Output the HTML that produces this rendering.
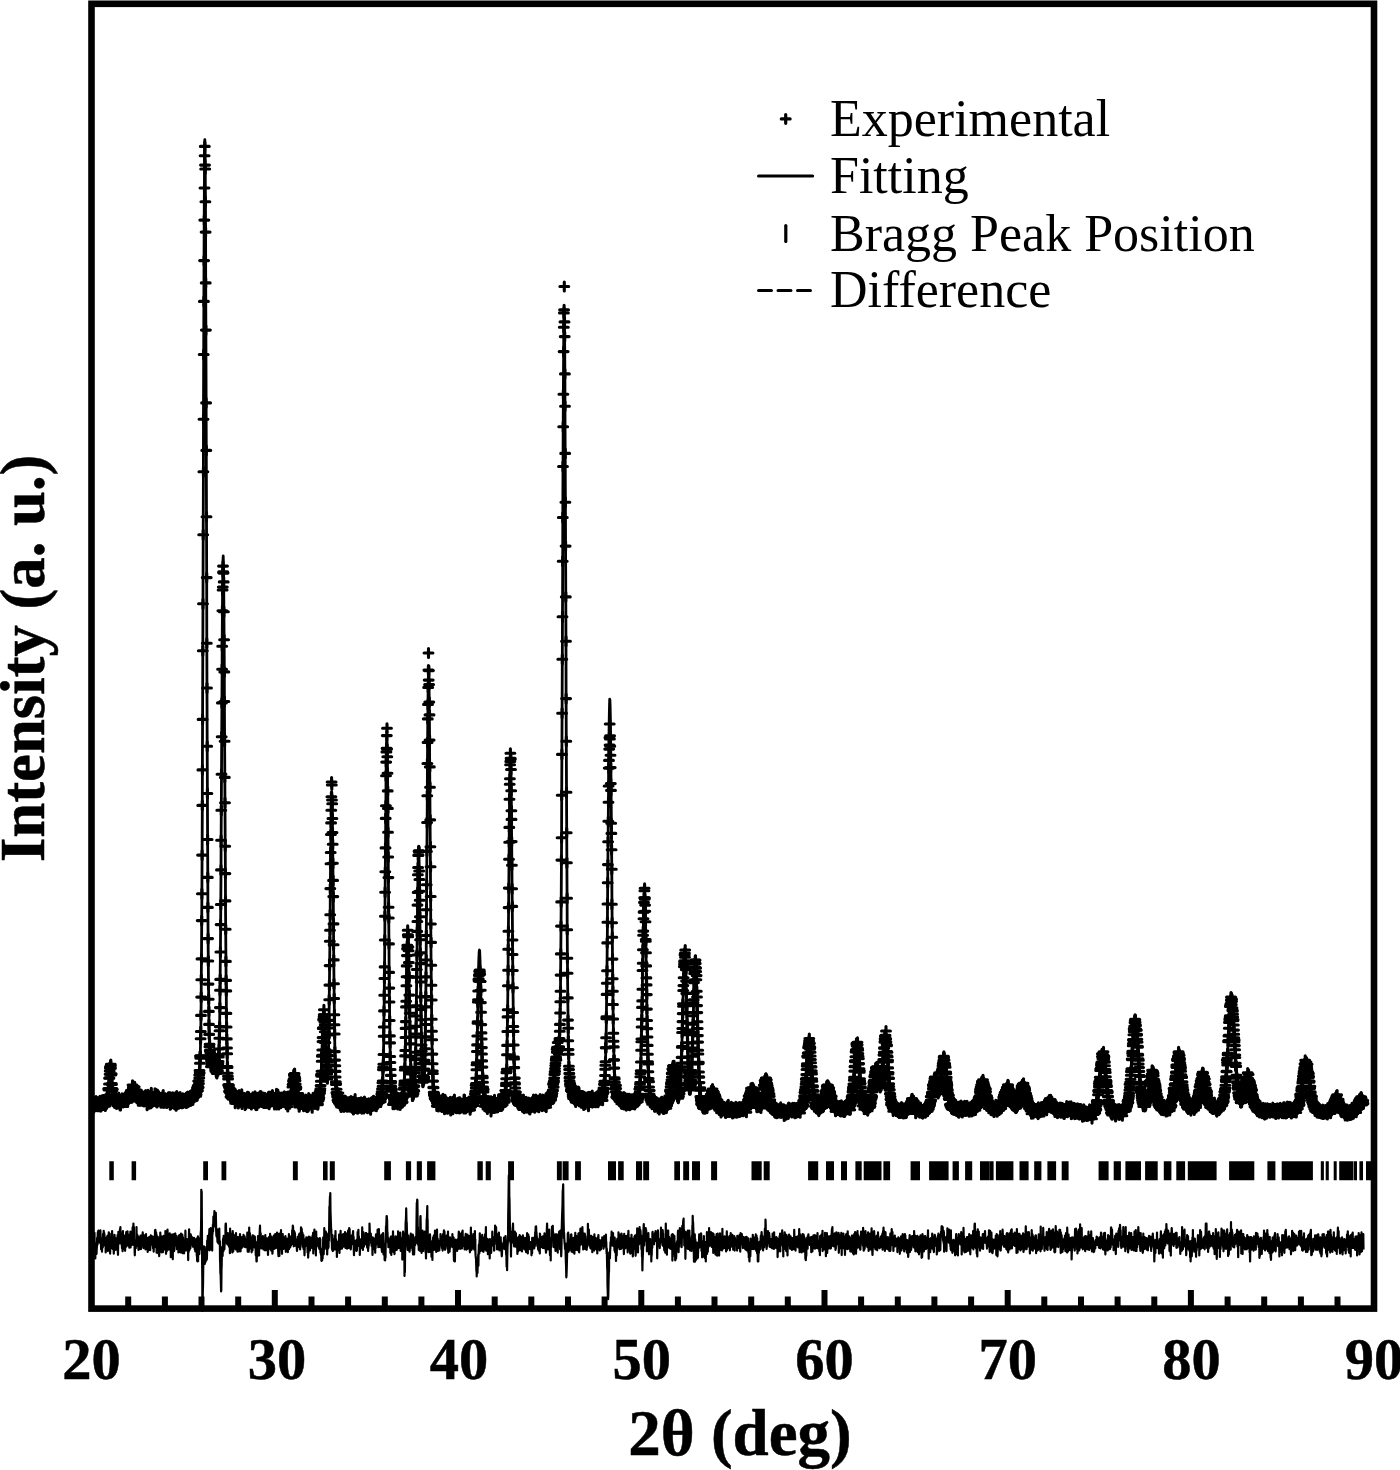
<!DOCTYPE html>
<html><head><meta charset="utf-8"><style>
html,body{margin:0;padding:0;background:#fff;overflow:hidden;}
svg{display:block;}
text{font-family:"Liberation Serif",serif;}
</style></head><body>
<svg width="1400" height="1470" viewBox="0 0 1400 1470">
<defs>
<marker id="p" markerUnits="userSpaceOnUse" markerWidth="16" markerHeight="16" refX="8" refY="8" overflow="visible">
<path d="M3.6 8H12.4M8 3.6V12.4" stroke="#000" stroke-width="3.1" stroke-linecap="round" fill="none"/>
</marker>
<clipPath id="c"><rect x="91.6" y="0" width="1282" height="1310"/></clipPath>
</defs>
<rect width="1400" height="1470" fill="#fff"/>
<polyline clip-path="url(#c)" points="91.6,1105.6 91.8,1108.1 92,1107.8 92.1,1104.4 92.3,1104.8 92.5,1104.3 92.7,1106.4 92.9,1105.2 93.1,1106.7 93.2,1101.6 93.4,1108.3 93.6,1105 93.8,1106.5 94,1104.9 94.2,1104.3 94.3,1106 94.5,1106.6 94.7,1104.6 94.9,1104.7 95.1,1106.3 95.3,1103.2 95.4,1101.9 95.6,1105.6 95.8,1103.5 96,1101 96.2,1103.2 96.4,1103.8 96.5,1102.4 96.7,1101.7 96.9,1104.7 97.1,1106.4 97.3,1104.1 97.5,1103.1 97.6,1105.3 97.8,1105.9 98,1103.9 98.2,1105.5 98.4,1106.4 98.6,1103.9 98.7,1102.7 98.9,1105 99.1,1104.7 99.3,1106.4 99.5,1101.6 99.7,1102.8 99.8,1102.4 100,1100.6 100.2,1104.3 100.4,1105 100.6,1102.5 100.8,1106.7 100.9,1105.5 101.1,1105.1 101.3,1104.6 101.5,1105.7 101.7,1101.1 101.9,1104.9 102,1104.8 102.2,1100.1 102.4,1104.2 102.6,1103 102.8,1105 103,1102.5 103.1,1103.3 103.3,1104 103.5,1101.5 103.7,1104.4 103.9,1102.9 104.1,1104 104.2,1101.9 104.4,1105.1 104.6,1104 104.8,1102.4 105,1103.9 105.2,1105.1 105.3,1106.1 105.5,1099.1 105.7,1104 105.9,1103 106.1,1101.7 106.3,1099.7 106.4,1104.1 106.6,1098.6 106.8,1102 107,1103.2 107.2,1096.5 107.4,1098.5 107.5,1095.5 107.7,1097.8 107.9,1099.3 108.1,1099 108.3,1088.6 108.5,1089.3 108.6,1090 108.8,1089.5 109,1084 109.2,1078.3 109.4,1077.9 109.6,1074.2 109.7,1071.1 109.9,1067.4 110.1,1068.5 110.3,1067.2 110.5,1065.8 110.7,1065.9 110.8,1064.4 111,1068.3 111.2,1075 111.4,1074.1 111.6,1073.9 111.8,1083.6 111.9,1084.5 112.1,1090.9 112.3,1088.5 112.5,1089.5 112.7,1089.2 112.9,1097.1 113,1101.3 113.2,1095 113.4,1096.3 113.6,1099.8 113.8,1097.4 114,1099 114.1,1099.3 114.3,1100.7 114.5,1102.8 114.7,1100.7 114.9,1102.7 115.1,1100.1 115.2,1101.7 115.4,1096.7 115.6,1098.2 115.8,1102.8 116,1100 116.2,1102.5 116.3,1102.4 116.5,1104 116.7,1103 116.9,1103.4 117.1,1101.1 117.3,1100 117.4,1099.9 117.6,1100.4 117.8,1099.1 118,1100.3 118.2,1101.2 118.4,1101.9 118.5,1100.7 118.7,1097.5 118.9,1101.2 119.1,1101.8 119.3,1103.5 119.4,1102.5 119.6,1100 119.8,1099.9 120,1105.3 120.2,1102.8 120.4,1104.9 120.5,1105.5 120.7,1099.6 120.9,1102 121.1,1102.1 121.3,1102.3 121.5,1102.2 121.6,1101.5 121.8,1101.4 122,1098.1 122.2,1100.7 122.4,1099.5 122.6,1101.2 122.7,1100 122.9,1102.1 123.1,1102.5 123.3,1101.5 123.5,1101.4 123.7,1100.9 123.8,1099.8 124,1100.3 124.2,1099.6 124.4,1101.3 124.6,1100.5 124.8,1101.6 124.9,1097.7 125.1,1102.1 125.3,1098.7 125.5,1098.6 125.7,1099.6 125.9,1098.8 126,1100.4 126.2,1098.5 126.4,1097.4 126.6,1097.7 126.8,1102 127,1099.2 127.1,1096.5 127.3,1098.8 127.5,1095.3 127.7,1102.1 127.9,1094.9 128.1,1098.9 128.2,1098.8 128.4,1094.3 128.6,1097.7 128.8,1098.9 129,1097.5 129.2,1096.8 129.3,1097.9 129.5,1095.9 129.7,1095.9 129.9,1094.5 130.1,1095.8 130.3,1092 130.4,1095.5 130.6,1092.2 130.8,1090.6 131,1093.5 131.2,1096.1 131.4,1094.1 131.5,1090.5 131.7,1092.9 131.9,1090 132.1,1090.5 132.3,1090.8 132.5,1085.1 132.6,1090.7 132.8,1087.8 133,1088.5 133.2,1086.6 133.4,1086.5 133.6,1087.9 133.7,1092 133.9,1094 134.1,1090.3 134.3,1093 134.5,1090.1 134.7,1086.7 134.8,1091.6 135,1092.5 135.2,1090.8 135.4,1092.8 135.6,1093.7 135.8,1090.8 135.9,1089.8 136.1,1092.9 136.3,1093.2 136.5,1093.2 136.7,1096.5 136.9,1098.4 137,1094 137.2,1096.7 137.4,1097.5 137.6,1097.3 137.8,1098.2 138,1095.4 138.1,1098 138.3,1100.9 138.5,1098.5 138.7,1095.8 138.9,1098.5 139.1,1100 139.2,1098.3 139.4,1096.5 139.6,1100.9 139.8,1095.3 140,1099 140.2,1098 140.3,1095.7 140.5,1100.7 140.7,1099 140.9,1096 141.1,1099.6 141.3,1097.5 141.4,1094.6 141.6,1097.1 141.8,1099 142,1099.8 142.2,1098.8 142.4,1098.6 142.5,1099.5 142.7,1098.1 142.9,1100.9 143.1,1098.8 143.3,1099.1 143.5,1099.6 143.6,1096.4 143.8,1097.1 144,1101.5 144.2,1099.2 144.4,1097.9 144.6,1099.1 144.7,1097.5 144.9,1099 145.1,1097.1 145.3,1099 145.5,1095.3 145.6,1101 145.8,1097.3 146,1095.2 146.2,1097.9 146.4,1097.6 146.6,1098.6 146.7,1096 146.9,1099 147.1,1105.4 147.3,1095.7 147.5,1098.9 147.7,1097.6 147.8,1098.5 148,1094.6 148.2,1095.9 148.4,1099 148.6,1098 148.8,1101.3 148.9,1096.7 149.1,1098.4 149.3,1103.8 149.5,1096.5 149.7,1096.2 149.9,1097.9 150,1097.8 150.2,1099.6 150.4,1098.2 150.6,1096.5 150.8,1098.5 151,1103.3 151.1,1100.6 151.3,1092.6 151.5,1097.9 151.7,1096.4 151.9,1099.4 152.1,1097.9 152.2,1102.1 152.4,1100.1 152.6,1100.1 152.8,1098.7 153,1098.3 153.2,1099 153.3,1101 153.5,1099.5 153.7,1097.8 153.9,1101 154.1,1098.9 154.3,1098.4 154.4,1097 154.6,1097.5 154.8,1097.3 155,1093.1 155.2,1100.7 155.4,1099.8 155.5,1098.3 155.7,1100.8 155.9,1099.6 156.1,1099.5 156.3,1093.9 156.5,1098.4 156.6,1099.9 156.8,1102 157,1102.5 157.2,1101.7 157.4,1096.6 157.6,1094.6 157.7,1100.1 157.9,1099.1 158.1,1100.9 158.3,1098.8 158.5,1099.5 158.7,1096.1 158.8,1100 159,1098.3 159.2,1099.9 159.4,1100.1 159.6,1099 159.8,1099.9 159.9,1099.2 160.1,1100.8 160.3,1100.3 160.5,1098.3 160.7,1098.2 160.9,1102.8 161,1099.2 161.2,1101.4 161.4,1100.2 161.6,1098.4 161.8,1098 162,1099.8 162.1,1100 162.3,1100.8 162.5,1097.1 162.7,1098.4 162.9,1099.4 163.1,1102.8 163.2,1095 163.4,1100.6 163.6,1098.6 163.8,1100.6 164,1098.8 164.2,1100.5 164.3,1102.9 164.5,1100.5 164.7,1100.7 164.9,1100.6 165.1,1098.4 165.3,1101 165.4,1099.5 165.6,1098.3 165.8,1099.9 166,1099.5 166.2,1101.5 166.4,1099.9 166.5,1099 166.7,1103 166.9,1102.1 167.1,1102.6 167.3,1101.3 167.5,1099.9 167.6,1099.3 167.8,1099.6 168,1102.1 168.2,1100.5 168.4,1097.3 168.6,1100.2 168.7,1097.5 168.9,1100.6 169.1,1097.9 169.3,1097.8 169.5,1100.6 169.7,1100.2 169.8,1097.1 170,1101.9 170.2,1104.8 170.4,1097.5 170.6,1104.1 170.8,1099.1 170.9,1099.5 171.1,1100.2 171.3,1097.7 171.5,1103.2 171.7,1101.6 171.9,1099.1 172,1100.1 172.2,1097.6 172.4,1100 172.6,1102.6 172.8,1097.3 172.9,1099.8 173.1,1101 173.3,1102.8 173.5,1103.5 173.7,1099.9 173.9,1099.3 174,1101.7 174.2,1100.1 174.4,1100.2 174.6,1103 174.8,1104.3 175,1101.4 175.1,1100.5 175.3,1102.1 175.5,1097.1 175.7,1100.9 175.9,1098.8 176.1,1105.8 176.2,1102.4 176.4,1101.3 176.6,1100.6 176.8,1096 177,1102.5 177.2,1104.3 177.3,1099.6 177.5,1102.5 177.7,1102.5 177.9,1098 178.1,1103 178.3,1103.9 178.4,1101.6 178.6,1101 178.8,1102.7 179,1098 179.2,1101.4 179.4,1103.3 179.5,1098.7 179.7,1103.2 179.9,1100.4 180.1,1097 180.3,1101 180.5,1099.2 180.6,1101.8 180.8,1098.7 181,1103.2 181.2,1099.6 181.4,1101.8 181.6,1099.8 181.7,1100.3 181.9,1103.4 182.1,1101.4 182.3,1100.1 182.5,1098.3 182.7,1103.2 182.8,1102.3 183,1100.1 183.2,1101.2 183.4,1098.6 183.6,1098.6 183.8,1099 183.9,1101.3 184.1,1101.2 184.3,1099 184.5,1102 184.7,1102.1 184.9,1100.8 185,1102.5 185.2,1099.8 185.4,1100.1 185.6,1101.3 185.8,1100.2 186,1101.8 186.1,1097.6 186.3,1103.1 186.5,1098.4 186.7,1099.7 186.9,1097.1 187.1,1101.2 187.2,1102.5 187.4,1102 187.6,1101.5 187.8,1096.5 188,1098 188.2,1098.6 188.3,1097.6 188.5,1101.8 188.7,1099.8 188.9,1099.3 189.1,1100.3 189.3,1097.2 189.4,1097.2 189.6,1097.2 189.8,1100 190,1099.6 190.2,1100 190.4,1101 190.5,1095.7 190.7,1097.3 190.9,1098.7 191.1,1095.4 191.3,1097.1 191.5,1100.2 191.6,1100.3 191.8,1100.1 192,1097.8 192.2,1097.1 192.4,1099.8 192.6,1096.5 192.7,1097.9 192.9,1099.9 193.1,1096.1 193.3,1095.4 193.5,1096.5 193.7,1097.6 193.8,1097.2 194,1096.3 194.2,1096.9 194.4,1092 194.6,1093.4 194.8,1095.4 194.9,1092.7 195.1,1091.5 195.3,1091.5 195.5,1091.8 195.7,1093.2 195.9,1090.9 196,1093.4 196.2,1096.3 196.4,1091.7 196.6,1094.5 196.8,1091.8 197,1088.1 197.1,1089.5 197.3,1087.3 197.5,1090.7 197.7,1085.6 197.9,1090.7 198.1,1088.2 198.2,1081.1 198.4,1086.8 198.6,1087.6 198.8,1080.7 199,1083.5 199.2,1075 199.3,1077.9 199.5,1070.6 199.7,1072.9 199.9,1063.2 200.1,1056.1 200.2,1058.1 200.4,1055.9 200.6,1038.8 200.8,1031.5 201,1015.4 201.2,997.1 201.3,979.7 201.5,958.9 201.7,920.6 201.9,893.8 202.1,855.1 202.3,805.4 202.4,769.9 202.6,719.4 202.8,650.8 203,603.8 203.2,534.8 203.4,471.8 203.5,419.2 203.7,354.5 203.9,301.4 204.1,260.6 204.3,220.1 204.5,188 204.6,155.7 204.8,146.4 205,165.1 205.2,169 205.4,201.7 205.6,232.1 205.7,282.9 205.9,330.1 206.1,402.9 206.3,450.4 206.5,516.7 206.7,577.6 206.8,643.2 207,688 207.2,746.3 207.4,793.5 207.6,839.5 207.8,877.4 207.9,907.4 208.1,938.6 208.3,961 208.5,984.1 208.7,999.2 208.9,1011.4 209,1024.4 209.2,1034.4 209.4,1046.7 209.6,1044.4 209.8,1050.8 210,1057.1 210.1,1050.1 210.3,1052.8 210.5,1055.5 210.7,1059.3 210.9,1066.6 211.1,1061.6 211.2,1064 211.4,1060.4 211.6,1054.6 211.8,1055 212,1063.5 212.2,1061.2 212.3,1057.3 212.5,1063.4 212.7,1056.6 212.9,1063.4 213.1,1064.2 213.3,1058.6 213.4,1057.9 213.6,1063.1 213.8,1058.4 214,1063.7 214.2,1058.9 214.4,1064.4 214.5,1063.1 214.7,1062.2 214.9,1061.6 215.1,1065.1 215.3,1060.3 215.5,1065 215.6,1065.3 215.8,1068.6 216,1064.2 216.2,1072.2 216.4,1067.6 216.6,1065.9 216.7,1072.5 216.9,1073.5 217.1,1068.9 217.3,1067 217.5,1069.1 217.7,1066.9 217.8,1067.1 218,1070.9 218.2,1066.4 218.4,1063.7 218.6,1061.5 218.8,1056.9 218.9,1054.7 219.1,1049 219.3,1038.3 219.5,1030.7 219.7,1026.6 219.9,1007.6 220,990.3 220.2,979.4 220.4,952 220.6,924.6 220.8,904.5 221,869.9 221.1,840.2 221.3,810.3 221.5,774.3 221.7,736.7 221.9,702.9 222.1,669.2 222.2,646.2 222.4,610.8 222.6,590 222.8,587.1 223,566.1 223.2,571.9 223.3,572.5 223.5,573.1 223.7,581.9 223.9,611.8 224.1,639.7 224.3,671.9 224.4,701.5 224.6,741.3 224.8,777.4 225,802.7 225.2,846.2 225.4,873.6 225.5,900.9 225.7,929.3 225.9,961.4 226.1,980.4 226.3,990.9 226.4,1013.4 226.6,1027 226.8,1038.9 227,1048 227.2,1053.7 227.4,1066.6 227.5,1067.4 227.7,1073.3 227.9,1076.3 228.1,1078.9 228.3,1084.7 228.5,1085.7 228.6,1084.7 228.8,1085.4 229,1087.5 229.2,1091.7 229.4,1090.5 229.6,1091.4 229.7,1090.7 229.9,1091.4 230.1,1092.9 230.3,1088.7 230.5,1096.8 230.7,1091.9 230.8,1092.7 231,1097.2 231.2,1095 231.4,1094.9 231.6,1093.8 231.8,1091.9 231.9,1095.9 232.1,1098.3 232.3,1094 232.5,1099.1 232.7,1093.9 232.9,1094.9 233,1097.7 233.2,1096.8 233.4,1098.4 233.6,1095.5 233.8,1095 234,1093.4 234.1,1094.9 234.3,1095.3 234.5,1094.7 234.7,1098.4 234.9,1096.5 235.1,1093.8 235.2,1103.3 235.4,1096.4 235.6,1095.6 235.8,1100.9 236,1100.8 236.2,1096.1 236.3,1095.5 236.5,1096.5 236.7,1101 236.9,1098.1 237.1,1097.1 237.3,1098.8 237.4,1101.4 237.6,1096.1 237.8,1098.2 238,1096.2 238.2,1103.5 238.4,1102.9 238.5,1101.1 238.7,1098.9 238.9,1100.6 239.1,1095 239.3,1099.9 239.5,1096.6 239.6,1096.7 239.8,1098 240,1098.7 240.2,1100.7 240.4,1100.9 240.6,1100.1 240.7,1097.6 240.9,1101 241.1,1099.4 241.3,1102 241.5,1097.8 241.7,1094.1 241.8,1098.8 242,1104.1 242.2,1100.7 242.4,1099.4 242.6,1101.6 242.8,1100.8 242.9,1100.8 243.1,1098.8 243.3,1100 243.5,1100.3 243.7,1098.6 243.9,1097.7 244,1100.2 244.2,1101.9 244.4,1101.3 244.6,1101 244.8,1101 245,1105.2 245.1,1100.5 245.3,1102.1 245.5,1104 245.7,1100.2 245.9,1100.6 246.1,1102.2 246.2,1103.5 246.4,1100.7 246.6,1100.8 246.8,1100.3 247,1097.7 247.2,1102.4 247.3,1099.6 247.5,1096.7 247.7,1099.9 247.9,1096.7 248.1,1098.2 248.3,1100.2 248.4,1098.4 248.6,1102.3 248.8,1097.3 249,1100.7 249.2,1101.3 249.4,1103.1 249.5,1102.1 249.7,1100.7 249.9,1100.4 250.1,1100.1 250.3,1102.5 250.5,1099 250.6,1101.3 250.8,1100.1 251,1100.8 251.2,1099.8 251.4,1104.5 251.6,1099 251.7,1100.8 251.9,1100.8 252.1,1101.5 252.3,1101.2 252.5,1101.2 252.7,1102.3 252.8,1097.3 253,1100.3 253.2,1097.9 253.4,1100.8 253.6,1098 253.7,1098.4 253.9,1100.2 254.1,1103.1 254.3,1101.5 254.5,1100.9 254.7,1103.1 254.8,1098.5 255,1096.2 255.2,1099.5 255.4,1099.8 255.6,1102.8 255.8,1104.6 255.9,1097.7 256.1,1105.2 256.3,1103.4 256.5,1102 256.7,1101.1 256.9,1105.1 257,1100.5 257.2,1099.4 257.4,1100.6 257.6,1097.6 257.8,1101.3 258,1100.1 258.1,1101 258.3,1101.1 258.5,1098.3 258.7,1102.9 258.9,1098.3 259.1,1102.1 259.2,1097.2 259.4,1101.1 259.6,1098.7 259.8,1100.4 260,1099.1 260.2,1096 260.3,1098.1 260.5,1100.5 260.7,1101.6 260.9,1097.4 261.1,1096.2 261.3,1098.6 261.4,1099.9 261.6,1099.1 261.8,1098.7 262,1102 262.2,1102.2 262.4,1101.8 262.5,1098.5 262.7,1100.5 262.9,1099.9 263.1,1097.5 263.3,1102 263.5,1100.5 263.6,1099.4 263.8,1103.1 264,1101.8 264.2,1102 264.4,1102.7 264.6,1101.7 264.7,1097.8 264.9,1099.5 265.1,1102.3 265.3,1098.8 265.5,1100.4 265.7,1101.1 265.8,1103.1 266,1102.8 266.2,1102 266.4,1099.9 266.6,1102.1 266.8,1101.3 266.9,1099.9 267.1,1102.9 267.3,1101.2 267.5,1098.8 267.7,1102.7 267.9,1099.7 268,1101.4 268.2,1097.2 268.4,1100.2 268.6,1098.4 268.8,1098.3 269,1096.5 269.1,1104.4 269.3,1099.9 269.5,1100.7 269.7,1102.4 269.9,1099.9 270.1,1101.2 270.2,1097.5 270.4,1100.6 270.6,1099.4 270.8,1101.1 271,1100.5 271.2,1097.4 271.3,1096.5 271.5,1098.2 271.7,1101.6 271.9,1101 272.1,1100.9 272.3,1096.2 272.4,1094.9 272.6,1098.9 272.8,1099.5 273,1098.9 273.2,1100.8 273.4,1099.8 273.5,1097.8 273.7,1098.4 273.9,1100.4 274.1,1100.2 274.3,1099.9 274.5,1104.5 274.6,1099.5 274.8,1100.3 275,1098.1 275.2,1099.3 275.4,1101 275.6,1101.1 275.7,1099.7 275.9,1100.8 276.1,1100.1 276.3,1096.3 276.5,1093.6 276.7,1104.5 276.8,1101.6 277,1099.8 277.2,1096.5 277.4,1097.4 277.6,1102.6 277.8,1094.5 277.9,1099.3 278.1,1101.6 278.3,1100.2 278.5,1101.4 278.7,1099.6 278.9,1104.6 279,1097.9 279.2,1097.2 279.4,1100.4 279.6,1102.7 279.8,1099.7 280,1101.9 280.1,1098.8 280.3,1097.6 280.5,1102.7 280.7,1103 280.9,1103 281,1099.1 281.2,1097.8 281.4,1097.8 281.6,1099.6 281.8,1101.3 282,1101.1 282.1,1097.4 282.3,1100.6 282.5,1100.3 282.7,1100.4 282.9,1100.2 283.1,1099.9 283.2,1101.5 283.4,1100.6 283.6,1100.8 283.8,1099.1 284,1101.2 284.2,1100.2 284.3,1096.3 284.5,1101.5 284.7,1100 284.9,1102.4 285.1,1100.2 285.3,1100.4 285.4,1101 285.6,1100.6 285.8,1099.7 286,1097.1 286.2,1104.3 286.4,1097.5 286.5,1100 286.7,1102 286.9,1101.4 287.1,1101.8 287.3,1102.2 287.5,1103.2 287.6,1101.3 287.8,1106.5 288,1098.6 288.2,1101.1 288.4,1099.9 288.6,1099.5 288.7,1101.1 288.9,1103.4 289.1,1098.9 289.3,1098.8 289.5,1101.6 289.7,1101.1 289.8,1103.8 290,1101.7 290.2,1099.7 290.4,1098.2 290.6,1098.9 290.8,1097.5 290.9,1094.4 291.1,1096.6 291.3,1095.3 291.5,1094.3 291.7,1092.8 291.9,1096.3 292,1092.8 292.2,1092 292.4,1087 292.6,1084.5 292.8,1084.6 293,1084.2 293.1,1081.3 293.3,1080.1 293.5,1081.6 293.7,1078.8 293.9,1074.6 294.1,1075.3 294.2,1074.4 294.4,1076.5 294.6,1073.5 294.8,1076.6 295,1079.7 295.2,1079.3 295.3,1078.4 295.5,1080.7 295.7,1084.1 295.9,1086.6 296.1,1089.1 296.3,1088.4 296.4,1087.3 296.6,1095 296.8,1093.8 297,1095.3 297.2,1096.2 297.4,1094.3 297.5,1096.8 297.7,1098.9 297.9,1101.2 298.1,1099.8 298.3,1093.6 298.5,1100.1 298.6,1101.7 298.8,1104 299,1103.1 299.2,1106.9 299.4,1104.9 299.6,1104.9 299.7,1104.3 299.9,1099.7 300.1,1104.3 300.3,1103.9 300.5,1101.7 300.7,1104 300.8,1103.7 301,1101.9 301.2,1102.7 301.4,1102.4 301.6,1103.5 301.8,1102.2 301.9,1104.1 302.1,1099.2 302.3,1102.5 302.5,1099.8 302.7,1102.2 302.9,1104.2 303,1103.2 303.2,1103 303.4,1103.3 303.6,1106.3 303.8,1101 304,1105 304.1,1100.2 304.3,1102.3 304.5,1103.6 304.7,1101.6 304.9,1103.7 305.1,1104.7 305.2,1100.9 305.4,1103.1 305.6,1102.6 305.8,1099.4 306,1102.9 306.2,1101.7 306.3,1106 306.5,1101.6 306.7,1106.7 306.9,1102.2 307.1,1107.2 307.2,1104.4 307.4,1104.2 307.6,1104.9 307.8,1105.1 308,1106.1 308.2,1106.7 308.3,1102.6 308.5,1100.8 308.7,1097.9 308.9,1102.5 309.1,1104.8 309.3,1104 309.4,1103.4 309.6,1102.5 309.8,1101.9 310,1102.6 310.2,1103.9 310.4,1099.6 310.5,1104.6 310.7,1100.2 310.9,1102.8 311.1,1101.8 311.3,1102.3 311.5,1100.9 311.6,1100.7 311.8,1102.5 312,1100.7 312.2,1107.9 312.4,1102 312.6,1101.5 312.7,1101.7 312.9,1100.6 313.1,1097.7 313.3,1102.2 313.5,1103.3 313.7,1099.5 313.8,1102.6 314,1100 314.2,1102.4 314.4,1103.1 314.6,1103.3 314.8,1103.2 314.9,1100.8 315.1,1103.9 315.3,1101.1 315.5,1102.7 315.7,1103.3 315.9,1101.2 316,1099 316.2,1102.9 316.4,1099.2 316.6,1099.5 316.8,1098.9 317,1102.9 317.1,1100.6 317.3,1096.1 317.5,1102.2 317.7,1104.8 317.9,1104 318.1,1098.7 318.2,1099.8 318.4,1100.3 318.6,1100.7 318.8,1098.4 319,1095.4 319.2,1098.7 319.3,1097.6 319.5,1092.3 319.7,1093.2 319.9,1093.3 320.1,1091 320.3,1090.4 320.4,1088.8 320.6,1085.6 320.8,1081.2 321,1074.8 321.2,1076.1 321.4,1074.1 321.5,1071.2 321.7,1061.3 321.9,1056.3 322.1,1055.2 322.3,1050 322.5,1041.6 322.6,1037.6 322.8,1028.4 323,1027.9 323.2,1019.9 323.4,1018.8 323.6,1016.8 323.7,1014.7 323.9,1009.8 324.1,1014.8 324.3,1020.4 324.5,1022.3 324.7,1025.1 324.8,1031.8 325,1037.2 325.2,1042.5 325.4,1042.7 325.6,1049.9 325.8,1053.5 325.9,1056.4 326.1,1058.7 326.3,1065.9 326.5,1066.9 326.7,1077.1 326.9,1073.1 327,1073.9 327.2,1073.7 327.4,1078.9 327.6,1070.4 327.8,1069.9 328,1064.7 328.1,1061.5 328.3,1055.6 328.5,1051.1 328.7,1034.9 328.9,1028 329.1,1020.4 329.2,999.8 329.4,985.1 329.6,965.6 329.8,941.3 330,930.2 330.2,914.7 330.3,888.6 330.5,863.7 330.7,852.5 330.9,834.5 331.1,822.9 331.3,810.3 331.4,796.8 331.6,782 331.8,785 332,800 332.2,803.8 332.4,818.5 332.5,832.6 332.7,844.2 332.9,863.3 333.1,880.4 333.3,896.6 333.5,923.9 333.6,944.8 333.8,959.9 334,983.8 334.2,998.5 334.4,1014.7 334.5,1024.7 334.7,1034 334.9,1051.6 335.1,1060.1 335.3,1065.8 335.5,1071.4 335.6,1077 335.8,1081.7 336,1084.4 336.2,1083.8 336.4,1092.6 336.6,1089.2 336.7,1093.4 336.9,1094.6 337.1,1096.8 337.3,1093.5 337.5,1100.3 337.7,1099.7 337.8,1100.4 338,1101.8 338.2,1097.7 338.4,1093.1 338.6,1100.7 338.8,1103.1 338.9,1103 339.1,1099.6 339.3,1100.7 339.5,1101.7 339.7,1097.5 339.9,1100.1 340,1100.3 340.2,1105.1 340.4,1100.5 340.6,1105.3 340.8,1102.2 341,1098.8 341.1,1107 341.3,1100.5 341.5,1103.9 341.7,1106.2 341.9,1101.7 342.1,1100.3 342.2,1105.1 342.4,1103.1 342.6,1100.6 342.8,1101 343,1102.4 343.2,1105.3 343.3,1102.8 343.5,1104.7 343.7,1106.8 343.9,1106.1 344.1,1106.5 344.3,1106.1 344.4,1100.4 344.6,1106.2 344.8,1104.4 345,1103.6 345.2,1101.7 345.4,1100.7 345.5,1101.7 345.7,1103.9 345.9,1101.7 346.1,1102.4 346.3,1102.9 346.5,1105.5 346.6,1103.6 346.8,1103.9 347,1106.9 347.2,1103.6 347.4,1105.5 347.6,1102.2 347.7,1105 347.9,1104.6 348.1,1104.7 348.3,1103.5 348.5,1102.4 348.7,1103.9 348.8,1103.5 349,1106.6 349.2,1106.3 349.4,1102.2 349.6,1105.8 349.8,1103.6 349.9,1105.5 350.1,1103.7 350.3,1101.7 350.5,1106.7 350.7,1105.6 350.9,1102.3 351,1101 351.2,1103.7 351.4,1102.4 351.6,1104 351.8,1106 352,1107.7 352.1,1104.1 352.3,1107.5 352.5,1107.1 352.7,1104 352.9,1101.6 353.1,1106.6 353.2,1106.1 353.4,1109.6 353.6,1107.7 353.8,1106.5 354,1108.3 354.2,1102.9 354.3,1105.3 354.5,1104.4 354.7,1108.4 354.9,1106.1 355.1,1099 355.3,1107.7 355.4,1103.2 355.6,1106.6 355.8,1104.1 356,1105.5 356.2,1106.3 356.4,1105.5 356.5,1103.2 356.7,1107.9 356.9,1105.9 357.1,1105.1 357.3,1106.5 357.5,1104.1 357.6,1108.9 357.8,1105.6 358,1105.9 358.2,1105.8 358.4,1103.4 358.6,1102.9 358.7,1105.6 358.9,1105.9 359.1,1107.8 359.3,1106.1 359.5,1103.1 359.7,1106.2 359.8,1106.8 360,1107.2 360.2,1105.9 360.4,1102.8 360.6,1107.5 360.8,1103.8 360.9,1106.3 361.1,1102.1 361.3,1106.7 361.5,1103.7 361.7,1107.3 361.8,1108.7 362,1107.5 362.2,1102.9 362.4,1103.3 362.6,1103.5 362.8,1106.5 362.9,1105.8 363.1,1105.5 363.3,1105.8 363.5,1106.3 363.7,1106.4 363.9,1108.5 364,1105 364.2,1105.5 364.4,1101.4 364.6,1102.5 364.8,1103.7 365,1102.7 365.1,1105.5 365.3,1107.1 365.5,1104.2 365.7,1104.1 365.9,1104 366.1,1105.3 366.2,1103.9 366.4,1105.8 366.6,1105.6 366.8,1105.7 367,1106.5 367.2,1105 367.3,1105.2 367.5,1108.4 367.7,1104.8 367.9,1106.5 368.1,1105 368.3,1104 368.4,1103.9 368.6,1103.2 368.8,1104.8 369,1103.6 369.2,1103.9 369.4,1107.2 369.5,1104.5 369.7,1107 369.9,1105.2 370.1,1106.4 370.3,1103.4 370.5,1104.9 370.6,1109.9 370.8,1106.2 371,1106.6 371.2,1105 371.4,1106.2 371.6,1102.2 371.7,1102.7 371.9,1105.3 372.1,1106 372.3,1103.5 372.5,1103.9 372.7,1103.6 372.8,1103.9 373,1101.8 373.2,1101.3 373.4,1104 373.6,1100.6 373.8,1102.1 373.9,1102.7 374.1,1101.8 374.3,1104.4 374.5,1102.9 374.7,1103.6 374.9,1101.7 375,1102.2 375.2,1104.7 375.4,1104.3 375.6,1102.5 375.8,1104.1 376,1103.7 376.1,1103.6 376.3,1106.4 376.5,1102.3 376.7,1103.9 376.9,1103.8 377.1,1102.3 377.2,1100.3 377.4,1104 377.6,1103 377.8,1102.4 378,1102.2 378.2,1102.1 378.3,1100 378.5,1102.4 378.7,1097.8 378.9,1101.3 379.1,1098.1 379.3,1100.3 379.4,1102.3 379.6,1100 379.8,1099.3 380,1101.1 380.2,1099.1 380.4,1098.5 380.5,1098.1 380.7,1101.8 380.9,1099.4 381.1,1098.4 381.3,1094 381.5,1097.1 381.6,1091.7 381.8,1094.3 382,1088.9 382.2,1093.9 382.4,1082.7 382.6,1086.3 382.7,1081.1 382.9,1069.6 383.1,1067.2 383.3,1064.2 383.5,1054.5 383.7,1036.2 383.8,1027 384,1010.9 384.2,995.2 384.4,978.5 384.6,966.9 384.8,940 384.9,916.2 385.1,892.2 385.3,871.8 385.5,847.9 385.7,818.4 385.9,805.7 386,775.8 386.2,762.1 386.4,751.9 386.6,748.2 386.8,735.6 387,728.2 387.1,749.1 387.3,756.7 387.5,773.3 387.7,790.9 387.9,808.4 388,832.3 388.2,857 388.4,877.6 388.6,907.3 388.8,918 389,943.9 389.1,972.4 389.3,988.1 389.5,1002 389.7,1020.5 389.9,1035.9 390.1,1042.9 390.2,1056.5 390.4,1062.5 390.6,1069.5 390.8,1075.4 391,1083 391.2,1081.5 391.3,1086.4 391.5,1091.2 391.7,1088.9 391.9,1089.6 392.1,1095.8 392.3,1095.5 392.4,1096 392.6,1097.3 392.8,1095.4 393,1104.4 393.2,1096.3 393.4,1097.8 393.5,1096 393.7,1098.5 393.9,1102.9 394.1,1099.9 394.3,1101.3 394.5,1099.2 394.6,1104.2 394.8,1100.9 395,1098 395.2,1102.4 395.4,1100.1 395.6,1102.3 395.7,1101.4 395.9,1101.8 396.1,1101.6 396.3,1099.5 396.5,1098.3 396.7,1103.5 396.8,1101.3 397,1102.2 397.2,1100.7 397.4,1097.4 397.6,1099 397.8,1104.6 397.9,1100.1 398.1,1100.9 398.3,1098.7 398.5,1100.6 398.7,1101 398.9,1101.3 399,1101.5 399.2,1100.4 399.4,1100.4 399.6,1101.6 399.8,1102.2 400,1101.2 400.1,1105.1 400.3,1101.8 400.5,1101.6 400.7,1099.8 400.9,1103.2 401.1,1098.8 401.2,1097.4 401.4,1098.6 401.6,1101.8 401.8,1097.8 402,1102.8 402.2,1099.6 402.3,1096 402.5,1098.3 402.7,1102.1 402.9,1095.6 403.1,1093.7 403.3,1096.6 403.4,1097 403.6,1094.6 403.8,1089.3 404,1087.8 404.2,1084.9 404.4,1083.1 404.5,1081 404.7,1069.9 404.9,1067.4 405.1,1055.9 405.3,1050.5 405.5,1037.5 405.6,1028.4 405.8,1021.6 406,1006.9 406.2,1001.3 406.4,985.7 406.6,976.8 406.7,965.9 406.9,955.6 407.1,948.9 407.3,945.4 407.5,947.5 407.7,930.2 407.8,934.9 408,935.2 408.2,936.8 408.4,946.9 408.6,950.7 408.8,962.5 408.9,976.7 409.1,977 409.3,995.1 409.5,1006.7 409.7,1013.2 409.9,1027.9 410,1037 410.2,1043.9 410.4,1056.2 410.6,1056.7 410.8,1068.1 411,1071.4 411.1,1074 411.3,1080.1 411.5,1083 411.7,1088.4 411.9,1085.1 412.1,1089.8 412.2,1090.4 412.4,1096 412.6,1090.5 412.8,1095.8 413,1089.6 413.2,1094.3 413.3,1093 413.5,1093.7 413.7,1090.4 413.9,1086.5 414.1,1086 414.3,1090.9 414.4,1086 414.6,1080.5 414.8,1081.2 415,1072.8 415.2,1067.4 415.3,1059.8 415.5,1058.7 415.7,1052.2 415.9,1034.1 416.1,1026.4 416.3,1016 416.4,1005.9 416.6,977.1 416.8,969.5 417,955 417.2,931.4 417.4,921.5 417.5,905.1 417.7,892.4 417.9,874.7 418.1,867.5 418.3,855.5 418.5,854.8 418.6,851.2 418.8,850.8 419,851.7 419.2,871 419.4,879.5 419.6,891.3 419.7,900.2 419.9,916.8 420.1,939.8 420.3,952.9 420.5,963.6 420.7,982 420.8,996.9 421,1009.4 421.2,1019.7 421.4,1037.1 421.6,1045 421.8,1051.3 421.9,1054.9 422.1,1063.6 422.3,1070.1 422.5,1076.3 422.7,1076.4 422.9,1082.3 423,1081.5 423.2,1080.3 423.4,1075.7 423.6,1079.2 423.8,1077.4 424,1079 424.1,1077.7 424.3,1077 424.5,1069 424.7,1060.4 424.9,1062.7 425.1,1048.7 425.2,1036.8 425.4,1024.5 425.6,1006.9 425.8,996.5 426,976.9 426.2,960 426.3,935.5 426.5,909.8 426.7,884.8 426.9,851.4 427.1,822.5 427.3,795.7 427.4,763.5 427.6,742.4 427.8,718.9 428,704.4 428.2,687.4 428.4,670 428.5,653 428.7,680.1 428.9,670.6 429.1,684.6 429.3,702.1 429.5,714.9 429.6,740.1 429.8,766.9 430,787.2 430.2,819.9 430.4,846.8 430.6,866.7 430.7,896.5 430.9,924 431.1,942.4 431.3,965.3 431.5,985.2 431.7,1000 431.8,1019.2 432,1031.3 432.2,1039.7 432.4,1054.1 432.6,1063.8 432.8,1071 432.9,1073.5 433.1,1081.1 433.3,1087.3 433.5,1087.7 433.7,1092.4 433.9,1094.6 434,1093.1 434.2,1095.9 434.4,1094.8 434.6,1098.6 434.8,1096.7 435,1096.2 435.1,1097.8 435.3,1098.2 435.5,1099.5 435.7,1100 435.9,1096.8 436.1,1098.2 436.2,1100.6 436.4,1101.1 436.6,1100.5 436.8,1106.1 437,1103.1 437.2,1100.8 437.3,1102.7 437.5,1104.1 437.7,1102.2 437.9,1098 438.1,1102 438.3,1102 438.4,1106.5 438.6,1098.4 438.8,1105.5 439,1102.1 439.2,1104.4 439.4,1102 439.5,1103.1 439.7,1105.1 439.9,1103.1 440.1,1105.1 440.3,1102.9 440.5,1102.3 440.6,1102.8 440.8,1102.3 441,1103.1 441.2,1106.2 441.4,1101.1 441.6,1100.2 441.7,1103.6 441.9,1107.1 442.1,1105.8 442.3,1106.4 442.5,1106.3 442.6,1102.4 442.8,1104.1 443,1098.6 443.2,1102.8 443.4,1105.3 443.6,1101 443.7,1100 443.9,1101.6 444.1,1104.6 444.3,1106.6 444.5,1109.4 444.7,1107.2 444.8,1101.3 445,1099.7 445.2,1104.7 445.4,1106.5 445.6,1101.2 445.8,1103.5 445.9,1103.6 446.1,1104.6 446.3,1104.2 446.5,1105.6 446.7,1106.7 446.9,1104.8 447,1106.2 447.2,1108.7 447.4,1102.7 447.6,1102.7 447.8,1105.8 448,1108.5 448.1,1105.1 448.3,1107 448.5,1104.2 448.7,1106.7 448.9,1103.7 449.1,1106.2 449.2,1105.7 449.4,1105.7 449.6,1107.7 449.8,1107.1 450,1103.8 450.2,1106.8 450.3,1101.7 450.5,1107 450.7,1110.5 450.9,1106.1 451.1,1106.1 451.3,1105.2 451.4,1106.8 451.6,1104.3 451.8,1106.5 452,1104.6 452.2,1104.4 452.4,1105.4 452.5,1105.1 452.7,1101.8 452.9,1109.3 453.1,1105.5 453.3,1101.9 453.5,1107.4 453.6,1105.2 453.8,1105.7 454,1106.7 454.2,1103.5 454.4,1099.5 454.6,1105.1 454.7,1105.8 454.9,1107.3 455.1,1103.8 455.3,1104.8 455.5,1106.1 455.7,1104.7 455.8,1104.8 456,1105.8 456.2,1103.4 456.4,1108.4 456.6,1103.5 456.8,1105.4 456.9,1104.7 457.1,1104 457.3,1106.4 457.5,1107.3 457.7,1108.2 457.9,1106.5 458,1104.5 458.2,1107 458.4,1102.5 458.6,1105.4 458.8,1106.4 459,1106.4 459.1,1103.1 459.3,1102.4 459.5,1108.6 459.7,1104.3 459.9,1102.1 460.1,1102.9 460.2,1105.3 460.4,1107.6 460.6,1105.3 460.8,1107.7 461,1105.8 461.2,1106.2 461.3,1107.2 461.5,1104.6 461.7,1105.9 461.9,1104.5 462.1,1104.1 462.3,1106.6 462.4,1103.7 462.6,1105.4 462.8,1103.7 463,1105.1 463.2,1104.2 463.4,1107.4 463.5,1105.4 463.7,1105.4 463.9,1108.5 464.1,1099.5 464.3,1103 464.5,1099.8 464.6,1105.2 464.8,1106 465,1106.4 465.2,1105.7 465.4,1103.4 465.6,1108.6 465.7,1105.7 465.9,1104.6 466.1,1102.9 466.3,1105.9 466.5,1104.1 466.7,1104.1 466.8,1105.4 467,1105.4 467.2,1103.3 467.4,1107.4 467.6,1102.9 467.8,1102.7 467.9,1105.5 468.1,1105.1 468.3,1105 468.5,1104 468.7,1104.8 468.8,1103.6 469,1101.4 469.2,1106.1 469.4,1102.6 469.6,1104.1 469.8,1106 469.9,1104.5 470.1,1109.9 470.3,1101.6 470.5,1102.9 470.7,1104.5 470.9,1107 471,1103.7 471.2,1101.2 471.4,1106.3 471.6,1102.1 471.8,1103.5 472,1105.6 472.1,1102.3 472.3,1102.6 472.5,1104.4 472.7,1102.9 472.9,1103.7 473.1,1101 473.2,1102.5 473.4,1100.2 473.6,1099 473.8,1105.5 474,1102.4 474.2,1102.8 474.3,1098.2 474.5,1099.4 474.7,1098 474.9,1094.1 475.1,1096.9 475.3,1092.1 475.4,1091 475.6,1085.2 475.8,1087.9 476,1083.5 476.2,1078.2 476.4,1069.7 476.5,1064.7 476.7,1062.8 476.9,1051.5 477.1,1044.9 477.3,1036 477.5,1023.3 477.6,1021.8 477.8,1002 478,999.8 478.2,991 478.4,979.6 478.6,981.1 478.7,978.7 478.9,975.4 479.1,971.3 479.3,974.2 479.5,974.7 479.7,970 479.8,974.1 480,971.8 480.2,974.3 480.4,981.2 480.6,981.5 480.8,990.3 480.9,1002.6 481.1,1012.2 481.3,1024.6 481.5,1032.9 481.7,1039 481.9,1047.6 482,1054 482.2,1060.9 482.4,1067.1 482.6,1076.2 482.8,1077.7 483,1082.2 483.1,1087.1 483.3,1088.6 483.5,1091.9 483.7,1089.6 483.9,1097.1 484.1,1097.1 484.2,1099.3 484.4,1100.6 484.6,1096.7 484.8,1106.3 485,1102.1 485.2,1102.6 485.3,1098.8 485.5,1104.1 485.7,1103.9 485.9,1102.6 486.1,1104 486.3,1106.3 486.4,1103.1 486.6,1102.1 486.8,1106.8 487,1104.7 487.2,1103.9 487.4,1109 487.5,1104.8 487.7,1104.2 487.9,1105.1 488.1,1103.8 488.3,1105.1 488.5,1105.1 488.6,1103.5 488.8,1104.3 489,1105.5 489.2,1105.7 489.4,1106.1 489.6,1106.6 489.7,1105.5 489.9,1106.1 490.1,1104.3 490.3,1104.6 490.5,1107.2 490.7,1101.2 490.8,1105.9 491,1111.5 491.2,1101.5 491.4,1108.2 491.6,1101.7 491.8,1105.9 491.9,1108.4 492.1,1108.2 492.3,1103.4 492.5,1102.6 492.7,1102.3 492.9,1106.6 493,1104.4 493.2,1105.2 493.4,1105.7 493.6,1106 493.8,1106.2 494,1105.4 494.1,1101.9 494.3,1108 494.5,1099.6 494.7,1107.6 494.9,1103.9 495.1,1104.7 495.2,1104 495.4,1104.3 495.6,1104.9 495.8,1104.4 496,1102.7 496.1,1106.6 496.3,1103.7 496.5,1107.5 496.7,1104.5 496.9,1103.3 497.1,1105.6 497.2,1106.5 497.4,1102.8 497.6,1104 497.8,1107.4 498,1102.5 498.2,1102.7 498.3,1104.7 498.5,1101.9 498.7,1099.3 498.9,1100.9 499.1,1104.9 499.3,1105.4 499.4,1105.2 499.6,1104.8 499.8,1101.4 500,1105.2 500.2,1106.1 500.4,1102.2 500.5,1105.5 500.7,1102.7 500.9,1103.7 501.1,1104 501.3,1100 501.5,1106 501.6,1101.1 501.8,1102.5 502,1101.5 502.2,1103.3 502.4,1103.1 502.6,1102 502.7,1104.8 502.9,1102.2 503.1,1100.5 503.3,1095 503.5,1100.2 503.7,1099.9 503.8,1098.3 504,1097.9 504.2,1100.5 504.4,1101 504.6,1102.2 504.8,1099.8 504.9,1094.7 505.1,1095.7 505.3,1090.6 505.5,1093.5 505.7,1090.5 505.9,1085.4 506,1083.2 506.2,1078.7 506.4,1072.7 506.6,1071.6 506.8,1069.2 507,1054.7 507.1,1045.4 507.3,1031.5 507.5,1016.9 507.7,1009.8 507.9,985.7 508.1,970.2 508.2,949.2 508.4,931.2 508.6,907.6 508.8,888.1 509,859.3 509.2,842.2 509.3,827.4 509.5,799.3 509.7,784.2 509.9,778.7 510.1,764.8 510.3,761.4 510.4,753.3 510.6,758.3 510.8,759.3 511,769.5 511.2,790.8 511.4,810.7 511.5,819.4 511.7,841.6 511.9,865.2 512.1,888.8 512.3,906.4 512.5,940 512.6,954.5 512.8,970.5 513,987.7 513.2,1012.5 513.4,1026.5 513.6,1031.4 513.7,1045 513.9,1057.1 514.1,1058.9 514.3,1067.6 514.5,1078.3 514.7,1078.1 514.8,1082.8 515,1084 515.2,1088 515.4,1093.5 515.6,1091.8 515.8,1092.2 515.9,1094.8 516.1,1101 516.3,1098.3 516.5,1097.3 516.7,1099.4 516.9,1100.5 517,1100.2 517.2,1096.4 517.4,1101.2 517.6,1100.4 517.8,1102.8 518,1098.4 518.1,1103.7 518.3,1100.6 518.5,1098.3 518.7,1104.8 518.9,1101.1 519.1,1103.1 519.2,1102.1 519.4,1104.8 519.6,1105 519.8,1105.1 520,1104.4 520.2,1099.7 520.3,1099.7 520.5,1103.6 520.7,1101.3 520.9,1104.3 521.1,1103.8 521.3,1100.6 521.4,1101.5 521.6,1101.3 521.8,1101.9 522,1103.3 522.2,1105.2 522.4,1106.6 522.5,1102 522.7,1102.8 522.9,1107.2 523.1,1105.9 523.3,1104.6 523.4,1099.4 523.6,1102.1 523.8,1104.5 524,1103 524.2,1108.3 524.4,1104.5 524.5,1104.9 524.7,1102.1 524.9,1102.3 525.1,1103.1 525.3,1103.2 525.5,1104 525.6,1105.2 525.8,1105 526,1106.5 526.2,1101.8 526.4,1105 526.6,1105 526.7,1107.7 526.9,1104.2 527.1,1105.3 527.3,1103 527.5,1105.5 527.7,1105.4 527.8,1103.4 528,1103.8 528.2,1104.6 528.4,1105.8 528.6,1102.4 528.8,1106.4 528.9,1104 529.1,1108.5 529.3,1107.6 529.5,1103.9 529.7,1103.5 529.9,1109.6 530,1106 530.2,1105.8 530.4,1103.9 530.6,1104.5 530.8,1106.3 531,1105.9 531.1,1103.1 531.3,1107.2 531.5,1105.3 531.7,1102.8 531.9,1106.7 532.1,1104.4 532.2,1106.3 532.4,1103.6 532.6,1105.4 532.8,1101.4 533,1105.4 533.2,1101.6 533.3,1104.9 533.5,1099.5 533.7,1104.4 533.9,1106 534.1,1105.5 534.3,1106.9 534.4,1102.3 534.6,1107.6 534.8,1107.6 535,1102 535.2,1102.8 535.4,1103.2 535.5,1104.3 535.7,1104.7 535.9,1099.4 536.1,1105.4 536.3,1103.7 536.5,1102.2 536.6,1106.1 536.8,1103.5 537,1106.4 537.2,1105.2 537.4,1103.4 537.6,1106.4 537.7,1105.6 537.9,1103 538.1,1100.7 538.3,1102.8 538.5,1105.1 538.7,1103.4 538.8,1107.3 539,1104.3 539.2,1104.1 539.4,1104.5 539.6,1101.9 539.8,1103.4 539.9,1102.3 540.1,1098.9 540.3,1100 540.5,1105 540.7,1102.6 540.9,1103.2 541,1100.4 541.2,1102.2 541.4,1104.9 541.6,1103.4 541.8,1102.2 542,1106.2 542.1,1103 542.3,1102.4 542.5,1105.3 542.7,1099.5 542.9,1104 543.1,1100.6 543.2,1101.2 543.4,1101.4 543.6,1103 543.8,1102.9 544,1103.2 544.2,1102.9 544.3,1105.3 544.5,1105.8 544.7,1103.8 544.9,1103.8 545.1,1101.4 545.3,1099.9 545.4,1103.3 545.6,1102.1 545.8,1103.7 546,1098.1 546.2,1107.2 546.4,1099.1 546.5,1101.7 546.7,1103.5 546.9,1098.6 547.1,1100.2 547.3,1097.1 547.5,1098.2 547.6,1097 547.8,1101.1 548,1101.4 548.2,1100 548.4,1103.2 548.6,1103.3 548.7,1100.2 548.9,1099.6 549.1,1099.4 549.3,1098.8 549.5,1102.3 549.7,1099.9 549.8,1098.5 550,1098.4 550.2,1099.8 550.4,1097.5 550.6,1098.7 550.7,1097.6 550.9,1100.2 551.1,1099.4 551.3,1093.3 551.5,1095.5 551.7,1096.8 551.8,1093.6 552,1095.7 552.2,1093.8 552.4,1093.5 552.6,1091 552.8,1090.8 552.9,1090.1 553.1,1084.2 553.3,1084.1 553.5,1082.3 553.7,1087.1 553.9,1082.1 554,1080.5 554.2,1078.1 554.4,1074.4 554.6,1071.8 554.8,1073.7 555,1068.5 555.1,1071.3 555.3,1065.6 555.5,1063.2 555.7,1060.3 555.9,1058.7 556.1,1057.1 556.2,1059.3 556.4,1060 556.6,1049.3 556.8,1051.9 557,1052.3 557.2,1047.3 557.3,1047.6 557.5,1047.8 557.7,1042.5 557.9,1050.8 558.1,1049 558.3,1048.9 558.4,1049.3 558.6,1049.4 558.8,1054.3 559,1047.2 559.2,1046.9 559.4,1040.3 559.5,1038.6 559.7,1031.2 559.9,1024.4 560.1,1013 560.3,1001.7 560.5,991.3 560.6,975.1 560.8,953.9 561,926.1 561.2,901.9 561.4,860.1 561.6,837.8 561.7,795.3 561.9,754.4 562.1,713.2 562.3,659.3 562.5,616.8 562.7,561.3 562.8,517.5 563,466.5 563.2,426.8 563.4,394.3 563.6,351.6 563.8,327.2 563.9,312.9 564.1,309.8 564.3,286.5 564.5,321.9 564.7,336.6 564.9,373.9 565,406.2 565.2,453.4 565.4,502.2 565.6,546.1 565.8,596.9 566,641.3 566.1,698.6 566.3,741.2 566.5,792.3 566.7,832.7 566.9,862.8 567.1,898.3 567.2,929.7 567.4,958.2 567.6,973.3 567.8,997.9 568,1020.1 568.2,1028.3 568.3,1040.7 568.5,1049.6 568.7,1054.3 568.9,1066.2 569.1,1069.5 569.3,1073.4 569.4,1078.1 569.6,1081 569.8,1076.8 570,1084.2 570.2,1083.2 570.4,1086.2 570.5,1085.3 570.7,1085.9 570.9,1090.8 571.1,1089.3 571.3,1089.4 571.5,1089.9 571.6,1091.3 571.8,1091.6 572,1086.8 572.2,1090.5 572.4,1092.3 572.6,1094.8 572.7,1096.5 572.9,1091.8 573.1,1098.4 573.3,1094.7 573.5,1095.8 573.7,1093.8 573.8,1093.9 574,1098.5 574.2,1095.2 574.4,1095.6 574.6,1098.5 574.8,1099.9 574.9,1093.2 575.1,1096.1 575.3,1096.7 575.5,1100.6 575.7,1102.1 575.9,1097 576,1098 576.2,1099.2 576.4,1099.9 576.6,1096.9 576.8,1099.5 576.9,1096.3 577.1,1092.3 577.3,1095.1 577.5,1098.5 577.7,1099.7 577.9,1093.5 578,1094.6 578.2,1098.3 578.4,1091.5 578.6,1099.6 578.8,1100.6 579,1092.5 579.1,1100.2 579.3,1098.3 579.5,1101.6 579.7,1099.4 579.9,1098.3 580.1,1099.1 580.2,1100.8 580.4,1099.3 580.6,1099.1 580.8,1096.1 581,1100 581.2,1099.1 581.3,1102.8 581.5,1099.1 581.7,1099 581.9,1097.9 582.1,1100.7 582.3,1098.8 582.4,1097.8 582.6,1102.5 582.8,1102.9 583,1098.4 583.2,1097.3 583.4,1101.6 583.5,1097.7 583.7,1105 583.9,1099.1 584.1,1101.3 584.3,1096.8 584.5,1099.3 584.6,1101.6 584.8,1100.3 585,1098.3 585.2,1104.3 585.4,1100.9 585.6,1098.9 585.7,1098.2 585.9,1098.8 586.1,1102.1 586.3,1097.8 586.5,1099.4 586.7,1097.7 586.8,1101.9 587,1099 587.2,1101.1 587.4,1100.5 587.6,1098.2 587.8,1100.7 587.9,1101.2 588.1,1097 588.3,1100.7 588.5,1106.4 588.7,1098.8 588.9,1100.6 589,1096.7 589.2,1100.3 589.4,1098.2 589.6,1101 589.8,1099.3 590,1097.1 590.1,1101.6 590.3,1099 590.5,1097.4 590.7,1099.6 590.9,1097.5 591.1,1100.3 591.2,1099.4 591.4,1098.7 591.6,1100.8 591.8,1096.9 592,1101.4 592.2,1095.5 592.3,1102.7 592.5,1099.8 592.7,1098.9 592.9,1098 593.1,1100.6 593.3,1099.1 593.4,1099.1 593.6,1101.5 593.8,1098.5 594,1098.9 594.2,1100.3 594.4,1101.5 594.5,1099.1 594.7,1099.7 594.9,1099.4 595.1,1100.8 595.3,1102.3 595.5,1097.4 595.6,1099 595.8,1099.1 596,1100.4 596.2,1102.2 596.4,1099.1 596.6,1099.5 596.7,1101.3 596.9,1096.4 597.1,1097.4 597.3,1098 597.5,1098.8 597.7,1099.2 597.8,1097.7 598,1102.3 598.2,1097.1 598.4,1098.1 598.6,1100.7 598.8,1100 598.9,1098.3 599.1,1099 599.3,1099.8 599.5,1098 599.7,1099.2 599.9,1095.9 600,1097.8 600.2,1094.1 600.4,1095.5 600.6,1094.9 600.8,1099.7 601,1096 601.1,1097.4 601.3,1094.6 601.5,1095.9 601.7,1095.5 601.9,1094.1 602.1,1097.5 602.2,1091.8 602.4,1096.4 602.6,1100.4 602.8,1092.5 603,1093.9 603.2,1089.9 603.3,1092.6 603.5,1088 603.7,1092.4 603.9,1088.8 604.1,1084.4 604.2,1084 604.4,1081.4 604.6,1082.1 604.8,1081.9 605,1075.5 605.2,1069.3 605.3,1065.2 605.5,1061.7 605.7,1047.8 605.9,1047.8 606.1,1037.8 606.3,1018.6 606.4,1016.9 606.6,994.4 606.8,983.2 607,970.7 607.2,942.9 607.4,922.3 607.5,904 607.7,882.7 607.9,864.6 608.1,841.7 608.3,821.3 608.5,802.2 608.6,786 608.8,768.1 609,760.4 609.2,749.1 609.4,737.6 609.6,745.1 609.7,724 609.9,739 610.1,735.7 610.3,746.2 610.5,755.2 610.7,767.6 610.8,783.6 611,790.4 611.2,823.3 611.4,833.4 611.6,849.7 611.8,869.3 611.9,904.3 612.1,922.8 612.3,937.3 612.5,959.1 612.7,978.7 612.9,991.2 613,1004.5 613.2,1019 613.4,1033.3 613.6,1041.3 613.8,1046.9 614,1059.9 614.1,1060 614.3,1068.1 614.5,1077.8 614.7,1079.1 614.9,1082.3 615.1,1084.7 615.2,1089 615.4,1088.3 615.6,1085.5 615.8,1091.7 616,1085.3 616.2,1088.5 616.3,1097.2 616.5,1096.6 616.7,1093.8 616.9,1095.1 617.1,1095.9 617.3,1098.2 617.4,1094.7 617.6,1094.8 617.8,1095.6 618,1097.5 618.2,1098 618.4,1096.8 618.5,1099.5 618.7,1095.9 618.9,1098.1 619.1,1097 619.3,1096.5 619.5,1101.3 619.6,1098.2 619.8,1096.9 620,1099.3 620.2,1097.2 620.4,1100.7 620.6,1101.3 620.7,1101.8 620.9,1097.6 621.1,1099.6 621.3,1103.7 621.5,1099.6 621.7,1102.7 621.8,1103.3 622,1097.5 622.2,1102.8 622.4,1102 622.6,1102.3 622.8,1104 622.9,1101.6 623.1,1100.9 623.3,1102 623.5,1100.1 623.7,1101.9 623.9,1096.9 624,1104.5 624.2,1100 624.4,1102.2 624.6,1101.8 624.8,1101.4 625,1101.4 625.1,1101.4 625.3,1098 625.5,1100.2 625.7,1103.8 625.9,1099.4 626.1,1099.3 626.2,1105.7 626.4,1103.9 626.6,1104.7 626.8,1101.5 627,1102.1 627.2,1103.1 627.3,1102.7 627.5,1101.5 627.7,1098.7 627.9,1100.2 628.1,1098.7 628.3,1104.9 628.4,1100.9 628.6,1101.4 628.8,1102.3 629,1101.8 629.2,1102.9 629.4,1100.6 629.5,1098.8 629.7,1105.3 629.9,1100.4 630.1,1100.9 630.3,1100.3 630.5,1100.8 630.6,1101.9 630.8,1103.4 631,1099.8 631.2,1102.5 631.4,1100.5 631.5,1104.3 631.7,1099.4 631.9,1102.1 632.1,1103.3 632.3,1099.1 632.5,1102 632.6,1102.1 632.8,1100.2 633,1101.3 633.2,1103.7 633.4,1102.2 633.6,1100.9 633.7,1101.2 633.9,1102.5 634.1,1104.1 634.3,1103.1 634.5,1103 634.7,1104.6 634.8,1098.3 635,1098.4 635.2,1096.7 635.4,1102.9 635.6,1096.5 635.8,1100.9 635.9,1102.5 636.1,1098 636.3,1099.4 636.5,1100.1 636.7,1101.9 636.9,1097.2 637,1100.8 637.2,1101.4 637.4,1100 637.6,1099.8 637.8,1101.7 638,1099.2 638.1,1098.2 638.3,1097 638.5,1098.4 638.7,1095.6 638.9,1096.6 639.1,1094.2 639.2,1095.1 639.4,1089.1 639.6,1088.9 639.8,1087.1 640,1084.3 640.2,1082.6 640.3,1076.8 640.5,1073.5 640.7,1070.8 640.9,1062 641.1,1050.3 641.3,1041.7 641.4,1039 641.6,1027 641.8,1019.2 642,1007.4 642.2,1000.9 642.4,989.3 642.5,970.5 642.7,963.2 642.9,949.8 643.1,935.2 643.3,931.1 643.5,918.7 643.6,912.1 643.8,911.9 644,902.4 644.2,897.8 644.4,890.7 644.6,888.3 644.7,899.1 644.9,897.9 645.1,905.1 645.3,911.2 645.5,921.8 645.7,939.5 645.8,941.2 646,952.7 646.2,965.9 646.4,977.9 646.6,984.9 646.8,994.6 646.9,1009.1 647.1,1020.5 647.3,1028.6 647.5,1037 647.7,1045.4 647.9,1054.3 648,1061.7 648.2,1063.9 648.4,1071.8 648.6,1078.5 648.8,1081.3 649,1081.8 649.1,1087 649.3,1090.2 649.5,1094 649.7,1090.5 649.9,1096.9 650.1,1095.7 650.2,1098.1 650.4,1099.9 650.6,1097.3 650.8,1098.1 651,1100 651.2,1102.1 651.3,1099.9 651.5,1098.4 651.7,1100.1 651.9,1102.5 652.1,1104.3 652.3,1101.1 652.4,1101.7 652.6,1102.1 652.8,1102.4 653,1100.9 653.2,1102 653.4,1103.4 653.5,1103.3 653.7,1103.3 653.9,1101.4 654.1,1102.4 654.3,1102.1 654.5,1105.7 654.6,1106.5 654.8,1104.4 655,1106.9 655.2,1103.4 655.4,1103.5 655.6,1101.6 655.7,1104.6 655.9,1103.3 656.1,1104.4 656.3,1105.3 656.5,1103.9 656.7,1102.3 656.8,1104.4 657,1104.4 657.2,1104.6 657.4,1105.9 657.6,1104.3 657.7,1104.2 657.9,1108.1 658.1,1106.8 658.3,1104.7 658.5,1103.1 658.7,1104.1 658.8,1105.7 659,1106.6 659.2,1109.6 659.4,1104.6 659.6,1105.4 659.8,1104.4 659.9,1105.3 660.1,1104.4 660.3,1103.1 660.5,1107.1 660.7,1105.4 660.9,1107.6 661,1104.2 661.2,1105.7 661.4,1106.4 661.6,1101.7 661.8,1102.7 662,1106.6 662.1,1105.4 662.3,1101.7 662.5,1103.8 662.7,1103.2 662.9,1104.3 663.1,1108.1 663.2,1104.1 663.4,1109 663.6,1104.6 663.8,1103.7 664,1108 664.2,1106.9 664.3,1107.6 664.5,1108.7 664.7,1107 664.9,1107.2 665.1,1101.6 665.3,1103.3 665.4,1105.6 665.6,1105.1 665.8,1106 666,1103.6 666.2,1106.6 666.4,1108.2 666.5,1105.3 666.7,1105.7 666.9,1104.9 667.1,1105.5 667.3,1103.9 667.5,1102.2 667.6,1103.3 667.8,1102.8 668,1099.1 668.2,1102.2 668.4,1101.3 668.6,1101.1 668.7,1098.9 668.9,1100.3 669.1,1099.8 669.3,1096.1 669.5,1097.3 669.7,1097.3 669.8,1096.1 670,1091.3 670.2,1089.7 670.4,1090.6 670.6,1086.7 670.8,1093.1 670.9,1084 671.1,1082.4 671.3,1084 671.5,1079.7 671.7,1073.6 671.9,1077 672,1073.4 672.2,1072.9 672.4,1068.8 672.6,1069.2 672.8,1069.9 673,1069.1 673.1,1065.9 673.3,1066.4 673.5,1065.8 673.7,1068.3 673.9,1067.9 674.1,1065.8 674.2,1071.2 674.4,1069 674.6,1072.8 674.8,1071 675,1075.3 675.2,1075.9 675.3,1077.9 675.5,1080.5 675.7,1082 675.9,1082.9 676.1,1084.5 676.3,1082.8 676.4,1086.9 676.6,1083.6 676.8,1084.8 677,1090.2 677.2,1091.5 677.4,1096.1 677.5,1095.2 677.7,1096.8 677.9,1094.4 678.1,1096.4 678.3,1098.3 678.5,1097.1 678.6,1096.7 678.8,1096 679,1093.4 679.2,1092.9 679.4,1090.9 679.6,1093.7 679.7,1090.9 679.9,1088.3 680.1,1088.5 680.3,1084.1 680.5,1084.9 680.7,1083.8 680.8,1076.7 681,1069.9 681.2,1063.3 681.4,1066.9 681.6,1057.4 681.8,1047.2 681.9,1046.6 682.1,1032.5 682.3,1028.5 682.5,1021.6 682.7,1013.6 682.9,1003.7 683,1006.3 683.2,990.5 683.4,985.6 683.6,977.8 683.8,966.6 684,964.3 684.1,962 684.3,960.7 684.5,954.3 684.7,955.3 684.9,953 685,957.2 685.2,950 685.4,963.2 685.6,964 685.8,969.6 686,968.9 686.1,981.1 686.3,993.4 686.5,1005.8 686.7,1004.6 686.9,1012.5 687.1,1023.3 687.2,1030.1 687.4,1034.8 687.6,1042.7 687.8,1048.5 688,1057 688.2,1062.8 688.3,1070.1 688.5,1072.4 688.7,1075.6 688.9,1077.8 689.1,1082.4 689.3,1080.3 689.4,1089.4 689.6,1086.5 689.8,1089.9 690,1085.4 690.2,1089.5 690.4,1087.6 690.5,1085.4 690.7,1082.9 690.9,1080.5 691.1,1084.4 691.3,1080.2 691.5,1074.3 691.6,1070.6 691.8,1064 692,1056.3 692.2,1050.9 692.4,1048.1 692.6,1043 692.7,1033.6 692.9,1032 693.1,1024.1 693.3,1015.7 693.5,1002.8 693.7,999.9 693.8,993.2 694,982.6 694.2,973.4 694.4,980.1 694.6,971.1 694.8,963.8 694.9,966.9 695.1,963.3 695.3,960.4 695.5,960.1 695.7,963.4 695.9,968.3 696,967.8 696.2,971.6 696.4,979.7 696.6,975.6 696.8,991.2 697,997 697.1,1005.6 697.3,1012.6 697.5,1021.7 697.7,1028.5 697.9,1035.6 698.1,1042.1 698.2,1050.3 698.4,1054 698.6,1063.6 698.8,1062.4 699,1072 699.2,1077 699.3,1077 699.5,1082.6 699.7,1089.7 699.9,1089.3 700.1,1090.1 700.3,1087.7 700.4,1096.6 700.6,1097.7 700.8,1100 701,1104.1 701.2,1100.8 701.4,1101.9 701.5,1101 701.7,1102.8 701.9,1103.3 702.1,1105.3 702.3,1105.2 702.5,1102.9 702.6,1103.7 702.8,1107.5 703,1103.2 703.2,1106.7 703.4,1108.5 703.6,1106.7 703.7,1106.1 703.9,1108.3 704.1,1106.4 704.3,1105.8 704.5,1105.5 704.7,1108.1 704.8,1107.3 705,1108.9 705.2,1105.4 705.4,1105.4 705.6,1105.2 705.8,1106.5 705.9,1104.6 706.1,1107.7 706.3,1106.5 706.5,1103.9 706.7,1100 706.9,1102 707,1108.2 707.2,1105.1 707.4,1105.3 707.6,1104 707.8,1105.3 708,1100.5 708.1,1100.1 708.3,1100.4 708.5,1103.4 708.7,1104.3 708.9,1103.4 709.1,1101.8 709.2,1099 709.4,1102.7 709.6,1099.9 709.8,1099.9 710,1099.2 710.2,1097.8 710.3,1096.7 710.5,1096.3 710.7,1094.2 710.9,1096.9 711.1,1095.4 711.3,1097.3 711.4,1090.7 711.6,1096.6 711.8,1093.4 712,1092.8 712.2,1091 712.3,1090.7 712.5,1089 712.7,1094 712.9,1091.5 713.1,1093.6 713.3,1093.9 713.4,1091.2 713.6,1092.1 713.8,1092.2 714,1095.6 714.2,1094.1 714.4,1094.7 714.5,1096.5 714.7,1095.4 714.9,1100.5 715.1,1094.9 715.3,1100.1 715.5,1101.1 715.6,1096.4 715.8,1101.2 716,1100.7 716.2,1102.5 716.4,1098.9 716.6,1102.4 716.7,1100.5 716.9,1102.4 717.1,1106.4 717.3,1103.8 717.5,1100.1 717.7,1102.2 717.8,1103.1 718,1107.6 718.2,1104.7 718.4,1103.4 718.6,1108.7 718.8,1107.3 718.9,1107.7 719.1,1105.8 719.3,1110.2 719.5,1107.5 719.7,1104.2 719.9,1105.9 720,1106.6 720.2,1107.9 720.4,1109.7 720.6,1107.1 720.8,1107.4 721,1112.6 721.1,1108.8 721.3,1107.8 721.5,1108.9 721.7,1106.6 721.9,1109.9 722.1,1110.7 722.2,1108 722.4,1110.9 722.6,1108.6 722.8,1109.6 723,1107.8 723.2,1107.8 723.3,1106.5 723.5,1109.6 723.7,1108.8 723.9,1108.9 724.1,1107.3 724.3,1107.3 724.4,1108.3 724.6,1110.2 724.8,1110 725,1108.2 725.2,1110 725.4,1112.6 725.5,1109.7 725.7,1113.1 725.9,1110.3 726.1,1111.9 726.3,1108.7 726.5,1111.7 726.6,1107.5 726.8,1110.1 727,1109.1 727.2,1106.1 727.4,1107.3 727.6,1111.7 727.7,1110.6 727.9,1112 728.1,1110.1 728.3,1104.6 728.5,1110.2 728.7,1108.8 728.8,1108.9 729,1109 729.2,1108.5 729.4,1108.2 729.6,1112.1 729.8,1110.7 729.9,1108.7 730.1,1109.1 730.3,1111.6 730.5,1110.6 730.7,1110.3 730.9,1107.8 731,1109.2 731.2,1107.9 731.4,1106.6 731.6,1111.5 731.8,1109.4 732,1109.2 732.1,1108.3 732.3,1111.3 732.5,1113.6 732.7,1111 732.9,1111.6 733.1,1107.8 733.2,1110.3 733.4,1110.4 733.6,1112.6 733.8,1110 734,1108.3 734.2,1109.9 734.3,1109.2 734.5,1112.5 734.7,1111.2 734.9,1110.6 735.1,1110.3 735.3,1111.5 735.4,1109.1 735.6,1108.4 735.8,1106.7 736,1112.1 736.2,1110.9 736.4,1111.1 736.5,1110.1 736.7,1112.9 736.9,1108.3 737.1,1112.1 737.3,1108.5 737.5,1109.2 737.6,1107.8 737.8,1110.1 738,1109.5 738.2,1110.7 738.4,1108.9 738.5,1107.5 738.7,1111 738.9,1112.2 739.1,1111.2 739.3,1109.8 739.5,1110.6 739.6,1106.9 739.8,1109.3 740,1111.9 740.2,1110.7 740.4,1108.4 740.6,1111.4 740.7,1109.6 740.9,1111.1 741.1,1107.3 741.3,1108.9 741.5,1110.4 741.7,1110.3 741.8,1110.7 742,1109.7 742.2,1109.3 742.4,1110.5 742.6,1111.2 742.8,1106.9 742.9,1109 743.1,1109.2 743.3,1109.8 743.5,1111.2 743.7,1107 743.9,1110.3 744,1106.1 744.2,1107.8 744.4,1108.1 744.6,1108.5 744.8,1107.8 745,1107.8 745.1,1108 745.3,1107.9 745.5,1104.9 745.7,1105.5 745.9,1107 746.1,1108.6 746.2,1109.2 746.4,1112.3 746.6,1106.9 746.8,1104.8 747,1106.2 747.2,1106.8 747.3,1105.3 747.5,1102.4 747.7,1103.7 747.9,1103.3 748.1,1099.9 748.3,1099.7 748.4,1103.7 748.6,1096.1 748.8,1100.2 749,1098.5 749.2,1101.1 749.4,1098.6 749.5,1094.7 749.7,1098.3 749.9,1093.6 750.1,1098.1 750.3,1096.6 750.5,1092.1 750.6,1093.2 750.8,1091.2 751,1088.2 751.2,1091.8 751.4,1089.9 751.6,1090.4 751.7,1090.6 751.9,1091.2 752.1,1090.2 752.3,1087.8 752.5,1088.3 752.7,1089.3 752.8,1088.5 753,1088.7 753.2,1093.8 753.4,1091.4 753.6,1095.1 753.8,1090.2 753.9,1092.5 754.1,1092.5 754.3,1093.4 754.5,1094.5 754.7,1095.7 754.9,1095.8 755,1101.3 755.2,1099.8 755.4,1097.7 755.6,1098.8 755.8,1102.1 756,1102.4 756.1,1100.8 756.3,1104.4 756.5,1100.3 756.7,1102.7 756.9,1107.4 757.1,1099.6 757.2,1104.5 757.4,1107.2 757.6,1105.3 757.8,1104.4 758,1104.4 758.2,1102.3 758.3,1103.9 758.5,1106.5 758.7,1105.4 758.9,1106.4 759.1,1106.1 759.3,1106.9 759.4,1103.1 759.6,1105.4 759.8,1105.2 760,1104.9 760.2,1103.5 760.4,1100.7 760.5,1105.6 760.7,1105.5 760.9,1108 761.1,1104.2 761.3,1105.4 761.5,1102.6 761.6,1100 761.8,1100.9 762,1096.7 762.2,1098.6 762.4,1096.9 762.6,1093.9 762.7,1097.6 762.9,1096.3 763.1,1093.8 763.3,1093.4 763.5,1094 763.7,1089.1 763.8,1085.2 764,1085 764.2,1087.5 764.4,1085.4 764.6,1080.6 764.8,1085.9 764.9,1082.6 765.1,1085.1 765.3,1083.4 765.5,1079.5 765.7,1080.4 765.8,1078.4 766,1078.1 766.2,1079.6 766.4,1081.7 766.6,1084.2 766.8,1079.7 766.9,1084 767.1,1083.4 767.3,1083.8 767.5,1087.8 767.7,1085.6 767.9,1090.6 768,1088 768.2,1088 768.4,1092.8 768.6,1089.2 768.8,1091 769,1094.3 769.1,1095.8 769.3,1096.3 769.5,1093.9 769.7,1096.3 769.9,1100.9 770.1,1101.9 770.2,1099.7 770.4,1103 770.6,1103.6 770.8,1105.9 771,1103.2 771.2,1107.9 771.3,1105.1 771.5,1108.9 771.7,1108.4 771.9,1105.2 772.1,1106.9 772.3,1108.3 772.4,1109.9 772.6,1105.8 772.8,1107.7 773,1109.9 773.2,1109.9 773.4,1107.3 773.5,1107.7 773.7,1110.2 773.9,1107.8 774.1,1110.1 774.3,1111.4 774.5,1109.9 774.6,1105.3 774.8,1112.1 775,1112.1 775.2,1112.7 775.4,1111.7 775.6,1107.4 775.7,1112.8 775.9,1111 776.1,1112.1 776.3,1110.2 776.5,1110.1 776.7,1110.1 776.8,1113.3 777,1111.1 777.2,1110.3 777.4,1108.5 777.6,1111.5 777.8,1110.7 777.9,1111 778.1,1112.5 778.3,1112 778.5,1110.8 778.7,1111.2 778.9,1111 779,1112.1 779.2,1112.1 779.4,1111.2 779.6,1109.5 779.8,1112.4 780,1112.5 780.1,1109.1 780.3,1111.7 780.5,1110.3 780.7,1107.3 780.9,1110.9 781.1,1112.7 781.2,1109.8 781.4,1109.8 781.6,1112.8 781.8,1109.2 782,1109.5 782.2,1110.5 782.3,1112.1 782.5,1112.1 782.7,1110.2 782.9,1110.6 783.1,1111.2 783.3,1110.4 783.4,1109.6 783.6,1109.2 783.8,1112.3 784,1110.7 784.2,1116 784.4,1112.2 784.5,1109.8 784.7,1111.1 784.9,1111.7 785.1,1111.8 785.3,1111.9 785.5,1111.9 785.6,1110.9 785.8,1112.2 786,1114.8 786.2,1110.4 786.4,1110.5 786.6,1112.3 786.7,1113.2 786.9,1112.5 787.1,1113.2 787.3,1111 787.5,1110.7 787.7,1112.2 787.8,1112.3 788,1113.9 788.2,1113.8 788.4,1108 788.6,1112.4 788.8,1110 788.9,1107.5 789.1,1111.7 789.3,1110.8 789.5,1110.5 789.7,1108.9 789.9,1109.3 790,1110.7 790.2,1108.5 790.4,1110.8 790.6,1111.2 790.8,1110.7 791,1111.5 791.1,1110.9 791.3,1109 791.5,1109.2 791.7,1111.2 791.9,1112.6 792.1,1111.2 792.2,1110 792.4,1111.2 792.6,1107.8 792.8,1109.2 793,1110.2 793.1,1110.7 793.3,1110.3 793.5,1110.3 793.7,1108.7 793.9,1109.8 794.1,1111.2 794.2,1107.6 794.4,1108.6 794.6,1110.1 794.8,1113.2 795,1111.8 795.2,1113.3 795.3,1112.9 795.5,1109.8 795.7,1110.4 795.9,1108.5 796.1,1112.5 796.3,1111.7 796.4,1111.4 796.6,1111.5 796.8,1111.1 797,1110.6 797.2,1110.7 797.4,1112.3 797.5,1108.8 797.7,1108.3 797.9,1110.1 798.1,1112 798.3,1110.4 798.5,1109.5 798.6,1111.3 798.8,1110 799,1106.4 799.2,1107.9 799.4,1105.9 799.6,1109.1 799.7,1108.6 799.9,1110 800.1,1112.9 800.3,1108 800.5,1108.9 800.7,1108 800.8,1103.5 801,1107 801.2,1106.8 801.4,1108.4 801.6,1106.1 801.8,1105 801.9,1108.1 802.1,1106.5 802.3,1104.5 802.5,1104.3 802.7,1104.6 802.9,1106.1 803,1106.6 803.2,1100.6 803.4,1104.5 803.6,1101.4 803.8,1101 804,1101 804.1,1095.9 804.3,1098.1 804.5,1092.2 804.7,1092.2 804.9,1089.6 805.1,1093 805.2,1090.9 805.4,1086.9 805.6,1084 805.8,1079.3 806,1081.8 806.2,1078.4 806.3,1074.6 806.5,1069.5 806.7,1066.1 806.9,1063.9 807.1,1064.5 807.3,1056.2 807.4,1056.1 807.6,1057.3 807.8,1053.1 808,1053.1 808.2,1047.8 808.4,1046.2 808.5,1047.3 808.7,1044.5 808.9,1043.1 809.1,1040.8 809.3,1038.5 809.5,1046.7 809.6,1042.9 809.8,1043.4 810,1049.2 810.2,1046.8 810.4,1047.8 810.6,1052.2 810.7,1056 810.9,1059.5 811.1,1062.8 811.3,1066.7 811.5,1066.9 811.7,1070.8 811.8,1072.5 812,1074 812.2,1078.9 812.4,1081.3 812.6,1087 812.8,1086.5 812.9,1085.9 813.1,1090.6 813.3,1090.7 813.5,1096.2 813.7,1091.1 813.9,1094.8 814,1096.1 814.2,1098.9 814.4,1099.5 814.6,1097.7 814.8,1098.1 815,1102.8 815.1,1106 815.3,1106.6 815.5,1103.7 815.7,1105.8 815.9,1103.8 816.1,1103.1 816.2,1108.3 816.4,1107.6 816.6,1106 816.8,1106.2 817,1108.7 817.2,1107.8 817.3,1106.8 817.5,1108 817.7,1107.6 817.9,1107 818.1,1106.5 818.3,1109.5 818.4,1107.1 818.6,1105.9 818.8,1111.2 819,1110.2 819.2,1109 819.3,1107.9 819.5,1108.4 819.7,1105.5 819.9,1107.9 820.1,1108.4 820.3,1107.5 820.4,1108.6 820.6,1106.4 820.8,1107.9 821,1104.7 821.2,1107.3 821.4,1106.1 821.5,1104.6 821.7,1106 821.9,1106.5 822.1,1105.1 822.3,1107.6 822.5,1104.3 822.6,1106.9 822.8,1106.1 823,1103.2 823.2,1106.4 823.4,1100.7 823.6,1103.7 823.7,1102.2 823.9,1102.8 824.1,1097.7 824.3,1097.7 824.5,1097.6 824.7,1098.4 824.8,1097.7 825,1096.7 825.2,1095.3 825.4,1093.6 825.6,1091.3 825.8,1092.3 825.9,1093.4 826.1,1093.6 826.3,1089.7 826.5,1092.2 826.7,1086.5 826.9,1090.3 827,1085.9 827.2,1088.2 827.4,1085.4 827.6,1085.1 827.8,1085.9 828,1090 828.1,1085.8 828.3,1088.7 828.5,1088.1 828.7,1088.9 828.9,1089.4 829.1,1090.7 829.2,1087.7 829.4,1091 829.6,1092.4 829.8,1091.3 830,1094.1 830.2,1092.2 830.3,1096.5 830.5,1094.6 830.7,1096.3 830.9,1099.2 831.1,1100.6 831.3,1098.2 831.4,1098.9 831.6,1102.7 831.8,1096.2 832,1104.6 832.2,1105.2 832.4,1101.4 832.5,1106.1 832.7,1105.1 832.9,1105.7 833.1,1101.2 833.3,1104.8 833.5,1105.7 833.6,1105.6 833.8,1106 834,1106.4 834.2,1102.2 834.4,1107 834.6,1106.3 834.7,1107.5 834.9,1107 835.1,1108 835.3,1108.6 835.5,1111.2 835.7,1106.9 835.8,1111.2 836,1108 836.2,1107 836.4,1106.1 836.6,1110 836.8,1106.1 836.9,1110.1 837.1,1109.2 837.3,1107.7 837.5,1107.6 837.7,1109.5 837.9,1109 838,1110 838.2,1108.7 838.4,1107.9 838.6,1109.6 838.8,1106.8 839,1110.2 839.1,1108.8 839.3,1106.9 839.5,1107.1 839.7,1108.2 839.9,1105.7 840.1,1111 840.2,1110.3 840.4,1107 840.6,1108.6 840.8,1111.6 841,1109.4 841.2,1107.1 841.3,1105.2 841.5,1106.1 841.7,1110.7 841.9,1109.3 842.1,1106.6 842.3,1109.9 842.4,1108.2 842.6,1107.6 842.8,1107.9 843,1108 843.2,1111.5 843.4,1107.1 843.5,1108 843.7,1110.9 843.9,1111.2 844.1,1107 844.3,1112.1 844.5,1110.4 844.6,1106.1 844.8,1111.6 845,1106.1 845.2,1109.6 845.4,1106.5 845.6,1105.4 845.7,1109.8 845.9,1109.1 846.1,1108.2 846.3,1108.6 846.5,1108.1 846.6,1107.7 846.8,1106.3 847,1109.1 847.2,1108 847.4,1107.5 847.6,1106.9 847.7,1107.3 847.9,1105.1 848.1,1107 848.3,1105.8 848.5,1109.5 848.7,1105.5 848.8,1106.2 849,1106.9 849.2,1108 849.4,1107.2 849.6,1106.2 849.8,1109.7 849.9,1105.5 850.1,1105.7 850.3,1109.7 850.5,1102.7 850.7,1105.5 850.9,1103.9 851,1100 851.2,1100.5 851.4,1102.4 851.6,1097.1 851.8,1098.5 852,1099.4 852.1,1095.9 852.3,1095.5 852.5,1092.1 852.7,1090.5 852.9,1088.7 853.1,1087.3 853.2,1087.3 853.4,1084 853.6,1085.8 853.8,1080.3 854,1077.2 854.2,1079 854.3,1071.1 854.5,1066.8 854.7,1066.3 854.9,1060.7 855.1,1061.7 855.3,1061.1 855.4,1056.8 855.6,1051.9 855.8,1050.3 856,1049.8 856.2,1049.7 856.4,1044.4 856.5,1043.2 856.7,1046.1 856.9,1043.6 857.1,1043.9 857.3,1044.6 857.5,1042.3 857.6,1045 857.8,1049.4 858,1048.2 858.2,1050.2 858.4,1053.6 858.6,1056.2 858.7,1063.9 858.9,1058.6 859.1,1063.6 859.3,1070.6 859.5,1068.8 859.7,1072.3 859.8,1070.8 860,1078.8 860.2,1081 860.4,1083.3 860.6,1083.5 860.8,1086.8 860.9,1087.9 861.1,1091.7 861.3,1091.7 861.5,1095 861.7,1092.3 861.9,1095.7 862,1092.1 862.2,1098.5 862.4,1101.2 862.6,1100.2 862.8,1105.9 863,1100.5 863.1,1102.4 863.3,1101.9 863.5,1103.2 863.7,1103.7 863.9,1102.3 864.1,1103.6 864.2,1109.2 864.4,1105.4 864.6,1107.7 864.8,1104.1 865,1106.3 865.2,1107.6 865.3,1106.5 865.5,1106 865.7,1106.7 865.9,1107.1 866.1,1108.6 866.3,1109.3 866.4,1104.9 866.6,1103.7 866.8,1106.9 867,1107.2 867.2,1108.5 867.4,1109.1 867.5,1106 867.7,1110.7 867.9,1107.5 868.1,1103.9 868.3,1108.5 868.5,1107.2 868.6,1107 868.8,1103.6 869,1105.6 869.2,1106.2 869.4,1105.4 869.6,1106.5 869.7,1107.2 869.9,1107.3 870.1,1106.4 870.3,1103.4 870.5,1106.2 870.7,1103 870.8,1103.4 871,1100.6 871.2,1097.6 871.4,1095.1 871.6,1098.8 871.8,1096.1 871.9,1096.3 872.1,1096.9 872.3,1090.9 872.5,1089.1 872.7,1091.8 872.9,1090.6 873,1087.8 873.2,1085.8 873.4,1082 873.6,1083.6 873.8,1080.6 873.9,1081.5 874.1,1081 874.3,1076.2 874.5,1076.9 874.7,1074.9 874.9,1074.7 875,1075.4 875.2,1072.4 875.4,1071.5 875.6,1071 875.8,1067.6 876,1068.2 876.1,1068.8 876.3,1070.8 876.5,1071.2 876.7,1073.8 876.9,1066.8 877.1,1069.9 877.2,1067 877.4,1070.7 877.6,1069.3 877.8,1076.7 878,1077 878.2,1074.2 878.3,1078.5 878.5,1080.5 878.7,1083.8 878.9,1082.9 879.1,1082.4 879.3,1082.8 879.4,1085.1 879.6,1085.1 879.8,1083.9 880,1082.7 880.2,1087.6 880.4,1083.9 880.5,1084.6 880.7,1086.4 880.9,1084 881.1,1085.6 881.3,1079.8 881.5,1082.6 881.6,1076.6 881.8,1074.6 882,1073.7 882.2,1074.2 882.4,1070.2 882.6,1066.3 882.7,1069.6 882.9,1062.1 883.1,1061.4 883.3,1059.5 883.5,1055.1 883.7,1054.3 883.8,1052.2 884,1047.9 884.2,1048.3 884.4,1042.1 884.6,1038.9 884.8,1040.3 884.9,1036 885.1,1038.3 885.3,1036.5 885.5,1035.3 885.7,1038.2 885.9,1038.7 886,1031 886.2,1039 886.4,1041.9 886.6,1044.8 886.8,1044.7 887,1045.8 887.1,1051.6 887.3,1055.8 887.5,1052.3 887.7,1056.7 887.9,1061.8 888.1,1060.3 888.2,1067.9 888.4,1073.9 888.6,1072.6 888.8,1078 889,1078.4 889.2,1083.7 889.3,1086.5 889.5,1090.1 889.7,1089.6 889.9,1093.5 890.1,1094 890.3,1093.9 890.4,1099.2 890.6,1096.6 890.8,1099.4 891,1104.8 891.2,1102.8 891.4,1100.6 891.5,1103.5 891.7,1102.7 891.9,1104.1 892.1,1102.3 892.3,1105.9 892.5,1103.2 892.6,1107 892.8,1107.4 893,1108.5 893.2,1111.2 893.4,1104.8 893.6,1105.8 893.7,1106.4 893.9,1107.3 894.1,1109.9 894.3,1108 894.5,1107.7 894.7,1107 894.8,1107.9 895,1108.3 895.2,1109 895.4,1106.9 895.6,1109.2 895.8,1110.4 895.9,1110.1 896.1,1107.5 896.3,1111 896.5,1111.1 896.7,1110.3 896.9,1107.8 897,1107.5 897.2,1110 897.4,1108.3 897.6,1107.9 897.8,1111.6 898,1111.7 898.1,1111.3 898.3,1112.4 898.5,1111.8 898.7,1108.5 898.9,1112.2 899.1,1110.6 899.2,1111.2 899.4,1113 899.6,1111.2 899.8,1113.1 900,1110.7 900.1,1110 900.3,1109.5 900.5,1110.4 900.7,1107.9 900.9,1110.6 901.1,1110.5 901.2,1109.8 901.4,1107.1 901.6,1107.3 901.8,1111.9 902,1109.2 902.2,1113 902.3,1109.6 902.5,1111.3 902.7,1108.4 902.9,1109.7 903.1,1110.4 903.3,1111.7 903.4,1113.5 903.6,1112.3 903.8,1108.4 904,1110.7 904.2,1110.4 904.4,1109.6 904.5,1111.6 904.7,1113.2 904.9,1109.8 905.1,1112.3 905.3,1112.7 905.5,1108.7 905.6,1113.2 905.8,1113 906,1110.6 906.2,1112.8 906.4,1110.3 906.6,1111.7 906.7,1110.7 906.9,1108 907.1,1109.7 907.3,1108.8 907.5,1108 907.7,1106.7 907.8,1107.1 908,1106 908.2,1109.8 908.4,1104.2 908.6,1107.4 908.8,1105.8 908.9,1104.4 909.1,1107.5 909.3,1104.5 909.5,1107.7 909.7,1104.8 909.9,1105.4 910,1104.2 910.2,1105.3 910.4,1105.4 910.6,1102.6 910.8,1103.1 911,1106.1 911.1,1101.6 911.3,1105.7 911.5,1101.5 911.7,1101.1 911.9,1098.9 912.1,1100.4 912.2,1098.8 912.4,1101 912.6,1103.5 912.8,1102.3 913,1101.5 913.2,1100.9 913.3,1101.8 913.5,1100.7 913.7,1101.4 913.9,1107.6 914.1,1104.8 914.3,1103.1 914.4,1106.3 914.6,1108.1 914.8,1104.7 915,1106 915.2,1104.4 915.4,1104.1 915.5,1109.6 915.7,1113.4 915.9,1106.6 916.1,1105.3 916.3,1110.8 916.5,1110.4 916.6,1109.7 916.8,1111.5 917,1108.7 917.2,1109.9 917.4,1110.9 917.6,1109.3 917.7,1110.7 917.9,1109.7 918.1,1110.9 918.3,1110.5 918.5,1107.1 918.7,1110.6 918.8,1108.2 919,1109.2 919.2,1107.9 919.4,1112 919.6,1110.2 919.8,1110.1 919.9,1112.8 920.1,1111.9 920.3,1110.4 920.5,1107.4 920.7,1111.8 920.9,1110.3 921,1110.2 921.2,1111.9 921.4,1109.7 921.6,1110.6 921.8,1112.1 922,1111.6 922.1,1109.7 922.3,1113 922.5,1112.5 922.7,1113.7 922.9,1110.5 923.1,1110.9 923.2,1112.2 923.4,1111.2 923.6,1110.7 923.8,1110.3 924,1109.9 924.2,1109.3 924.3,1109.3 924.5,1110.9 924.7,1109.7 924.9,1107.9 925.1,1110.2 925.3,1112.8 925.4,1112.2 925.6,1106.7 925.8,1108.5 926,1111.1 926.2,1109.9 926.4,1109.8 926.5,1109.3 926.7,1109.5 926.9,1107.6 927.1,1111.1 927.3,1107.3 927.4,1108.6 927.6,1111.2 927.8,1110.3 928,1108.2 928.2,1108 928.4,1106.7 928.5,1106.6 928.7,1106.7 928.9,1109 929.1,1105.5 929.3,1106.8 929.5,1106.1 929.6,1105.5 929.8,1103.7 930,1104.9 930.2,1103.2 930.4,1102.3 930.6,1100.5 930.7,1096.6 930.9,1101 931.1,1100.1 931.3,1096.8 931.5,1096.4 931.7,1096.2 931.8,1092.6 932,1094.8 932.2,1093.7 932.4,1092.8 932.6,1091.8 932.8,1084.9 932.9,1088.7 933.1,1085.6 933.3,1087.7 933.5,1086.6 933.7,1085.2 933.9,1082.5 934,1087.7 934.2,1081.1 934.4,1078.5 934.6,1082.4 934.8,1077.1 935,1084.1 935.1,1082.2 935.3,1083.1 935.5,1082.8 935.7,1081.9 935.9,1078.8 936.1,1080.9 936.2,1084 936.4,1083.2 936.6,1085.1 936.8,1083.7 937,1084.3 937.2,1087.2 937.3,1088.8 937.5,1088 937.7,1086.6 937.9,1085.8 938.1,1093.6 938.3,1087.6 938.4,1088.4 938.6,1088.8 938.8,1092 939,1088.6 939.2,1090.9 939.4,1090 939.5,1086.6 939.7,1088.5 939.9,1084.9 940.1,1086.1 940.3,1086.8 940.5,1083.6 940.6,1080.9 940.8,1080.5 941,1079.5 941.2,1079 941.4,1071.7 941.6,1070.9 941.7,1074.2 941.9,1071.2 942.1,1069.7 942.3,1068.5 942.5,1066.1 942.7,1063.9 942.8,1063.7 943,1063.7 943.2,1061.9 943.4,1060.3 943.6,1057.2 943.8,1059.7 943.9,1056.3 944.1,1057.5 944.3,1059.8 944.5,1060.3 944.7,1063.3 944.9,1063.9 945,1064.3 945.2,1063.9 945.4,1066.1 945.6,1067.3 945.8,1073.5 946,1072.5 946.1,1072 946.3,1073.6 946.5,1080 946.7,1077.4 946.9,1082 947.1,1083.4 947.2,1087.1 947.4,1084.9 947.6,1089.3 947.8,1090.4 948,1093.1 948.2,1095.7 948.3,1094.6 948.5,1095.3 948.7,1098.5 948.9,1095.4 949.1,1099.4 949.3,1098.2 949.4,1098.7 949.6,1098.8 949.8,1099.4 950,1104.5 950.2,1105.1 950.4,1104.3 950.5,1106.4 950.7,1105.1 950.9,1104.6 951.1,1103.9 951.3,1107.4 951.5,1107.7 951.6,1108.7 951.8,1105.5 952,1106.5 952.2,1104.9 952.4,1109.2 952.6,1108.6 952.7,1108.4 952.9,1107.6 953.1,1107.5 953.3,1107.3 953.5,1109.7 953.7,1107 953.8,1109.5 954,1108.6 954.2,1106.6 954.4,1105.9 954.6,1107 954.7,1108.3 954.9,1106.3 955.1,1109.4 955.3,1110.2 955.5,1109.3 955.7,1105.8 955.8,1104.8 956,1109.9 956.2,1110.9 956.4,1107.9 956.6,1109.4 956.8,1108.2 956.9,1107.6 957.1,1110.2 957.3,1107.8 957.5,1110 957.7,1111.4 957.9,1108.5 958,1111.7 958.2,1106.7 958.4,1110.2 958.6,1108.8 958.8,1112.8 959,1108.8 959.1,1107.5 959.3,1111.3 959.5,1106.4 959.7,1109.5 959.9,1107.6 960.1,1111 960.2,1108.6 960.4,1110.2 960.6,1108.8 960.8,1107.1 961,1105.5 961.2,1111.7 961.3,1109.3 961.5,1107.1 961.7,1108.4 961.9,1110.5 962.1,1106.6 962.3,1112.5 962.4,1108.6 962.6,1108.4 962.8,1111 963,1109.3 963.2,1107.4 963.4,1110.4 963.5,1109.7 963.7,1110.8 963.9,1107.6 964.1,1107.3 964.3,1110 964.5,1108.4 964.6,1105.6 964.8,1108.1 965,1110 965.2,1107.9 965.4,1111.1 965.6,1108.3 965.7,1108.9 965.9,1106.5 966.1,1107.8 966.3,1108.8 966.5,1110 966.7,1109.3 966.8,1110.7 967,1105.6 967.2,1109.1 967.4,1108.8 967.6,1107.4 967.8,1109 967.9,1107.9 968.1,1109.7 968.3,1108.5 968.5,1109.8 968.7,1107.6 968.9,1111 969,1109.6 969.2,1111.8 969.4,1108.8 969.6,1108.2 969.8,1109.2 970,1108.2 970.1,1107.3 970.3,1109 970.5,1108.8 970.7,1107.9 970.9,1108.3 971.1,1107.3 971.2,1109.1 971.4,1106.7 971.6,1111.5 971.8,1108.8 972,1110.3 972.2,1106.8 972.3,1109.2 972.5,1108.4 972.7,1110.2 972.9,1110 973.1,1105.9 973.3,1110.3 973.4,1106 973.6,1110.5 973.8,1108.2 974,1106.2 974.2,1109.2 974.4,1108 974.5,1106.2 974.7,1106.5 974.9,1108.4 975.1,1105.1 975.3,1105.8 975.5,1110.1 975.6,1105.5 975.8,1107.2 976,1107.1 976.2,1107.7 976.4,1107.2 976.6,1101 976.7,1104.2 976.9,1106.7 977.1,1102.8 977.3,1107 977.5,1103.7 977.7,1100.5 977.8,1103.2 978,1105.1 978.2,1099.7 978.4,1101.2 978.6,1097.9 978.8,1097.7 978.9,1098.2 979.1,1098.2 979.3,1097 979.5,1095.9 979.7,1099.3 979.9,1091.6 980,1089.2 980.2,1093 980.4,1091.4 980.6,1087.3 980.8,1092.7 980.9,1087 981.1,1084.7 981.3,1087.7 981.5,1087.4 981.7,1090.3 981.9,1081.6 982,1081.6 982.2,1083.2 982.4,1082.5 982.6,1083 982.8,1081.6 983,1079.7 983.1,1082.1 983.3,1084.7 983.5,1085.2 983.7,1082.5 983.9,1085.5 984.1,1085.8 984.2,1084.5 984.4,1085.5 984.6,1087.1 984.8,1093.5 985,1089 985.2,1087.7 985.3,1090.1 985.5,1090.2 985.7,1094.4 985.9,1088.8 986.1,1091.8 986.3,1096.5 986.4,1096.6 986.6,1096.7 986.8,1098.8 987,1095.7 987.2,1099.7 987.4,1097.6 987.5,1098.1 987.7,1102 987.9,1100.3 988.1,1101.7 988.3,1104 988.5,1101.6 988.6,1105 988.8,1108.4 989,1104.5 989.2,1106.9 989.4,1106.9 989.6,1103.7 989.7,1103.9 989.9,1106.5 990.1,1103.1 990.3,1107.1 990.5,1107.7 990.7,1108.2 990.8,1108.3 991,1110 991.2,1107.3 991.4,1110.3 991.6,1109 991.8,1109.1 991.9,1108.1 992.1,1110 992.3,1107.2 992.5,1109.7 992.7,1110.4 992.9,1107.5 993,1107.1 993.2,1107.5 993.4,1108.7 993.6,1109.4 993.8,1110.3 994,1112 994.1,1111.5 994.3,1109.3 994.5,1108.3 994.7,1107 994.9,1110.3 995.1,1109.8 995.2,1108.5 995.4,1108.7 995.6,1108.8 995.8,1104.7 996,1108.9 996.2,1109.5 996.3,1108.7 996.5,1107.2 996.7,1109 996.9,1109.7 997.1,1111.8 997.3,1110.6 997.4,1109.8 997.6,1108.7 997.8,1106.6 998,1107.9 998.2,1106.4 998.4,1108.4 998.5,1110.3 998.7,1110.2 998.9,1109.9 999.1,1108.3 999.3,1109.9 999.5,1107.6 999.6,1104.7 999.8,1108 1000,1107.7 1000.2,1104.5 1000.4,1106.4 1000.6,1102.9 1000.7,1106 1000.9,1108.7 1001.1,1105.2 1001.3,1108.3 1001.5,1106.1 1001.7,1104 1001.8,1101.8 1002,1105.8 1002.2,1105.2 1002.4,1100.9 1002.6,1102.3 1002.8,1104.5 1002.9,1100.5 1003.1,1102 1003.3,1097.1 1003.5,1098.3 1003.7,1100.7 1003.9,1096.4 1004,1095.2 1004.2,1094.5 1004.4,1095.7 1004.6,1092.6 1004.8,1094.6 1005,1095.2 1005.1,1096.3 1005.3,1091.8 1005.5,1095 1005.7,1092.2 1005.9,1090 1006.1,1090.8 1006.2,1092.3 1006.4,1091.7 1006.6,1089.7 1006.8,1087.6 1007,1089.2 1007.2,1087.7 1007.3,1087.4 1007.5,1087.6 1007.7,1090.8 1007.9,1084.7 1008.1,1087.3 1008.2,1085.5 1008.4,1089.9 1008.6,1090.8 1008.8,1091.8 1009,1088.9 1009.2,1090.4 1009.3,1092.5 1009.5,1092 1009.7,1093 1009.9,1093.5 1010.1,1094.4 1010.3,1094.4 1010.4,1096.3 1010.6,1093.3 1010.8,1096.1 1011,1095.1 1011.2,1098.2 1011.4,1097.7 1011.5,1100.7 1011.7,1102.7 1011.9,1098.7 1012.1,1100.1 1012.3,1102.7 1012.5,1105.3 1012.6,1104.5 1012.8,1104.4 1013,1103.9 1013.2,1103.6 1013.4,1105.4 1013.6,1105.9 1013.7,1105.6 1013.9,1104.5 1014.1,1102.9 1014.3,1104.4 1014.5,1105.4 1014.7,1104.2 1014.8,1106.8 1015,1103.9 1015.2,1105.8 1015.4,1106.9 1015.6,1107.7 1015.8,1106.6 1015.9,1108.2 1016.1,1104.9 1016.3,1104.4 1016.5,1107.5 1016.7,1103.8 1016.9,1104.8 1017,1101.7 1017.2,1106.4 1017.4,1105.3 1017.6,1102.2 1017.8,1100 1018,1103.1 1018.1,1102.6 1018.3,1103.7 1018.5,1104.3 1018.7,1100.7 1018.9,1099.2 1019.1,1098.4 1019.2,1097.6 1019.4,1094.8 1019.6,1094.9 1019.8,1095.6 1020,1091.8 1020.2,1091.6 1020.3,1095.7 1020.5,1091.1 1020.7,1093.2 1020.9,1093 1021.1,1090 1021.3,1090.9 1021.4,1088.2 1021.6,1086.1 1021.8,1087 1022,1086.8 1022.2,1086.4 1022.4,1085.9 1022.5,1084.6 1022.7,1087.4 1022.9,1084.7 1023.1,1084.2 1023.3,1087.1 1023.5,1083.2 1023.6,1085.6 1023.8,1089 1024,1086.5 1024.2,1089.9 1024.4,1087 1024.6,1087.2 1024.7,1088.6 1024.9,1088.6 1025.1,1089.8 1025.3,1090.4 1025.5,1093.8 1025.7,1093.8 1025.8,1093.5 1026,1093.3 1026.2,1101.8 1026.4,1096.1 1026.6,1100 1026.8,1095.9 1026.9,1097.5 1027.1,1102 1027.3,1098.4 1027.5,1099.1 1027.7,1101.7 1027.9,1101.1 1028,1102.5 1028.2,1103.9 1028.4,1105.7 1028.6,1105 1028.8,1105.7 1029,1107.9 1029.1,1108.5 1029.3,1105.8 1029.5,1103.6 1029.7,1105.3 1029.9,1109.2 1030.1,1106.8 1030.2,1106.7 1030.4,1107.4 1030.6,1111 1030.8,1108.6 1031,1108.1 1031.2,1107.7 1031.3,1107.2 1031.5,1113.8 1031.7,1109.2 1031.9,1109.6 1032.1,1108.9 1032.3,1111.3 1032.4,1108 1032.6,1106.6 1032.8,1108.8 1033,1110.3 1033.2,1113.5 1033.4,1109.8 1033.5,1108.6 1033.7,1109.6 1033.9,1108.8 1034.1,1108.8 1034.3,1110.3 1034.5,1110.6 1034.6,1109.1 1034.8,1112 1035,1110.1 1035.2,1110.4 1035.4,1109.4 1035.5,1110.9 1035.7,1110.9 1035.9,1111.3 1036.1,1109 1036.3,1111.3 1036.5,1109.4 1036.6,1110.5 1036.8,1111.5 1037,1112.7 1037.2,1109.6 1037.4,1108.6 1037.6,1110.5 1037.7,1112.3 1037.9,1109.8 1038.1,1114.2 1038.3,1107.3 1038.5,1112.7 1038.7,1112.2 1038.8,1112.1 1039,1109 1039.2,1112.4 1039.4,1112.1 1039.6,1112.3 1039.8,1109.9 1039.9,1109.9 1040.1,1112.3 1040.3,1110.8 1040.5,1109.6 1040.7,1108.8 1040.9,1110.6 1041,1107.9 1041.2,1111 1041.4,1110.3 1041.6,1107.5 1041.8,1110.7 1042,1111.8 1042.1,1110.2 1042.3,1107.6 1042.5,1108.7 1042.7,1111 1042.9,1107.4 1043.1,1108.8 1043.2,1111.2 1043.4,1108.8 1043.6,1108.2 1043.8,1110.3 1044,1111.5 1044.2,1109.4 1044.3,1106.4 1044.5,1105.7 1044.7,1107.8 1044.9,1105 1045.1,1107.7 1045.3,1109.1 1045.4,1102.9 1045.6,1106.9 1045.8,1107.5 1046,1105.7 1046.2,1107.1 1046.4,1107 1046.5,1107.7 1046.7,1110.3 1046.9,1105.9 1047.1,1103.4 1047.3,1102.9 1047.5,1102.2 1047.6,1105.4 1047.8,1104.5 1048,1104.5 1048.2,1103.7 1048.4,1106 1048.6,1104.9 1048.7,1104.5 1048.9,1101.3 1049.1,1101.8 1049.3,1099.9 1049.5,1101 1049.7,1102.3 1049.8,1099.9 1050,1100.9 1050.2,1105.8 1050.4,1101.9 1050.6,1099.6 1050.8,1100.2 1050.9,1102.5 1051.1,1104.3 1051.3,1102.8 1051.5,1104.8 1051.7,1104 1051.9,1101.7 1052,1105.8 1052.2,1103.4 1052.4,1107.9 1052.6,1103.8 1052.8,1104.8 1053,1104.4 1053.1,1105.2 1053.3,1106.7 1053.5,1105.8 1053.7,1108.4 1053.9,1107.4 1054.1,1109.6 1054.2,1107.2 1054.4,1109.5 1054.6,1109.5 1054.8,1107.5 1055,1112.1 1055.2,1110.6 1055.3,1109.1 1055.5,1108.1 1055.7,1108.4 1055.9,1108.4 1056.1,1109.2 1056.3,1107 1056.4,1109.1 1056.6,1108.1 1056.8,1111.8 1057,1110.5 1057.2,1112 1057.4,1113.2 1057.5,1110.2 1057.7,1112.7 1057.9,1110.1 1058.1,1110.6 1058.3,1108.1 1058.5,1109.8 1058.6,1111.9 1058.8,1110.5 1059,1109.1 1059.2,1109.7 1059.4,1108.6 1059.6,1108.7 1059.7,1107.5 1059.9,1111.5 1060.1,1111.5 1060.3,1109.6 1060.5,1107.7 1060.7,1109.4 1060.8,1112.9 1061,1107.7 1061.2,1109 1061.4,1109.1 1061.6,1111 1061.7,1107.8 1061.9,1110.2 1062.1,1108.5 1062.3,1109.2 1062.5,1107.9 1062.7,1110.6 1062.8,1109 1063,1108.9 1063.2,1111.5 1063.4,1110.3 1063.6,1113.5 1063.8,1110.4 1063.9,1109.9 1064.1,1110 1064.3,1114.1 1064.5,1111.7 1064.7,1109.3 1064.9,1110.3 1065,1108.9 1065.2,1110.8 1065.4,1109 1065.6,1108.9 1065.8,1110.4 1066,1111.8 1066.1,1111 1066.3,1110.9 1066.5,1109.8 1066.7,1105.9 1066.9,1109.4 1067.1,1109.3 1067.2,1110.5 1067.4,1112.4 1067.6,1110.8 1067.8,1106.9 1068,1109.7 1068.2,1109.3 1068.3,1110.7 1068.5,1109.5 1068.7,1106.6 1068.9,1108.2 1069.1,1109.1 1069.3,1106.4 1069.4,1109.4 1069.6,1109.1 1069.8,1111.2 1070,1109.3 1070.2,1108.6 1070.4,1109.4 1070.5,1109.7 1070.7,1111.2 1070.9,1108.3 1071.1,1106.3 1071.3,1114.2 1071.5,1111.1 1071.6,1110 1071.8,1113.8 1072,1108.2 1072.2,1108.8 1072.4,1109.4 1072.6,1110.9 1072.7,1109.5 1072.9,1111.5 1073.1,1109.8 1073.3,1112.4 1073.5,1111.1 1073.7,1107.8 1073.8,1110.4 1074,1108.7 1074.2,1110.4 1074.4,1110.6 1074.6,1114.2 1074.8,1110.3 1074.9,1108.2 1075.1,1111 1075.3,1109 1075.5,1113.8 1075.7,1112.1 1075.9,1113.5 1076,1110.4 1076.2,1109.4 1076.4,1111.6 1076.6,1109 1076.8,1109.7 1077,1110 1077.1,1111.1 1077.3,1108.9 1077.5,1108.1 1077.7,1113.7 1077.9,1110.6 1078.1,1111.2 1078.2,1112.5 1078.4,1112.3 1078.6,1110.6 1078.8,1111 1079,1114.3 1079.2,1113.8 1079.3,1113 1079.5,1114.5 1079.7,1108.9 1079.9,1112.2 1080.1,1111.5 1080.3,1109 1080.4,1112.6 1080.6,1113.1 1080.8,1112.6 1081,1109.3 1081.2,1111.9 1081.4,1112.6 1081.5,1111.9 1081.7,1112.8 1081.9,1113.2 1082.1,1114.7 1082.3,1112.9 1082.5,1116.8 1082.6,1112.9 1082.8,1113.1 1083,1113.9 1083.2,1112.6 1083.4,1112.2 1083.6,1114.7 1083.7,1109.3 1083.9,1110 1084.1,1116.2 1084.3,1114.1 1084.5,1113.8 1084.7,1113.5 1084.8,1113.5 1085,1111.5 1085.2,1112.6 1085.4,1111.4 1085.6,1115 1085.8,1114.2 1085.9,1113.6 1086.1,1113.8 1086.3,1113 1086.5,1111.4 1086.7,1116.1 1086.9,1114.4 1087,1113.1 1087.2,1114.3 1087.4,1115.5 1087.6,1115.4 1087.8,1114.5 1088,1114.8 1088.1,1113.1 1088.3,1115.7 1088.5,1115.1 1088.7,1115.1 1088.9,1111.4 1089,1114.6 1089.2,1114.7 1089.4,1114.9 1089.6,1109.3 1089.8,1110.5 1090,1114.1 1090.1,1112 1090.3,1114.2 1090.5,1113.4 1090.7,1115 1090.9,1112.6 1091.1,1111.8 1091.2,1114.4 1091.4,1113 1091.6,1111.5 1091.8,1110.1 1092,1118.7 1092.2,1112.8 1092.3,1112.9 1092.5,1109.9 1092.7,1111.4 1092.9,1112.8 1093.1,1113.6 1093.3,1114.3 1093.4,1111.5 1093.6,1113.5 1093.8,1114.5 1094,1111.5 1094.2,1112 1094.4,1108.8 1094.5,1110.2 1094.7,1108.9 1094.9,1112.3 1095.1,1110.4 1095.3,1113.1 1095.5,1110.1 1095.6,1110.7 1095.8,1109.6 1096,1108.3 1096.2,1105.2 1096.4,1109.6 1096.6,1105.4 1096.7,1101.1 1096.9,1102.6 1097.1,1100.5 1097.3,1103.8 1097.5,1102.3 1097.7,1102 1097.8,1102 1098,1094.7 1098.2,1090.6 1098.4,1090.9 1098.6,1092 1098.8,1083.5 1098.9,1086.1 1099.1,1087.3 1099.3,1081.6 1099.5,1081.2 1099.7,1077.3 1099.9,1081.2 1100,1079.5 1100.2,1070.5 1100.4,1068.8 1100.6,1068.9 1100.8,1068.2 1101,1065.6 1101.1,1064.2 1101.3,1063.2 1101.5,1062.1 1101.7,1062.2 1101.9,1056.6 1102.1,1053.8 1102.2,1053.8 1102.4,1058.8 1102.6,1054.8 1102.8,1054.2 1103,1055.8 1103.2,1055.7 1103.3,1059 1103.5,1051.8 1103.7,1055.2 1103.9,1057.7 1104.1,1059.2 1104.3,1057.7 1104.4,1056.4 1104.6,1061.5 1104.8,1062.3 1105,1065.7 1105.2,1070.6 1105.4,1071.7 1105.5,1069.5 1105.7,1072.5 1105.9,1076.8 1106.1,1081.1 1106.3,1080.4 1106.5,1083 1106.6,1081.2 1106.8,1085.4 1107,1086.5 1107.2,1090.5 1107.4,1091.1 1107.6,1091.5 1107.7,1092.6 1107.9,1096.7 1108.1,1096.3 1108.3,1101.2 1108.5,1100.4 1108.7,1100.7 1108.8,1104.1 1109,1100.9 1109.2,1105.9 1109.4,1103.6 1109.6,1107.1 1109.8,1105.1 1109.9,1105.2 1110.1,1104.1 1110.3,1108.2 1110.5,1109.4 1110.7,1106.4 1110.9,1112.6 1111,1109.6 1111.2,1107.9 1111.4,1113.8 1111.6,1109.8 1111.8,1113.3 1112,1105.9 1112.1,1114.9 1112.3,1111.6 1112.5,1111.4 1112.7,1112.1 1112.9,1109.6 1113.1,1113.3 1113.2,1112.5 1113.4,1112.4 1113.6,1110.9 1113.8,1109.9 1114,1112.6 1114.2,1113.5 1114.3,1112.3 1114.5,1111.8 1114.7,1111.3 1114.9,1113.4 1115.1,1114.7 1115.3,1112 1115.4,1110.8 1115.6,1116.5 1115.8,1109.6 1116,1112.7 1116.2,1112.1 1116.3,1114.5 1116.5,1112 1116.7,1109.4 1116.9,1110.3 1117.1,1112.5 1117.3,1112.2 1117.4,1111.1 1117.6,1111.3 1117.8,1109.5 1118,1109.7 1118.2,1111.1 1118.4,1111 1118.5,1111.9 1118.7,1110.1 1118.9,1114.8 1119.1,1109 1119.3,1113.5 1119.5,1113 1119.6,1114.7 1119.8,1114.3 1120,1109.6 1120.2,1112.5 1120.4,1113.1 1120.6,1113.4 1120.7,1112.6 1120.9,1110.7 1121.1,1113.9 1121.3,1111.4 1121.5,1110.7 1121.7,1111.8 1121.8,1110.6 1122,1110.2 1122.2,1111.5 1122.4,1115.8 1122.6,1111.7 1122.8,1111.2 1122.9,1110.2 1123.1,1111.5 1123.3,1108.7 1123.5,1111.5 1123.7,1111 1123.9,1110.6 1124,1111.1 1124.2,1109.8 1124.4,1111.1 1124.6,1110.7 1124.8,1110.6 1125,1109.4 1125.1,1110.7 1125.3,1108.6 1125.5,1111 1125.7,1108.2 1125.9,1110.4 1126.1,1108.2 1126.2,1107.3 1126.4,1105.1 1126.6,1107.6 1126.8,1106.6 1127,1105.5 1127.2,1105.5 1127.3,1104.3 1127.5,1101.6 1127.7,1100.3 1127.9,1102.9 1128.1,1101.1 1128.3,1102.7 1128.4,1102.6 1128.6,1099 1128.8,1097.4 1129,1095.8 1129.2,1093.4 1129.4,1090.2 1129.5,1084.3 1129.7,1089.6 1129.9,1087.3 1130.1,1084.1 1130.3,1082.2 1130.5,1081.8 1130.6,1079.3 1130.8,1075.2 1131,1071.7 1131.2,1071 1131.4,1068.8 1131.6,1069.3 1131.7,1059.1 1131.9,1059.6 1132.1,1053.3 1132.3,1051.4 1132.5,1055.5 1132.7,1045.7 1132.8,1043.6 1133,1039.6 1133.2,1040.6 1133.4,1034.8 1133.6,1029.1 1133.8,1031.5 1133.9,1031.3 1134.1,1027.2 1134.3,1026.1 1134.5,1022.5 1134.7,1020.8 1134.9,1022.6 1135,1019.2 1135.2,1021 1135.4,1019.8 1135.6,1022.4 1135.8,1026.1 1136,1025.1 1136.1,1029.6 1136.3,1029.3 1136.5,1030 1136.7,1030.2 1136.9,1035.1 1137.1,1034.4 1137.2,1041.9 1137.4,1039.3 1137.6,1042 1137.8,1046.2 1138,1047.1 1138.2,1054.4 1138.3,1055.1 1138.5,1058.7 1138.7,1064.1 1138.9,1060.2 1139.1,1067.5 1139.3,1071.4 1139.4,1075.5 1139.6,1075.9 1139.8,1076.4 1140,1082.2 1140.2,1084.2 1140.4,1089 1140.5,1090.7 1140.7,1087.5 1140.9,1092.5 1141.1,1091.6 1141.3,1090.5 1141.5,1095.4 1141.6,1097.8 1141.8,1091.7 1142,1100.1 1142.2,1096.7 1142.4,1102.4 1142.5,1100.5 1142.7,1101.1 1142.9,1104.1 1143.1,1101.3 1143.3,1106.4 1143.5,1101.1 1143.6,1102.1 1143.8,1101.5 1144,1104.9 1144.2,1103.9 1144.4,1105.7 1144.6,1106.3 1144.7,1105.8 1144.9,1106.4 1145.1,1106.3 1145.3,1104.1 1145.5,1102.7 1145.7,1102 1145.8,1105 1146,1102.4 1146.2,1101.2 1146.4,1101 1146.6,1101.8 1146.8,1102.1 1146.9,1100.7 1147.1,1098.6 1147.3,1101 1147.5,1094.9 1147.7,1097.8 1147.9,1099.7 1148,1097.3 1148.2,1098.2 1148.4,1095.1 1148.6,1095.1 1148.8,1092.9 1149,1090.9 1149.1,1091.4 1149.3,1091.5 1149.5,1084.2 1149.7,1085.4 1149.9,1081.4 1150.1,1082.7 1150.2,1080.7 1150.4,1081.3 1150.6,1080.5 1150.8,1082.2 1151,1081.7 1151.2,1076.2 1151.3,1076 1151.5,1077.7 1151.7,1074.1 1151.9,1074 1152.1,1070.3 1152.3,1075.8 1152.4,1074.5 1152.6,1071.7 1152.8,1071 1153,1071.8 1153.2,1075.5 1153.4,1073.9 1153.5,1072.9 1153.7,1075.7 1153.9,1079.1 1154.1,1080.9 1154.3,1082.1 1154.5,1080.6 1154.6,1082 1154.8,1083.2 1155,1085.2 1155.2,1086.3 1155.4,1084.2 1155.6,1085.9 1155.7,1087.9 1155.9,1091.4 1156.1,1090 1156.3,1090.7 1156.5,1095.4 1156.7,1097.4 1156.8,1093.7 1157,1096.2 1157.2,1099.7 1157.4,1097.6 1157.6,1101 1157.8,1097.3 1157.9,1100.4 1158.1,1102.7 1158.3,1105 1158.5,1104.6 1158.7,1100.4 1158.9,1101.1 1159,1102.8 1159.2,1106.3 1159.4,1106.5 1159.6,1107.5 1159.8,1107.2 1160,1105.2 1160.1,1105.9 1160.3,1105.2 1160.5,1108.5 1160.7,1105 1160.9,1107.5 1161.1,1108 1161.2,1109.8 1161.4,1106.5 1161.6,1108.6 1161.8,1106.3 1162,1109.9 1162.2,1107.5 1162.3,1107.7 1162.5,1106.7 1162.7,1107.3 1162.9,1107.3 1163.1,1107.4 1163.3,1110.4 1163.4,1106.8 1163.6,1108.9 1163.8,1109.9 1164,1106.6 1164.2,1104.8 1164.4,1109.3 1164.5,1105.7 1164.7,1107.2 1164.9,1108.3 1165.1,1108.9 1165.3,1108 1165.5,1107.2 1165.6,1110.1 1165.8,1108.8 1166,1111.6 1166.2,1106.8 1166.4,1108.2 1166.6,1108.2 1166.7,1109.1 1166.9,1108.6 1167.1,1108.2 1167.3,1111.4 1167.5,1107.8 1167.7,1108.7 1167.8,1108.2 1168,1106.8 1168.2,1109 1168.4,1104.4 1168.6,1109.5 1168.8,1104.7 1168.9,1106.7 1169.1,1107.3 1169.3,1106.1 1169.5,1105.9 1169.7,1108.7 1169.8,1110.6 1170,1108 1170.2,1106.2 1170.4,1104.6 1170.6,1104 1170.8,1107.2 1170.9,1106.2 1171.1,1106.6 1171.3,1105.6 1171.5,1105.7 1171.7,1101.6 1171.9,1100.6 1172,1099.6 1172.2,1100.7 1172.4,1099.6 1172.6,1099.3 1172.8,1095.9 1173,1097.5 1173.1,1097.7 1173.3,1095.2 1173.5,1088.5 1173.7,1092.5 1173.9,1090.5 1174.1,1091.7 1174.2,1088 1174.4,1088.1 1174.6,1084.4 1174.8,1084.2 1175,1083.9 1175.2,1079.5 1175.3,1078.9 1175.5,1076.8 1175.7,1075.9 1175.9,1072.5 1176.1,1072 1176.3,1065 1176.4,1066.8 1176.6,1067.4 1176.8,1065.4 1177,1060.1 1177.2,1059 1177.4,1060.4 1177.5,1059.1 1177.7,1058.3 1177.9,1056.5 1178.1,1055.9 1178.3,1057.7 1178.5,1052.8 1178.6,1051.7 1178.8,1057.5 1179,1053.7 1179.2,1057.7 1179.4,1055.3 1179.6,1055.3 1179.7,1062.6 1179.9,1060.1 1180.1,1058.5 1180.3,1062.8 1180.5,1064.5 1180.7,1066.1 1180.8,1068.7 1181,1067.5 1181.2,1071.3 1181.4,1074.7 1181.6,1076.9 1181.8,1077.5 1181.9,1077.4 1182.1,1076.7 1182.3,1085.6 1182.5,1081.9 1182.7,1084.9 1182.9,1087.4 1183,1089.7 1183.2,1090.2 1183.4,1089.9 1183.6,1092.7 1183.8,1098 1184,1099.9 1184.1,1095.7 1184.3,1098.3 1184.5,1094.7 1184.7,1099.2 1184.9,1100.9 1185.1,1099.7 1185.2,1104.3 1185.4,1103.1 1185.6,1103.2 1185.8,1097.9 1186,1101.9 1186.2,1104.7 1186.3,1102.9 1186.5,1101 1186.7,1103.4 1186.9,1107.3 1187.1,1106.1 1187.3,1106.6 1187.4,1105.6 1187.6,1108.2 1187.8,1100.8 1188,1103.7 1188.2,1109.1 1188.4,1107.7 1188.5,1106.4 1188.7,1105.5 1188.9,1103.1 1189.1,1105.5 1189.3,1106 1189.5,1104.8 1189.6,1108.7 1189.8,1108.1 1190,1105.9 1190.2,1108 1190.4,1106.4 1190.6,1107 1190.7,1105.8 1190.9,1110.7 1191.1,1104.1 1191.3,1106.4 1191.5,1108.4 1191.7,1108.4 1191.8,1103.9 1192,1105.1 1192.2,1106.5 1192.4,1105.3 1192.6,1105.5 1192.8,1106.2 1192.9,1106.3 1193.1,1108.4 1193.3,1103.6 1193.5,1108.2 1193.7,1106 1193.9,1107.2 1194,1105.6 1194.2,1110.1 1194.4,1102.9 1194.6,1107.8 1194.8,1104.9 1195,1105.1 1195.1,1107.7 1195.3,1104.7 1195.5,1106.4 1195.7,1107.1 1195.9,1103.2 1196.1,1107.5 1196.2,1105.8 1196.4,1102.7 1196.6,1103.1 1196.8,1100.9 1197,1102.2 1197.1,1102.7 1197.3,1102.4 1197.5,1100.3 1197.7,1098.2 1197.9,1097.2 1198.1,1095.8 1198.2,1096.3 1198.4,1097.1 1198.6,1093.9 1198.8,1092.7 1199,1091 1199.2,1093.1 1199.3,1090.4 1199.5,1086.6 1199.7,1091 1199.9,1089.7 1200.1,1086.5 1200.3,1084.6 1200.4,1084.1 1200.6,1081.1 1200.8,1084.1 1201,1083.9 1201.2,1082.1 1201.4,1079.5 1201.5,1078.6 1201.7,1078.5 1201.9,1080.3 1202.1,1074.4 1202.3,1075.6 1202.5,1073.8 1202.6,1072.4 1202.8,1075.7 1203,1077.5 1203.2,1072.9 1203.4,1077.7 1203.6,1077.5 1203.7,1077.6 1203.9,1080.2 1204.1,1076.6 1204.3,1082.3 1204.5,1079.1 1204.7,1082 1204.8,1078.7 1205,1085 1205.2,1084.2 1205.4,1084.1 1205.6,1084.3 1205.8,1088 1205.9,1091.4 1206.1,1090.9 1206.3,1090.3 1206.5,1090.5 1206.7,1091.1 1206.9,1093.5 1207,1092 1207.2,1095.4 1207.4,1099.1 1207.6,1097.7 1207.8,1098.4 1208,1098.3 1208.1,1101.5 1208.3,1102 1208.5,1104.1 1208.7,1100.8 1208.9,1100.6 1209.1,1102.1 1209.2,1101.4 1209.4,1104 1209.6,1103.7 1209.8,1103.3 1210,1105 1210.2,1107.2 1210.3,1106.9 1210.5,1104.9 1210.7,1106.2 1210.9,1106.9 1211.1,1107.7 1211.3,1106.1 1211.4,1104.6 1211.6,1107.5 1211.8,1105.4 1212,1106.5 1212.2,1106.8 1212.4,1108.9 1212.5,1106.6 1212.7,1107.7 1212.9,1107.2 1213.1,1106.6 1213.3,1109.1 1213.5,1106.9 1213.6,1108.5 1213.8,1108.2 1214,1104.6 1214.2,1105 1214.4,1102.5 1214.6,1108.2 1214.7,1108.2 1214.9,1106.9 1215.1,1106.9 1215.3,1107.2 1215.5,1106.7 1215.7,1107.7 1215.8,1107.7 1216,1106.2 1216.2,1110.1 1216.4,1109.3 1216.6,1106.9 1216.8,1111.2 1216.9,1111.7 1217.1,1109.6 1217.3,1109.5 1217.5,1106.4 1217.7,1106.8 1217.9,1104.6 1218,1106.5 1218.2,1108.8 1218.4,1106.4 1218.6,1104.2 1218.8,1109.7 1219,1110.2 1219.1,1109.4 1219.3,1104.1 1219.5,1108 1219.7,1105 1219.9,1106.1 1220.1,1107.4 1220.2,1108.7 1220.4,1104.8 1220.6,1105.1 1220.8,1103.3 1221,1105.3 1221.2,1103.4 1221.3,1104 1221.5,1105.9 1221.7,1104.3 1221.9,1104.2 1222.1,1104.1 1222.3,1104.6 1222.4,1105.3 1222.6,1100.2 1222.8,1098.8 1223,1102.1 1223.2,1101.8 1223.3,1102.4 1223.5,1100.5 1223.7,1101.4 1223.9,1098.2 1224.1,1095 1224.3,1097 1224.4,1092.1 1224.6,1091.2 1224.8,1091.9 1225,1089.1 1225.2,1089.8 1225.4,1085.3 1225.5,1088 1225.7,1080 1225.9,1081.5 1226.1,1076.7 1226.3,1078.3 1226.5,1071.4 1226.6,1071.7 1226.8,1060 1227,1062.5 1227.2,1064.9 1227.4,1058.3 1227.6,1054.8 1227.7,1053.4 1227.9,1053.6 1228.1,1041.6 1228.3,1040.6 1228.5,1036 1228.7,1035.4 1228.8,1028.3 1229,1022.5 1229.2,1019.2 1229.4,1021.5 1229.6,1017.2 1229.8,1015.9 1229.9,1006.5 1230.1,1005.7 1230.3,1004.4 1230.5,1006.1 1230.7,1003.3 1230.9,1000.3 1231,997 1231.2,999.7 1231.4,997.7 1231.6,1001.6 1231.8,1004.6 1232,1001.2 1232.1,999.2 1232.3,1010.4 1232.5,1007.7 1232.7,1009.8 1232.9,1011.3 1233.1,1014.3 1233.2,1017.1 1233.4,1020.7 1233.6,1019.5 1233.8,1025 1234,1030.1 1234.2,1034.2 1234.3,1037.9 1234.5,1042 1234.7,1040 1234.9,1045.6 1235.1,1049.8 1235.3,1055 1235.4,1057.5 1235.6,1065.7 1235.8,1063.2 1236,1066.5 1236.2,1066.3 1236.4,1076.5 1236.5,1075.2 1236.7,1077.1 1236.9,1078.2 1237.1,1081.9 1237.3,1082.9 1237.5,1088 1237.6,1085.6 1237.8,1087.9 1238,1089.2 1238.2,1092.7 1238.4,1093.4 1238.6,1095.8 1238.7,1095.9 1238.9,1096.8 1239.1,1096.6 1239.3,1098.9 1239.5,1098.7 1239.7,1099 1239.8,1095.7 1240,1098.2 1240.2,1098.1 1240.4,1096.2 1240.6,1102.2 1240.8,1102.6 1240.9,1101.9 1241.1,1100.9 1241.3,1102.5 1241.5,1096.4 1241.7,1101.8 1241.9,1095.3 1242,1099.1 1242.2,1098.7 1242.4,1099.1 1242.6,1098.9 1242.8,1098.5 1243,1095.3 1243.1,1094.7 1243.3,1093.8 1243.5,1095.1 1243.7,1093.4 1243.9,1090.3 1244.1,1094.6 1244.2,1089.6 1244.4,1090.1 1244.6,1088.8 1244.8,1088 1245,1089.8 1245.2,1086.4 1245.3,1084 1245.5,1084.8 1245.7,1083.2 1245.9,1081.3 1246.1,1085.7 1246.3,1085.4 1246.4,1079.3 1246.6,1085 1246.8,1085 1247,1077.6 1247.2,1081 1247.4,1079.1 1247.5,1081.1 1247.7,1072.9 1247.9,1080.4 1248.1,1078.2 1248.3,1080.1 1248.5,1081.1 1248.6,1074.4 1248.8,1079.7 1249,1080.2 1249.2,1082 1249.4,1083.7 1249.6,1083.5 1249.7,1081 1249.9,1084.9 1250.1,1082.6 1250.3,1086.6 1250.5,1085.6 1250.6,1086.5 1250.8,1088 1251,1085.4 1251.2,1089 1251.4,1088.1 1251.6,1093.3 1251.7,1094.9 1251.9,1090.5 1252.1,1089.8 1252.3,1095.6 1252.5,1094.8 1252.7,1095 1252.8,1101.9 1253,1097.6 1253.2,1097.2 1253.4,1099.3 1253.6,1101 1253.8,1104.1 1253.9,1102.4 1254.1,1100.1 1254.3,1102 1254.5,1106.8 1254.7,1100.8 1254.9,1104.3 1255,1106.9 1255.2,1105.7 1255.4,1105.3 1255.6,1104.5 1255.8,1106.6 1256,1107.5 1256.1,1107.3 1256.3,1108.9 1256.5,1107.8 1256.7,1109.8 1256.9,1108.1 1257.1,1109.6 1257.2,1107.7 1257.4,1111.3 1257.6,1110.6 1257.8,1109.8 1258,1107.1 1258.2,1109.2 1258.3,1104.1 1258.5,1108.5 1258.7,1109.5 1258.9,1107.8 1259.1,1109.6 1259.3,1110.5 1259.4,1112.5 1259.6,1109.6 1259.8,1107 1260,1105.8 1260.2,1109.4 1260.4,1111.2 1260.5,1111.6 1260.7,1110 1260.9,1108.8 1261.1,1108.8 1261.3,1109.7 1261.5,1110.1 1261.6,1111 1261.8,1110.2 1262,1113.3 1262.2,1110.3 1262.4,1110.9 1262.6,1111.8 1262.7,1111.7 1262.9,1109.1 1263.1,1107.6 1263.3,1108.1 1263.5,1110.8 1263.7,1111.2 1263.8,1110.8 1264,1111.6 1264.2,1112.4 1264.4,1109.1 1264.6,1114.4 1264.8,1114.6 1264.9,1111.6 1265.1,1110.1 1265.3,1110.8 1265.5,1108.2 1265.7,1110.5 1265.9,1109.1 1266,1110.3 1266.2,1110 1266.4,1113.8 1266.6,1109.1 1266.8,1111 1267,1109.9 1267.1,1113 1267.3,1112.2 1267.5,1108.1 1267.7,1109 1267.9,1111 1268.1,1109.6 1268.2,1111.3 1268.4,1110.7 1268.6,1108.9 1268.8,1110.1 1269,1111.4 1269.2,1110.5 1269.3,1110.8 1269.5,1111.2 1269.7,1110.4 1269.9,1112.8 1270.1,1108.6 1270.3,1111.4 1270.4,1109.8 1270.6,1111.3 1270.8,1112 1271,1111.7 1271.2,1111.7 1271.4,1111.9 1271.5,1111.5 1271.7,1110.3 1271.9,1111.8 1272.1,1112.2 1272.3,1112 1272.5,1111.1 1272.6,1111.1 1272.8,1107.5 1273,1109.4 1273.2,1110.4 1273.4,1112.3 1273.6,1112.6 1273.7,1110.9 1273.9,1108.9 1274.1,1111.4 1274.3,1112.2 1274.5,1111.9 1274.7,1109.6 1274.8,1109 1275,1109.3 1275.2,1109 1275.4,1112.2 1275.6,1111.2 1275.8,1114.1 1275.9,1113.3 1276.1,1112.3 1276.3,1109.6 1276.5,1111.7 1276.7,1111.4 1276.9,1108.4 1277,1108.6 1277.2,1109.5 1277.4,1112.6 1277.6,1110 1277.8,1108.5 1277.9,1110.8 1278.1,1111.6 1278.3,1108.7 1278.5,1113.6 1278.7,1109.4 1278.9,1112.3 1279,1111.7 1279.2,1109.4 1279.4,1110.4 1279.6,1110.6 1279.8,1110 1280,1111.8 1280.1,1110.7 1280.3,1107.8 1280.5,1110.7 1280.7,1108.8 1280.9,1110.2 1281.1,1111 1281.2,1110.4 1281.4,1112.2 1281.6,1110.5 1281.8,1109.8 1282,1113.2 1282.2,1111.8 1282.3,1110.4 1282.5,1110.6 1282.7,1110 1282.9,1110.8 1283.1,1109.1 1283.3,1113.4 1283.4,1112.6 1283.6,1107.1 1283.8,1109.1 1284,1110.6 1284.2,1109.6 1284.4,1107.3 1284.5,1111.7 1284.7,1108.7 1284.9,1111.7 1285.1,1111.4 1285.3,1113 1285.5,1109.2 1285.6,1113.5 1285.8,1108.7 1286,1113 1286.2,1112.3 1286.4,1111.3 1286.6,1108.9 1286.7,1113.2 1286.9,1111.9 1287.1,1107.9 1287.3,1106.4 1287.5,1109.5 1287.7,1109.2 1287.8,1111.7 1288,1110.8 1288.2,1111.1 1288.4,1109.7 1288.6,1112.1 1288.8,1109.6 1288.9,1108.1 1289.1,1106.7 1289.3,1111.3 1289.5,1109.5 1289.7,1107.7 1289.9,1109 1290,1109.8 1290.2,1111.5 1290.4,1107 1290.6,1109.7 1290.8,1111.6 1291,1111.1 1291.1,1111.7 1291.3,1113.5 1291.5,1108.9 1291.7,1109.3 1291.9,1112 1292.1,1112.9 1292.2,1110.8 1292.4,1109.7 1292.6,1108.3 1292.8,1111.2 1293,1110.7 1293.2,1108.3 1293.3,1109.2 1293.5,1108.4 1293.7,1110.9 1293.9,1109.7 1294.1,1111.9 1294.3,1112 1294.4,1110.3 1294.6,1111.6 1294.8,1111.3 1295,1112 1295.2,1108.6 1295.4,1110.3 1295.5,1112.3 1295.7,1110.2 1295.9,1108.2 1296.1,1109.2 1296.3,1112.5 1296.5,1107.7 1296.6,1107.1 1296.8,1109.5 1297,1107.1 1297.2,1104.7 1297.4,1104.4 1297.6,1106.9 1297.7,1105.4 1297.9,1108.7 1298.1,1104.6 1298.3,1102.7 1298.5,1103.3 1298.7,1102 1298.8,1105.8 1299,1101.6 1299.2,1105.1 1299.4,1102.7 1299.6,1104.7 1299.8,1099.9 1299.9,1100.8 1300.1,1094.3 1300.3,1096.4 1300.5,1094.9 1300.7,1097.6 1300.9,1093.9 1301,1094.4 1301.2,1090.4 1301.4,1087.9 1301.6,1089.1 1301.8,1090.6 1302,1086.5 1302.1,1088.5 1302.3,1083 1302.5,1081.5 1302.7,1080.1 1302.9,1078.8 1303.1,1076.4 1303.2,1075.9 1303.4,1073.2 1303.6,1071.3 1303.8,1075.7 1304,1073 1304.1,1069 1304.3,1067.2 1304.5,1063.9 1304.7,1067.8 1304.9,1064.1 1305.1,1069.3 1305.2,1060.2 1305.4,1064.6 1305.6,1066.3 1305.8,1062 1306,1068 1306.2,1065.7 1306.3,1066 1306.5,1062.1 1306.7,1067.1 1306.9,1067.7 1307.1,1066.6 1307.3,1071.3 1307.4,1069.1 1307.6,1064.3 1307.8,1071.4 1308,1075.9 1308.2,1072 1308.4,1076.4 1308.5,1074.7 1308.7,1077.6 1308.9,1073.2 1309.1,1076.6 1309.3,1081.4 1309.5,1082.2 1309.6,1081 1309.8,1087.8 1310,1088.5 1310.2,1087.3 1310.4,1086.2 1310.6,1092.9 1310.7,1091.9 1310.9,1095.6 1311.1,1097.5 1311.3,1095.7 1311.5,1096.9 1311.7,1099.9 1311.8,1098.8 1312,1096.4 1312.2,1102.2 1312.4,1102.4 1312.6,1101.5 1312.8,1104.2 1312.9,1103.2 1313.1,1103.7 1313.3,1106.5 1313.5,1103 1313.7,1103.1 1313.9,1106.2 1314,1104.5 1314.2,1108.8 1314.4,1106.3 1314.6,1104.9 1314.8,1107.5 1315,1104.6 1315.1,1111.1 1315.3,1108.9 1315.5,1110.3 1315.7,1110.2 1315.9,1109.9 1316.1,1107.9 1316.2,1111.2 1316.4,1109.4 1316.6,1108.8 1316.8,1106.8 1317,1112.5 1317.2,1110 1317.3,1109.8 1317.5,1107.4 1317.7,1112.2 1317.9,1110.6 1318.1,1112.5 1318.3,1110.8 1318.4,1109.5 1318.6,1111.9 1318.8,1108.5 1319,1108.5 1319.2,1111 1319.4,1112.4 1319.5,1113.1 1319.7,1111.1 1319.9,1111.1 1320.1,1111.7 1320.3,1111.1 1320.5,1110.6 1320.6,1112.3 1320.8,1110.7 1321,1111.2 1321.2,1113.5 1321.4,1111.9 1321.6,1110.8 1321.7,1112.8 1321.9,1111.4 1322.1,1112.8 1322.3,1110.3 1322.5,1110.5 1322.7,1109.4 1322.8,1113.6 1323,1114.1 1323.2,1113.7 1323.4,1112.4 1323.6,1112.2 1323.8,1111.5 1323.9,1112.8 1324.1,1111.6 1324.3,1110.3 1324.5,1113.5 1324.7,1113.4 1324.9,1112.8 1325,1111.8 1325.2,1111.3 1325.4,1112.1 1325.6,1112.3 1325.8,1110.1 1326,1111.2 1326.1,1110.2 1326.3,1113.7 1326.5,1109.7 1326.7,1110 1326.9,1110.5 1327.1,1112.1 1327.2,1110.4 1327.4,1114.6 1327.6,1113 1327.8,1107.9 1328,1112.1 1328.2,1112.2 1328.3,1109.5 1328.5,1111.4 1328.7,1111.6 1328.9,1110.3 1329.1,1111.1 1329.3,1111.7 1329.4,1110.2 1329.6,1110.8 1329.8,1108.7 1330,1111.6 1330.2,1109.3 1330.4,1112.2 1330.5,1113.4 1330.7,1112.5 1330.9,1108.6 1331.1,1109.9 1331.3,1108.4 1331.4,1109.3 1331.6,1106.8 1331.8,1106.1 1332,1107.4 1332.2,1105.7 1332.4,1108.8 1332.5,1107.5 1332.7,1106.4 1332.9,1105.1 1333.1,1104.6 1333.3,1106.2 1333.5,1104.1 1333.6,1103.5 1333.8,1106.5 1334,1102.9 1334.2,1101.7 1334.4,1101.3 1334.6,1103.7 1334.7,1100 1334.9,1099.6 1335.1,1102.2 1335.3,1102.1 1335.5,1102.3 1335.7,1097.7 1335.8,1100 1336,1098 1336.2,1099.8 1336.4,1096 1336.6,1098.6 1336.8,1101.2 1336.9,1099.6 1337.1,1094.9 1337.3,1101.6 1337.5,1100.7 1337.7,1099.8 1337.9,1100.7 1338,1100.4 1338.2,1103.6 1338.4,1101.8 1338.6,1099.4 1338.8,1101.2 1339,1106.3 1339.1,1105.8 1339.3,1105.7 1339.5,1103.3 1339.7,1106.1 1339.9,1107.5 1340.1,1106.2 1340.2,1107.8 1340.4,1108.9 1340.6,1109.2 1340.8,1108.5 1341,1108.9 1341.2,1106.3 1341.3,1108.3 1341.5,1110.5 1341.7,1112.3 1341.9,1110 1342.1,1111.8 1342.3,1110.2 1342.4,1108.8 1342.6,1111.4 1342.8,1111.6 1343,1109.5 1343.2,1109.7 1343.4,1111.4 1343.5,1110.6 1343.7,1112.4 1343.9,1109.5 1344.1,1113.1 1344.3,1110.9 1344.5,1112.5 1344.6,1109.5 1344.8,1113.6 1345,1112.5 1345.2,1115.6 1345.4,1109.6 1345.6,1109.4 1345.7,1113.4 1345.9,1113.8 1346.1,1109.5 1346.3,1113.2 1346.5,1113.9 1346.7,1114.7 1346.8,1112.7 1347,1110 1347.2,1109.4 1347.4,1115.8 1347.6,1113.1 1347.8,1114.1 1347.9,1112 1348.1,1112.1 1348.3,1112.2 1348.5,1111 1348.7,1112.1 1348.9,1110.8 1349,1111.9 1349.2,1114.3 1349.4,1112.5 1349.6,1111.4 1349.8,1115.2 1350,1114.5 1350.1,1112.5 1350.3,1109.7 1350.5,1114.5 1350.7,1114.5 1350.9,1111.4 1351.1,1114.6 1351.2,1111 1351.4,1111.9 1351.6,1111.5 1351.8,1112.5 1352,1111.9 1352.2,1114.4 1352.3,1111.5 1352.5,1112.7 1352.7,1112 1352.9,1112.2 1353.1,1110.4 1353.3,1111.5 1353.4,1113.8 1353.6,1112.7 1353.8,1109.3 1354,1110.4 1354.2,1109.3 1354.4,1109.6 1354.5,1109.5 1354.7,1108.4 1354.9,1111 1355.1,1111.5 1355.3,1110 1355.5,1108.7 1355.6,1109.5 1355.8,1107.6 1356,1110.5 1356.2,1112.4 1356.4,1103.4 1356.6,1108.4 1356.7,1107.5 1356.9,1107.4 1357.1,1106.2 1357.3,1103.6 1357.5,1105.8 1357.7,1104.8 1357.8,1104.9 1358,1104.6 1358.2,1103.4 1358.4,1108.1 1358.6,1101.3 1358.7,1102.4 1358.9,1100.4 1359.1,1102.1 1359.3,1105 1359.5,1101.7 1359.7,1099.9 1359.8,1098.6 1360,1101.9 1360.2,1099.3 1360.4,1101.6 1360.6,1099 1360.8,1099.2 1360.9,1100 1361.1,1096.9 1361.3,1102.3 1361.5,1097.9 1361.7,1100.4 1361.9,1101.1 1362,1104.9 1362.2,1101.5 1362.4,1102.4 1362.6,1100.1 1362.8,1101.1 1363,1101.6 1363.1,1104 1363.3,1100.5 1363.5,1103.5" fill="none" stroke="none" marker-start="url(#p)" marker-mid="url(#p)" marker-end="url(#p)"/>
<polyline points="91.6,1105.5 93.2,1105.2 94.9,1105 96.5,1104.7 98.2,1104.4 99.8,1104.1 101.5,1103.8 103.1,1103.3 104.4,1102.9 105.3,1102.5 106.1,1101.9 106.4,1101.5 106.8,1100.9 107,1100.4 107.2,1099.9 107.4,1099.2 107.5,1098.3 107.7,1097.3 107.9,1096 108.1,1094.5 108.3,1092.7 108.5,1090.6 108.6,1088.3 108.8,1085.8 109,1083 109.2,1080.1 109.4,1077.2 109.6,1074.3 109.7,1071.6 109.9,1069.3 110.1,1067.5 110.3,1066.4 110.8,1067.7 111,1069.6 111.2,1071.9 111.4,1074.6 111.6,1077.5 111.8,1080.4 111.9,1083.2 112.1,1085.9 112.3,1088.3 112.5,1090.5 112.7,1092.5 112.9,1094.2 113,1095.6 113.2,1096.8 113.4,1097.7 113.6,1098.5 113.8,1099.1 114,1099.6 114.3,1100.3 114.7,1100.7 115.4,1101.1 117.1,1101.4 118.7,1101.4 120.4,1101.3 122,1101.1 123.7,1100.8 125.1,1100.3 126,1099.8 126.8,1099.3 127.3,1098.8 127.7,1098.4 128.1,1097.9 128.4,1097.4 128.8,1096.8 129.2,1096.2 129.5,1095.5 129.9,1094.8 130.3,1094.1 130.6,1093.4 131,1092.7 131.4,1092 131.7,1091.4 132.1,1090.8 132.5,1090.4 133.2,1090 134.3,1090.5 134.7,1091 135,1091.5 135.4,1092.1 135.8,1092.7 136.1,1093.4 136.5,1094 136.9,1094.6 137.2,1095.2 137.6,1095.7 138,1096.2 138.3,1096.7 138.9,1097.2 139.4,1097.7 140.2,1098.1 141.8,1098.5 143.5,1098.5 145.1,1098.4 146.7,1098.3 148.4,1098.1 150,1097.9 151.7,1098.2 153.3,1098.4 155,1098.6 156.6,1098.8 158.3,1099.1 159.9,1099.3 161.6,1099.5 163.2,1099.7 164.9,1099.9 166.5,1100.1 168.2,1100.2 169.8,1100.4 171.5,1100.6 173.1,1100.7 174.8,1100.9 176.4,1101 178.1,1101.1 179.7,1101.2 181.4,1101 183,1100.8 184.7,1100.5 186.3,1100.1 187.8,1099.7 189.1,1099.2 190.2,1098.8 191.1,1098.3 191.8,1097.8 192.6,1097.3 193.1,1096.8 193.7,1096.3 194.2,1095.7 194.6,1095.3 194.9,1094.7 195.3,1094.2 195.7,1093.6 196,1092.8 196.4,1092.1 196.6,1091.6 196.8,1091.2 197,1090.7 197.1,1090.1 197.3,1089.6 197.5,1089 197.7,1088.3 197.9,1087.6 198.1,1086.8 198.2,1085.9 198.4,1085 198.6,1083.9 198.8,1082.6 199,1081.1 199.2,1079.4 199.3,1077.3 199.5,1074.8 199.7,1071.7 199.9,1067.8 200.1,1063.1 200.2,1057.1 200.4,1049.7 200.6,1040.4 200.8,1029 201,1015.1 201.2,998.1 201.3,977.7 201.5,953.4 201.7,924.9 201.9,891.7 202.1,853.8 202.3,810.9 202.4,763.3 202.6,711.1 202.8,654.8 203,595.4 203.2,533.6 203.4,470.8 203.5,408.5 203.7,348.3 203.9,292.2 204.1,242.2 204.3,200.2 204.5,168.1 204.6,147.6 204.8,139.6 205,144.6 205.2,162.4 205.4,191.8 205.6,231.6 205.7,279.7 205.9,334.3 206.1,393.3 206.3,454.7 206.5,517 206.7,578.4 206.8,637.8 207,694.1 207.2,746.5 207.4,794.5 207.6,837.7 207.8,876 207.9,909.4 208.1,938.2 208.3,962.7 208.5,983.3 208.7,1000.3 208.9,1014.3 209,1025.6 209.2,1034.7 209.4,1041.9 209.6,1047.6 209.8,1052.1 210,1055.7 210.1,1058.5 210.3,1060.7 210.5,1062.4 210.7,1063.8 210.9,1064.9 211.1,1065.8 211.2,1066.5 211.4,1067.2 211.6,1067.7 211.8,1068.2 212,1068.6 212.3,1069.3 212.7,1069.8 213.1,1070.3 213.4,1070.7 214,1071.2 214.5,1071.7 215.3,1072.1 216.9,1072 217.3,1071.3 217.5,1070.8 217.7,1070.1 217.8,1069.2 218,1067.9 218.2,1066.2 218.4,1064 218.6,1061.2 218.8,1057.5 218.9,1052.8 219.1,1046.9 219.3,1039.6 219.5,1030.6 219.7,1019.6 219.9,1006.5 220,990.9 220.2,972.8 220.4,952 220.6,928.4 220.8,902.1 221,873.2 221.1,842.1 221.3,809.1 221.5,774.8 221.7,739.9 221.9,705.2 222.1,671.7 222.2,640.5 222.4,612.7 222.6,589.3 222.8,571.6 223,560.2 223.2,556 223.3,559.1 223.5,569.4 223.7,586.3 223.9,609 224.1,636.5 224.3,667.6 224.4,701.2 224.6,736.2 224.8,771.7 225,806.8 225.2,840.7 225.4,872.9 225.5,902.9 225.7,930.4 225.9,955.2 226.1,977.2 226.3,996.5 226.4,1013.2 226.6,1027.4 226.8,1039.4 227,1049.4 227.2,1057.6 227.4,1064.3 227.5,1069.8 227.7,1074.2 227.9,1077.8 228.1,1080.6 228.3,1082.9 228.5,1084.8 228.6,1086.3 228.8,1087.5 229,1088.6 229.2,1089.5 229.4,1090.2 229.6,1090.9 229.7,1091.4 229.9,1092 230.1,1092.4 230.3,1092.8 230.7,1093.6 231,1094.2 231.4,1094.8 231.8,1095.3 232.1,1095.8 232.7,1096.3 233.2,1096.8 233.8,1097.2 234.5,1097.7 235.4,1098.1 236.5,1098.6 238,1099 239.6,1099.4 241.3,1099.6 242.9,1099.8 244.6,1100 246.2,1100.1 247.9,1100.2 249.5,1100.2 251.2,1100.3 252.8,1100.3 254.5,1100.3 256.1,1100.3 257.8,1100.3 259.4,1100.3 261.1,1100.3 262.7,1100.3 264.4,1100.3 266,1100.2 267.7,1100.2 269.3,1100.2 271,1100.1 272.6,1100.1 274.3,1100 275.9,1100 277.6,1099.9 279.2,1099.9 280.9,1100 282.5,1100.2 284.2,1100.5 285.8,1100.6 287.5,1100.7 289.1,1100.4 289.8,1099.8 290.2,1099.2 290.6,1098.4 290.8,1097.9 290.9,1097.3 291.1,1096.6 291.3,1095.7 291.5,1094.8 291.7,1093.7 291.9,1092.5 292,1091.3 292.2,1089.9 292.4,1088.4 292.6,1086.8 292.8,1085.3 293,1083.7 293.1,1082.1 293.3,1080.6 293.5,1079.2 293.7,1078 293.9,1077.1 294.1,1076.4 294.8,1077 295,1078 295.2,1079.2 295.3,1080.6 295.5,1082.2 295.7,1083.8 295.9,1085.4 296.1,1087.1 296.3,1088.7 296.4,1090.3 296.6,1091.8 296.8,1093.1 297,1094.4 297.2,1095.6 297.4,1096.6 297.5,1097.5 297.7,1098.3 297.9,1099 298.1,1099.6 298.3,1100.2 298.5,1100.6 298.8,1101.3 299.2,1101.8 299.7,1102.4 300.7,1102.8 302.3,1103.1 304,1103.2 305.6,1103.3 307.2,1103.3 308.9,1103.2 310.5,1103.1 312.2,1102.9 313.8,1102.6 315.1,1102.1 316,1101.7 316.8,1101.3 317.3,1100.8 317.9,1100.2 318.2,1099.6 318.6,1098.8 318.8,1098.4 319,1097.8 319.2,1097.1 319.3,1096.3 319.5,1095.3 319.7,1094.1 319.9,1092.7 320.1,1091.1 320.3,1089.2 320.4,1086.9 320.6,1084.4 320.8,1081.5 321,1078.2 321.2,1074.5 321.4,1070.5 321.5,1066.1 321.7,1061.4 321.9,1056.5 322.1,1051.3 322.3,1046 322.5,1040.7 322.6,1035.6 322.8,1030.7 323,1026.2 323.2,1022.4 323.4,1019.3 323.6,1017.2 323.7,1016.1 324.1,1017.3 324.3,1019.5 324.5,1022.5 324.7,1026.3 324.8,1030.6 325,1035.2 325.2,1040.1 325.4,1045 325.6,1049.8 325.8,1054.5 325.9,1058.8 326.1,1062.7 326.3,1066.2 326.5,1069.2 326.7,1071.6 326.9,1073.4 327,1074.5 327.6,1072.8 327.8,1070.3 328,1066.7 328.1,1061.9 328.3,1055.7 328.5,1048.1 328.7,1038.9 328.9,1028.1 329.1,1015.6 329.2,1001.5 329.4,985.7 329.6,968.5 329.8,950.1 330,930.6 330.2,910.6 330.3,890.4 330.5,870.5 330.7,851.6 330.9,834.2 331.1,819.1 331.3,806.8 331.4,797.9 331.6,793 331.8,792.2 332,795.7 332.2,803.2 332.4,814.3 332.5,828.6 332.7,845.3 332.9,863.9 333.1,883.7 333.3,904 333.5,924.4 333.6,944.4 333.8,963.5 334,981.5 334.2,998.2 334.4,1013.4 334.5,1027 334.7,1039 334.9,1049.5 335.1,1058.5 335.3,1066.1 335.5,1072.5 335.6,1077.8 335.8,1082.1 336,1085.7 336.2,1088.5 336.4,1090.8 336.6,1092.7 336.7,1094.1 336.9,1095.3 337.1,1096.3 337.3,1097.1 337.5,1097.7 337.7,1098.3 337.8,1098.7 338.2,1099.5 338.6,1100.1 338.9,1100.5 339.3,1101 339.9,1101.5 340.4,1101.9 341.1,1102.4 342.1,1102.9 343.2,1103.3 344.6,1103.7 346.3,1104.1 347.9,1104.4 349.6,1104.6 351.2,1104.7 352.9,1104.9 354.5,1105 356.2,1105.1 357.8,1105.1 359.5,1105.2 361.1,1105.2 362.8,1105.1 364.4,1105.1 366.1,1105 367.7,1104.9 369.4,1104.8 371,1104.6 372.7,1104.3 374.3,1103.9 375.6,1103.5 376.7,1103 377.4,1102.6 378.2,1102.1 378.7,1101.7 379.3,1101.1 379.6,1100.6 380,1100.1 380.4,1099.5 380.7,1098.6 380.9,1098.1 381.1,1097.5 381.3,1096.7 381.5,1095.8 381.6,1094.7 381.8,1093.3 382,1091.6 382.2,1089.5 382.4,1086.8 382.6,1083.4 382.7,1079.3 382.9,1074.2 383.1,1068 383.3,1060.5 383.5,1051.6 383.7,1041 383.8,1028.7 384,1014.6 384.2,998.6 384.4,980.7 384.6,961 384.8,939.8 384.9,917.2 385.1,893.6 385.3,869.5 385.5,845.5 385.7,822.2 385.9,800.2 386,780.4 386.2,763.5 386.4,750.3 386.6,741.4 386.8,737.3 387,738.1 387.1,744 387.3,754.4 387.5,769 387.7,787 387.9,807.7 388,830.2 388.2,853.8 388.4,877.9 388.6,901.9 388.8,925.1 389,947.3 389.1,968 389.3,987 389.5,1004.2 389.7,1019.5 389.9,1033 390.1,1044.6 390.2,1054.6 390.4,1063 390.6,1070 390.8,1075.8 391,1080.5 391.2,1084.3 391.3,1087.4 391.5,1089.8 391.7,1091.8 391.9,1093.4 392.1,1094.6 392.3,1095.6 392.4,1096.5 392.6,1097.1 392.8,1097.7 393,1098.2 393.2,1098.6 393.5,1099.2 393.9,1099.7 394.3,1100.2 394.8,1100.7 395.6,1101.2 396.5,1101.6 398.1,1101.9 399.8,1101.7 400.9,1101.2 401.4,1100.8 402,1100.1 402.3,1099.5 402.5,1099 402.7,1098.4 402.9,1097.7 403.1,1096.8 403.3,1095.6 403.4,1094.2 403.6,1092.4 403.8,1090.2 404,1087.5 404.2,1084.3 404.4,1080.4 404.5,1075.8 404.7,1070.4 404.9,1064.1 405.1,1057.1 405.3,1049.1 405.5,1040.3 405.6,1030.8 405.8,1020.5 406,1009.8 406.2,998.8 406.4,987.7 406.6,976.8 406.7,966.4 406.9,956.9 407.1,948.7 407.3,942 407.5,937.2 407.7,934.5 408,936 408.2,940.1 408.4,946.2 408.6,953.9 408.8,963 408.9,973 409.1,983.6 409.3,994.6 409.5,1005.6 409.7,1016.3 409.9,1026.5 410,1036.2 410.2,1045.1 410.4,1053.1 410.6,1060.3 410.8,1066.7 411,1072.1 411.1,1076.8 411.3,1080.7 411.5,1084 411.7,1086.6 411.9,1088.7 412.1,1090.4 412.2,1091.7 412.4,1092.6 412.6,1093.2 413,1093.8 413.5,1093 413.7,1092.2 413.9,1091.2 414.1,1089.8 414.3,1088 414.4,1085.7 414.6,1082.8 414.8,1079.2 415,1074.8 415.2,1069.5 415.3,1063.2 415.5,1055.7 415.7,1047 415.9,1037.1 416.1,1025.8 416.3,1013.3 416.4,999.6 416.6,984.9 416.8,969.3 417,953.1 417.2,936.7 417.4,920.4 417.5,904.7 417.7,890.1 417.9,877.2 418.1,866.3 418.3,858.1 418.5,852.9 418.6,851 418.8,852.5 419,857.4 419.2,865.3 419.4,875.8 419.6,888.5 419.7,902.9 419.9,918.3 420.1,934.4 420.3,950.7 420.5,966.7 420.7,982.2 420.8,996.8 421,1010.3 421.2,1022.7 421.4,1033.8 421.6,1043.6 421.8,1052.1 421.9,1059.3 422.1,1065.4 422.3,1070.4 422.5,1074.4 422.7,1077.5 422.9,1079.8 423,1081.4 423.2,1082.3 423.8,1081.3 424,1079.6 424.1,1077.1 424.3,1073.7 424.5,1069.2 424.7,1063.6 424.9,1056.6 425.1,1048.1 425.2,1037.8 425.4,1025.5 425.6,1011.2 425.8,994.7 426,976 426.2,955 426.3,932 426.5,907 426.7,880.5 426.9,852.8 427.1,824.5 427.3,796.3 427.4,768.8 427.6,743 427.8,719.7 428,699.9 428.2,684.4 428.4,674 428.5,669.3 428.7,670.4 428.9,677.4 429.1,689.9 429.3,707.2 429.5,728.5 429.6,752.9 429.8,779.6 430,807.5 430.2,836.1 430.4,864.4 430.6,891.9 430.7,918 430.9,942.5 431.1,965 431.3,985.4 431.5,1003.5 431.7,1019.4 431.8,1033.2 432,1045 432.2,1054.9 432.4,1063.2 432.6,1070.1 432.8,1075.7 432.9,1080.3 433.1,1083.9 433.3,1086.9 433.5,1089.2 433.7,1091.1 433.9,1092.6 434,1093.9 434.2,1094.9 434.4,1095.7 434.6,1096.4 434.8,1097 435,1097.5 435.1,1098 435.3,1098.4 435.7,1099.1 436.1,1099.7 436.4,1100.2 436.8,1100.6 437.3,1101.2 437.9,1101.7 438.4,1102.1 439.2,1102.5 440.1,1103 441.2,1103.4 442.6,1103.8 444.3,1104.2 445.9,1104.4 447.6,1104.6 449.2,1104.8 450.9,1104.9 452.5,1105 454.2,1105 455.8,1105.1 457.5,1105.1 459.1,1105.1 460.8,1105.1 462.4,1105.1 464.1,1105.1 465.7,1105 467.4,1104.9 469,1104.7 470.7,1104.3 471.8,1103.8 472.5,1103.4 473.1,1102.9 473.4,1102.5 473.8,1101.8 474,1101.4 474.2,1100.9 474.3,1100.2 474.5,1099.4 474.7,1098.4 474.9,1097.2 475.1,1095.6 475.3,1093.8 475.4,1091.5 475.6,1088.8 475.8,1085.5 476,1081.7 476.2,1077.2 476.4,1072 476.5,1066.1 476.7,1059.5 476.9,1052.2 477.1,1044.2 477.3,1035.6 477.5,1026.4 477.6,1016.9 477.8,1007.2 478,997.5 478.2,988 478.4,979 478.6,970.7 478.7,963.5 478.9,957.6 479.1,953.2 479.3,950.7 479.5,950 479.7,951.3 479.8,954.5 480,959.4 480.2,965.7 480.4,973.3 480.6,981.9 480.8,991.1 480.9,1000.7 481.1,1010.5 481.3,1020.1 481.5,1029.5 481.7,1038.5 481.9,1046.9 482,1054.7 482.2,1061.8 482.4,1068.2 482.6,1073.9 482.8,1078.8 483,1083.1 483.1,1086.7 483.3,1089.8 483.5,1092.4 483.7,1094.5 483.9,1096.3 484.1,1097.7 484.2,1098.9 484.4,1099.8 484.6,1100.6 484.8,1101.2 485,1101.7 485.2,1102.1 485.5,1102.7 485.9,1103.1 486.4,1103.6 487.2,1104 488.3,1104.4 489.9,1104.8 491.6,1105 493.2,1105.1 494.9,1105 496.5,1104.8 498.2,1104.4 499.4,1104 500.4,1103.5 501.1,1103.1 501.8,1102.6 502.4,1102.1 502.9,1101.5 503.3,1101 503.7,1100.4 504,1099.6 504.2,1099.2 504.4,1098.6 504.6,1098 504.8,1097.2 504.9,1096.2 505.1,1095 505.3,1093.6 505.5,1091.8 505.7,1089.5 505.9,1086.8 506,1083.4 506.2,1079.2 506.4,1074.2 506.6,1068.1 506.8,1060.9 507,1052.4 507.1,1042.4 507.3,1030.9 507.5,1017.8 507.7,1003 507.9,986.7 508.1,968.8 508.2,949.5 508.4,929 508.6,907.6 508.8,885.8 509,863.9 509.2,842.4 509.3,821.9 509.5,803.1 509.7,786.6 509.9,773.1 510.1,763 510.3,756.9 510.4,755 510.6,757.5 510.8,764.3 511,774.9 511.2,789 511.4,805.9 511.5,825 511.7,845.6 511.9,867.2 512.1,889.1 512.3,910.9 512.5,932.2 512.6,952.5 512.8,971.5 513,989.2 513.2,1005.3 513.4,1019.8 513.6,1032.7 513.7,1043.9 513.9,1053.6 514.1,1062 514.3,1069 514.5,1074.9 514.7,1079.8 514.8,1083.8 515,1087.1 515.2,1089.7 515.4,1091.9 515.6,1093.6 515.8,1095 515.9,1096.2 516.1,1097.1 516.3,1097.9 516.5,1098.5 516.7,1099 516.9,1099.5 517.2,1100.2 517.6,1100.8 518,1101.3 518.5,1101.8 519.1,1102.3 519.8,1102.8 520.7,1103.3 521.8,1103.7 523.4,1104.1 525.1,1104.4 526.7,1104.6 528.4,1104.7 530,1104.7 531.7,1104.7 533.3,1104.6 535,1104.4 536.6,1104.2 538.3,1103.9 539.9,1103.6 541.6,1103.3 543.2,1102.8 544.5,1102.4 545.6,1102 546.5,1101.6 547.5,1101.1 548.2,1100.7 548.7,1100.3 549.3,1099.8 549.8,1099.2 550.2,1098.7 550.6,1098.1 550.9,1097.3 551.1,1096.9 551.3,1096.4 551.5,1095.9 551.7,1095.3 551.8,1094.6 552,1093.9 552.2,1093.1 552.4,1092.2 552.6,1091.2 552.8,1090.1 552.9,1088.9 553.1,1087.6 553.3,1086.2 553.5,1084.7 553.7,1083.1 553.9,1081.4 554,1079.6 554.2,1077.7 554.4,1075.7 554.6,1073.7 554.8,1071.6 555,1069.4 555.1,1067.2 555.3,1065.1 555.5,1062.9 555.7,1060.9 555.9,1058.9 556.1,1057 556.2,1055.2 556.4,1053.7 556.6,1052.4 556.8,1051.2 557,1050.4 557.2,1049.7 557.3,1049.3 558.6,1048.7 558.8,1047.9 559,1046.6 559.2,1044.6 559.4,1041.7 559.5,1037.6 559.7,1032.1 559.9,1024.8 560.1,1015.6 560.3,1004.1 560.5,989.9 560.6,972.7 560.8,952.3 561,928.4 561.2,900.7 561.4,869.3 561.6,834.2 561.7,795.4 561.9,753.2 562.1,708.3 562.3,661 562.5,612.4 562.7,563.3 562.8,514.9 563,468.4 563.2,425.3 563.4,386.9 563.6,354.8 563.8,330.3 563.9,314.4 564.1,308.1 564.3,311.6 564.5,324.8 564.7,346.9 564.9,377.1 565,413.9 565.2,456 565.4,502 565.6,550.4 565.8,599.9 566,649.3 566.1,697.7 566.3,744.1 566.5,787.9 566.7,828.6 566.9,865.9 567.1,899.5 567.2,929.4 567.4,955.6 567.6,978.4 567.8,998 568,1014.5 568.2,1028.4 568.3,1040 568.5,1049.5 568.7,1057.3 568.9,1063.6 569.1,1068.8 569.3,1072.9 569.4,1076.3 569.6,1079 569.8,1081.2 570,1083 570.2,1084.5 570.4,1085.7 570.5,1086.8 570.7,1087.7 570.9,1088.5 571.1,1089.3 571.3,1089.9 571.5,1090.5 571.6,1091 571.8,1091.5 572,1091.9 572.2,1092.3 572.6,1093.1 572.9,1093.7 573.3,1094.3 573.7,1094.8 574,1095.3 574.4,1095.7 574.9,1096.2 575.5,1096.7 576.2,1097.2 576.9,1097.6 577.9,1098 579.1,1098.4 580.8,1098.8 582.4,1099 584.1,1099.1 585.7,1099.1 587.4,1099 589,1099.1 590.7,1099.2 592.3,1099.2 594,1099.1 595.6,1098.9 597.3,1098.6 598.6,1098.1 599.5,1097.7 600.2,1097.2 600.8,1096.8 601.3,1096.3 601.7,1095.9 602.1,1095.4 602.4,1094.8 602.8,1094 603,1093.5 603.2,1093 603.3,1092.4 603.5,1091.6 603.7,1090.7 603.9,1089.7 604.1,1088.4 604.2,1086.8 604.4,1084.9 604.6,1082.5 604.8,1079.7 605,1076.2 605.2,1072 605.3,1067.1 605.5,1061.1 605.7,1054.1 605.9,1046 606.1,1036.5 606.3,1025.5 606.4,1013.1 606.6,999.2 606.8,983.6 607,966.5 607.2,947.9 607.4,927.9 607.5,906.8 607.7,884.6 607.9,861.9 608.1,838.8 608.3,815.8 608.5,793.5 608.6,772.3 608.8,752.8 609,735.5 609.2,721 609.4,709.9 609.6,702.5 609.7,699.2 609.9,700.1 610.1,705.1 610.3,714.1 610.5,726.7 610.7,742.4 610.8,760.7 611,781 611.2,802.8 611.4,825.5 611.6,848.5 611.8,871.6 611.9,894.2 612.1,916 612.3,936.7 612.5,956.1 612.7,974.2 612.9,990.7 613,1005.6 613.2,1018.9 613.4,1030.7 613.6,1041.1 613.8,1050 614,1057.7 614.1,1064.3 614.3,1069.8 614.5,1074.5 614.7,1078.4 614.9,1081.6 615.1,1084.3 615.2,1086.4 615.4,1088.2 615.6,1089.7 615.8,1091 616,1092 616.2,1092.8 616.3,1093.5 616.5,1094.2 616.7,1094.7 616.9,1095.1 617.1,1095.6 617.4,1096.2 617.8,1096.8 618.2,1097.3 618.5,1097.7 619.1,1098.3 619.6,1098.8 620.2,1099.2 620.9,1099.6 621.8,1100.1 622.9,1100.5 624.4,1100.9 626.1,1101.3 627.7,1101.5 629.4,1101.7 631,1101.8 632.6,1101.7 634.3,1101.5 635.6,1101.1 636.5,1100.6 637,1100.1 637.4,1099.7 637.8,1099.1 638.1,1098.2 638.3,1097.7 638.5,1097 638.7,1096.2 638.9,1095.2 639.1,1094 639.2,1092.6 639.4,1090.8 639.6,1088.7 639.8,1086.3 640,1083.3 640.2,1079.9 640.3,1075.9 640.5,1071.2 640.7,1065.9 640.9,1059.8 641.1,1053.1 641.3,1045.5 641.4,1037.2 641.6,1028.1 641.8,1018.3 642,1007.9 642.2,997 642.4,985.6 642.5,974 642.7,962.3 642.9,950.8 643.1,939.5 643.3,928.9 643.5,919.2 643.6,910.6 643.8,903.3 644,897.7 644.2,894 644.4,892.2 644.7,894.7 644.9,898.9 645.1,904.9 645.3,912.5 645.5,921.4 645.7,931.4 645.8,942.2 646,953.6 646.2,965.2 646.4,977 646.6,988.6 646.8,999.9 646.9,1010.8 647.1,1021.1 647.3,1030.8 647.5,1039.7 647.7,1047.9 647.9,1055.4 648,1062 648.2,1067.9 648.4,1073.2 648.6,1077.7 648.8,1081.6 649,1085 649.1,1087.9 649.3,1090.3 649.5,1092.4 649.7,1094.1 649.9,1095.5 650.1,1096.7 650.2,1097.7 650.4,1098.5 650.6,1099.2 650.8,1099.8 651,1100.3 651.2,1100.7 651.5,1101.3 651.9,1101.8 652.3,1102.2 652.8,1102.7 653.5,1103.2 654.3,1103.6 655.2,1104 656.5,1104.5 658.1,1104.9 659.8,1105.1 661.4,1105.2 663.1,1105.2 664.7,1104.9 666,1104.5 666.7,1104 667.3,1103.4 667.6,1102.8 668,1102.1 668.2,1101.6 668.4,1101.1 668.6,1100.5 668.7,1099.9 668.9,1099.2 669.1,1098.4 669.3,1097.5 669.5,1096.6 669.7,1095.5 669.8,1094.4 670,1093.1 670.2,1091.8 670.4,1090.4 670.6,1088.9 670.8,1087.4 670.9,1085.8 671.1,1084.1 671.3,1082.4 671.5,1080.7 671.7,1079 671.9,1077.3 672,1075.7 672.2,1074.2 672.4,1072.7 672.6,1071.4 672.8,1070.3 673,1069.4 673.1,1068.7 673.3,1068.2 674.1,1069 674.2,1069.8 674.4,1070.8 674.6,1072 674.8,1073.3 675,1074.8 675.2,1076.3 675.3,1077.9 675.5,1079.5 675.7,1081.1 675.9,1082.7 676.1,1084.3 676.3,1085.8 676.4,1087.2 676.6,1088.6 676.8,1089.8 677,1091 677.2,1092.1 677.4,1093 677.5,1093.9 677.7,1094.6 677.9,1095.2 678.1,1095.6 678.5,1096.1 679,1095.5 679.2,1094.9 679.4,1094 679.6,1092.9 679.7,1091.5 679.9,1089.8 680.1,1087.8 680.3,1085.4 680.5,1082.6 680.7,1079.4 680.8,1075.7 681,1071.6 681.2,1067 681.4,1061.9 681.6,1056.3 681.8,1050.3 681.9,1043.9 682.1,1037 682.3,1029.8 682.5,1022.4 682.7,1014.7 682.9,1007 683,999.3 683.2,991.8 683.4,984.6 683.6,977.8 683.8,971.5 684,966.1 684.1,961.5 684.3,957.9 684.5,955.4 684.7,954.2 685,955.4 685.2,957.8 685.4,961.4 685.6,966 685.8,971.4 686,977.6 686.1,984.4 686.3,991.6 686.5,999.1 686.7,1006.7 686.9,1014.4 687.1,1021.9 687.2,1029.3 687.4,1036.4 687.6,1043.2 687.8,1049.5 688,1055.4 688.2,1060.9 688.3,1065.8 688.5,1070.2 688.7,1074 688.9,1077.4 689.1,1080.3 689.3,1082.6 689.4,1084.5 689.6,1085.8 689.8,1086.8 690,1087.2 690.4,1086.7 690.5,1085.8 690.7,1084.4 690.9,1082.5 691.1,1080.2 691.3,1077.3 691.5,1074 691.6,1070.1 691.8,1065.8 692,1060.9 692.2,1055.5 692.4,1049.7 692.6,1043.4 692.7,1036.8 692.9,1029.8 693.1,1022.6 693.3,1015.3 693.5,1007.9 693.7,1000.5 693.8,993.3 694,986.4 694.2,980 694.4,974.2 694.6,969.2 694.8,965 694.9,961.9 695.1,959.8 695.3,959 695.7,961 695.9,963.7 696,967.5 696.2,972.3 696.4,977.9 696.6,984.2 696.8,991 697,998.2 697.1,1005.6 697.3,1013.2 697.5,1020.7 697.7,1028.2 697.9,1035.4 698.1,1042.4 698.2,1049.1 698.4,1055.3 698.6,1061.2 698.8,1066.6 699,1071.5 699.2,1076 699.3,1080 699.5,1083.6 699.7,1086.8 699.9,1089.5 700.1,1092 700.3,1094.1 700.4,1095.9 700.6,1097.5 700.8,1098.8 701,1099.9 701.2,1100.9 701.4,1101.7 701.5,1102.3 701.7,1102.9 701.9,1103.4 702.1,1103.8 702.5,1104.4 702.8,1104.9 703.4,1105.4 704.1,1105.8 705.8,1106 706.9,1105.5 707.4,1105 707.8,1104.6 708.1,1104 708.5,1103.3 708.9,1102.5 709.1,1102 709.2,1101.6 709.4,1101 709.6,1100.5 709.8,1100 710,1099.4 710.2,1098.8 710.3,1098.2 710.5,1097.6 710.7,1097 710.9,1096.3 711.1,1095.7 711.3,1095.1 711.4,1094.6 711.6,1094.1 711.8,1093.6 712,1093.1 712.3,1092.5 712.9,1092 713.6,1092.6 714,1093.4 714.2,1093.8 714.4,1094.4 714.5,1094.9 714.7,1095.5 714.9,1096.2 715.1,1096.8 715.3,1097.5 715.5,1098.1 715.6,1098.8 715.8,1099.5 716,1100.1 716.2,1100.7 716.4,1101.4 716.6,1101.9 716.7,1102.5 716.9,1103 717.1,1103.6 717.3,1104 717.5,1104.5 717.7,1104.9 718,1105.7 718.4,1106.3 718.8,1106.9 719.1,1107.3 719.7,1107.8 720.4,1108.3 721.3,1108.7 723,1109.2 724.6,1109.4 726.3,1109.6 727.9,1109.7 729.6,1109.9 731.2,1109.9 732.9,1110 734.5,1110 736.2,1110 737.8,1110 739.5,1110 741.1,1109.9 742.8,1109.6 744.2,1109.2 745,1108.8 745.5,1108.3 745.9,1107.9 746.2,1107.4 746.6,1106.7 747,1105.9 747.2,1105.5 747.3,1105 747.5,1104.5 747.7,1104 747.9,1103.4 748.1,1102.8 748.3,1102.1 748.4,1101.4 748.6,1100.6 748.8,1099.9 749,1099.1 749.2,1098.3 749.4,1097.4 749.5,1096.6 749.7,1095.7 749.9,1094.8 750.1,1094 750.3,1093.1 750.5,1092.3 750.6,1091.5 750.8,1090.8 751,1090.1 751.2,1089.6 751.4,1089 751.6,1088.6 751.9,1088.1 752.8,1088.8 753,1089.2 753.2,1089.8 753.4,1090.4 753.6,1091.1 753.8,1091.8 753.9,1092.6 754.1,1093.4 754.3,1094.2 754.5,1095.1 754.7,1095.9 754.9,1096.8 755,1097.6 755.2,1098.4 755.4,1099.2 755.6,1099.9 755.8,1100.6 756,1101.3 756.1,1102 756.3,1102.6 756.5,1103.1 756.7,1103.6 756.9,1104.1 757.1,1104.6 757.4,1105.3 757.8,1105.8 758.3,1106.3 759.8,1105.8 760.2,1105.2 760.5,1104.4 760.7,1103.9 760.9,1103.4 761.1,1102.8 761.3,1102.2 761.5,1101.5 761.6,1100.7 761.8,1099.9 762,1099 762.2,1098.1 762.4,1097.1 762.6,1096.1 762.7,1095 762.9,1093.9 763.1,1092.8 763.3,1091.7 763.5,1090.5 763.7,1089.3 763.8,1088.2 764,1087 764.2,1085.9 764.4,1084.9 764.6,1083.9 764.8,1083 764.9,1082.2 765.1,1081.5 765.3,1080.9 765.5,1080.4 765.8,1080 766.4,1080.6 766.6,1081.1 766.8,1081.7 766.9,1082.4 767.1,1083.3 767.3,1084.3 767.5,1085.3 767.7,1086.4 767.9,1087.5 768,1088.7 768.2,1089.9 768.4,1091.1 768.6,1092.3 768.8,1093.5 769,1094.6 769.1,1095.8 769.3,1096.8 769.5,1097.9 769.7,1098.9 769.9,1099.9 770.1,1100.8 770.2,1101.6 770.4,1102.4 770.6,1103.2 770.8,1103.9 771,1104.5 771.2,1105.1 771.3,1105.6 771.5,1106.1 771.7,1106.6 771.9,1107 772.3,1107.7 772.6,1108.3 773,1108.7 773.5,1109.3 774.3,1109.8 775.4,1110.2 777,1110.6 778.7,1110.8 780.3,1110.9 782,1111 783.6,1111.1 785.3,1111.1 786.9,1111.1 788.6,1111.1 790.2,1111 791.9,1110.9 793.5,1110.8 795.2,1110.6 796.8,1110.3 798.5,1109.9 799.6,1109.5 800.3,1109 800.8,1108.5 801.2,1108.1 801.6,1107.6 801.9,1107 802.3,1106.2 802.5,1105.7 802.7,1105.2 802.9,1104.5 803,1103.9 803.2,1103.1 803.4,1102.2 803.6,1101.3 803.8,1100.2 804,1099.1 804.1,1097.8 804.3,1096.4 804.5,1094.8 804.7,1093.2 804.9,1091.4 805.1,1089.5 805.2,1087.4 805.4,1085.2 805.6,1082.9 805.8,1080.4 806,1077.9 806.2,1075.2 806.3,1072.5 806.5,1069.7 806.7,1066.9 806.9,1064.1 807.1,1061.3 807.3,1058.5 807.4,1055.8 807.6,1053.2 807.8,1050.8 808,1048.7 808.2,1046.7 808.4,1045.1 808.5,1043.7 808.7,1042.8 808.9,1042.2 809.5,1042.9 809.6,1043.9 809.8,1045.2 810,1046.9 810.2,1048.9 810.4,1051.1 810.6,1053.5 810.7,1056.1 810.9,1058.7 811.1,1061.5 811.3,1064.3 811.5,1067.1 811.7,1069.9 811.8,1072.6 812,1075.3 812.2,1077.9 812.4,1080.4 812.6,1082.8 812.8,1085.1 812.9,1087.2 813.1,1089.3 813.3,1091.1 813.5,1092.9 813.7,1094.5 813.9,1096 814,1097.3 814.2,1098.6 814.4,1099.7 814.6,1100.7 814.8,1101.6 815,1102.4 815.1,1103.1 815.3,1103.8 815.5,1104.3 815.7,1104.8 815.9,1105.3 816.2,1106 816.6,1106.6 817,1107 817.5,1107.4 818.4,1107.8 820.1,1107.8 821,1107.4 821.5,1106.9 821.9,1106.4 822.3,1105.8 822.6,1105.1 822.8,1104.7 823,1104.2 823.2,1103.7 823.4,1103.2 823.6,1102.6 823.7,1102 823.9,1101.3 824.1,1100.6 824.3,1099.9 824.5,1099.1 824.7,1098.3 824.8,1097.5 825,1096.6 825.2,1095.8 825.4,1094.9 825.6,1094 825.8,1093.2 825.9,1092.3 826.1,1091.5 826.3,1090.7 826.5,1090 826.7,1089.3 826.9,1088.7 827,1088.1 827.2,1087.7 827.6,1087.1 828.5,1087.8 828.7,1088.2 828.9,1088.8 829.1,1089.4 829.2,1090.1 829.4,1090.8 829.6,1091.6 829.8,1092.5 830,1093.3 830.2,1094.2 830.3,1095.1 830.5,1096 830.7,1096.8 830.9,1097.7 831.1,1098.5 831.3,1099.3 831.4,1100.1 831.6,1100.8 831.8,1101.5 832,1102.1 832.2,1102.8 832.4,1103.3 832.5,1103.9 832.7,1104.4 832.9,1104.8 833.1,1105.3 833.5,1106 833.8,1106.6 834.2,1107.1 834.7,1107.7 835.5,1108.2 836.8,1108.6 838.4,1108.7 840.1,1108.7 841.7,1108.8 843.4,1108.7 845,1108.5 846.6,1108.2 847.7,1107.8 848.5,1107.3 849,1106.8 849.4,1106.4 849.8,1105.9 850.1,1105.2 850.3,1104.7 850.5,1104.3 850.7,1103.7 850.9,1103.1 851,1102.4 851.2,1101.7 851.4,1100.8 851.6,1099.9 851.8,1098.8 852,1097.6 852.1,1096.4 852.3,1095 852.5,1093.4 852.7,1091.8 852.9,1090 853.1,1088.1 853.2,1086 853.4,1083.8 853.6,1081.5 853.8,1079.1 854,1076.6 854.2,1074 854.3,1071.4 854.5,1068.7 854.7,1065.9 854.9,1063.2 855.1,1060.5 855.3,1057.8 855.4,1055.3 855.6,1052.9 855.8,1050.6 856,1048.6 856.2,1046.8 856.4,1045.3 856.5,1044.2 856.7,1043.4 857.5,1044.2 857.6,1045.4 857.8,1046.8 858,1048.6 858.2,1050.6 858.4,1052.9 858.6,1055.3 858.7,1057.9 858.9,1060.5 859.1,1063.2 859.3,1066 859.5,1068.7 859.7,1071.4 859.8,1074.1 860,1076.6 860.2,1079.1 860.4,1081.5 860.6,1083.8 860.8,1086 860.9,1088 861.1,1090 861.3,1091.7 861.5,1093.4 861.7,1094.9 861.9,1096.3 862,1097.6 862.2,1098.7 862.4,1099.8 862.6,1100.7 862.8,1101.5 863,1102.3 863.1,1103 863.3,1103.6 863.5,1104.1 863.7,1104.5 863.9,1105 864.2,1105.6 864.6,1106.1 865.2,1106.6 865.9,1107.1 867.5,1107.2 868.5,1106.7 869,1106.1 869.4,1105.6 869.7,1105 870.1,1104.1 870.3,1103.6 870.5,1103.1 870.7,1102.5 870.8,1101.8 871,1101.1 871.2,1100.2 871.4,1099.4 871.6,1098.4 871.8,1097.4 871.9,1096.3 872.1,1095.2 872.3,1093.9 872.5,1092.6 872.7,1091.3 872.9,1089.8 873,1088.4 873.2,1086.9 873.4,1085.3 873.6,1083.7 873.8,1082.1 873.9,1080.5 874.1,1079 874.3,1077.4 874.5,1075.9 874.7,1074.5 874.9,1073.2 875,1072 875.2,1070.9 875.4,1069.9 875.6,1069.2 875.8,1068.6 876.1,1068 876.7,1068.6 876.9,1069.2 877.1,1070 877.2,1070.9 877.4,1071.9 877.6,1072.9 877.8,1074.1 878,1075.3 878.2,1076.5 878.3,1077.7 878.5,1078.9 878.7,1080.1 878.9,1081.1 879.1,1082.1 879.3,1083 879.4,1083.8 879.6,1084.4 879.8,1084.9 880.2,1085.4 880.7,1084.7 880.9,1084.1 881.1,1083.2 881.3,1082.2 881.5,1080.9 881.6,1079.5 881.8,1077.8 882,1076 882.2,1073.9 882.4,1071.7 882.6,1069.4 882.7,1066.9 882.9,1064.3 883.1,1061.6 883.3,1058.9 883.5,1056.2 883.7,1053.4 883.8,1050.8 884,1048.2 884.2,1045.7 884.4,1043.5 884.6,1041.5 884.8,1039.8 884.9,1038.4 885.1,1037.3 885.3,1036.7 885.9,1037.3 886,1038.4 886.2,1039.8 886.4,1041.6 886.6,1043.6 886.8,1046 887,1048.6 887.1,1051.3 887.3,1054.2 887.5,1057.1 887.7,1060.1 887.9,1063.2 888.1,1066.2 888.2,1069.2 888.4,1072.1 888.6,1074.9 888.8,1077.7 889,1080.3 889.2,1082.8 889.3,1085.2 889.5,1087.4 889.7,1089.5 889.9,1091.4 890.1,1093.2 890.3,1094.9 890.4,1096.4 890.6,1097.8 890.8,1099 891,1100.2 891.2,1101.2 891.4,1102.1 891.5,1103 891.7,1103.7 891.9,1104.4 892.1,1105 892.3,1105.5 892.5,1106 892.6,1106.4 893,1107.1 893.4,1107.6 893.7,1108.1 894.3,1108.6 895,1109.1 895.9,1109.5 897.2,1110 898.9,1110.4 900.5,1110.6 902.2,1110.8 903.8,1110.7 905.5,1110.4 906.4,1109.9 906.9,1109.4 907.5,1108.9 907.8,1108.4 908.2,1107.8 908.6,1107.2 908.9,1106.6 909.3,1105.9 909.7,1105.2 910,1104.4 910.4,1103.7 910.8,1103.1 911.1,1102.6 911.7,1102.1 913,1102.6 913.3,1103.1 913.7,1103.7 914.1,1104.4 914.4,1105.1 914.8,1105.8 915.2,1106.5 915.5,1107.2 915.9,1107.8 916.3,1108.4 916.6,1108.9 917,1109.3 917.6,1109.8 918.3,1110.3 919.6,1110.7 921.2,1110.8 922.9,1110.6 924.5,1110.3 925.8,1109.9 926.7,1109.4 927.3,1109 927.8,1108.5 928.2,1108 928.5,1107.4 928.9,1106.7 929.1,1106.3 929.3,1105.8 929.5,1105.3 929.6,1104.8 929.8,1104.2 930,1103.6 930.2,1102.9 930.4,1102.1 930.6,1101.3 930.7,1100.5 930.9,1099.6 931.1,1098.7 931.3,1097.7 931.5,1096.7 931.7,1095.6 931.8,1094.5 932,1093.4 932.2,1092.2 932.4,1091 932.6,1089.9 932.8,1088.7 932.9,1087.6 933.1,1086.5 933.3,1085.4 933.5,1084.4 933.7,1083.4 933.9,1082.6 934,1081.8 934.2,1081.2 934.4,1080.7 934.8,1080.1 935.5,1080.5 935.7,1080.9 935.9,1081.5 936.1,1082.1 936.2,1082.8 936.4,1083.5 936.6,1084.3 936.8,1085 937,1085.8 937.2,1086.5 937.3,1087.3 937.5,1087.9 937.7,1088.5 937.9,1089 938.1,1089.5 938.4,1090 939.4,1089.3 939.5,1088.8 939.7,1088.1 939.9,1087.3 940.1,1086.3 940.3,1085.3 940.5,1084.1 940.6,1082.7 940.8,1081.3 941,1079.8 941.2,1078.2 941.4,1076.6 941.6,1074.9 941.7,1073.2 941.9,1071.4 942.1,1069.7 942.3,1068 942.5,1066.4 942.7,1064.9 942.8,1063.5 943,1062.2 943.2,1061.1 943.4,1060.3 943.6,1059.6 943.8,1059.2 944.5,1060 944.7,1060.9 944.9,1061.9 945,1063.2 945.2,1064.6 945.4,1066.2 945.6,1067.9 945.8,1069.7 946,1071.5 946.1,1073.4 946.3,1075.4 946.5,1077.3 946.7,1079.3 946.9,1081.2 947.1,1083.1 947.2,1084.9 947.4,1086.7 947.6,1088.4 947.8,1090 948,1091.6 948.2,1093 948.3,1094.4 948.5,1095.7 948.7,1096.9 948.9,1098 949.1,1099 949.3,1100 949.4,1100.9 949.6,1101.6 949.8,1102.4 950,1103 950.2,1103.6 950.4,1104.1 950.5,1104.6 950.7,1105 951.1,1105.8 951.5,1106.3 951.8,1106.8 952.4,1107.3 953.1,1107.7 954.2,1108.1 955.8,1108.5 957.5,1108.7 959.1,1108.7 960.8,1108.8 962.4,1108.9 964.1,1109 965.7,1109 967.4,1109 969,1109 970.7,1108.9 972.3,1108.7 973.8,1108.2 974.7,1107.7 975.3,1107.2 975.6,1106.8 976,1106.3 976.4,1105.7 976.7,1105 977.1,1104.2 977.3,1103.7 977.5,1103.2 977.7,1102.7 977.8,1102.1 978,1101.5 978.2,1100.9 978.4,1100.2 978.6,1099.5 978.8,1098.8 978.9,1098 979.1,1097.2 979.3,1096.3 979.5,1095.5 979.7,1094.6 979.9,1093.7 980,1092.8 980.2,1091.9 980.4,1091 980.6,1090.1 980.8,1089.3 980.9,1088.4 981.1,1087.6 981.3,1086.8 981.5,1086.1 981.7,1085.4 981.9,1084.8 982,1084.2 982.2,1083.8 982.6,1083.2 983.7,1083.9 983.9,1084.4 984.1,1084.9 984.2,1085.5 984.4,1086.2 984.6,1087 984.8,1087.8 985,1088.6 985.2,1089.5 985.3,1090.4 985.5,1091.3 985.7,1092.2 985.9,1093.1 986.1,1094 986.3,1094.9 986.4,1095.7 986.6,1096.6 986.8,1097.4 987,1098.2 987.2,1099 987.4,1099.7 987.5,1100.4 987.7,1101.1 987.9,1101.7 988.1,1102.3 988.3,1102.9 988.5,1103.4 988.6,1103.9 988.8,1104.4 989,1104.8 989.4,1105.6 989.7,1106.2 990.1,1106.7 990.5,1107.2 991,1107.7 991.8,1108.2 992.9,1108.6 994.5,1108.9 996.2,1108.9 997.8,1108.7 999.1,1108.3 999.8,1107.8 1000.4,1107.2 1000.7,1106.8 1001.1,1106.3 1001.5,1105.6 1001.8,1104.9 1002,1104.4 1002.2,1104 1002.4,1103.5 1002.6,1103 1002.8,1102.5 1002.9,1101.9 1003.1,1101.3 1003.3,1100.6 1003.5,1100 1003.7,1099.3 1003.9,1098.6 1004,1097.9 1004.2,1097.1 1004.4,1096.4 1004.6,1095.6 1004.8,1094.8 1005,1094 1005.1,1093.3 1005.3,1092.5 1005.5,1091.8 1005.7,1091.1 1005.9,1090.4 1006.1,1089.7 1006.2,1089.2 1006.4,1088.6 1006.6,1088.1 1007,1087.4 1007.5,1087 1008.2,1087.7 1008.6,1088.5 1008.8,1089 1009,1089.6 1009.2,1090.2 1009.3,1090.9 1009.5,1091.6 1009.7,1092.3 1009.9,1093.1 1010.1,1093.8 1010.3,1094.6 1010.4,1095.4 1010.6,1096.1 1010.8,1096.9 1011,1097.6 1011.2,1098.3 1011.4,1099 1011.5,1099.7 1011.7,1100.3 1011.9,1100.9 1012.1,1101.5 1012.3,1102.1 1012.5,1102.6 1012.6,1103.1 1012.8,1103.5 1013,1103.9 1013.4,1104.7 1013.7,1105.2 1014.1,1105.7 1014.7,1106.1 1016.3,1105.7 1016.7,1105.3 1017,1104.7 1017.4,1104 1017.6,1103.5 1017.8,1103.1 1018,1102.6 1018.1,1102 1018.3,1101.5 1018.5,1100.9 1018.7,1100.2 1018.9,1099.5 1019.1,1098.8 1019.2,1098.1 1019.4,1097.3 1019.6,1096.5 1019.8,1095.7 1020,1094.9 1020.2,1094.1 1020.3,1093.3 1020.5,1092.4 1020.7,1091.6 1020.9,1090.8 1021.1,1090 1021.3,1089.2 1021.4,1088.5 1021.6,1087.8 1021.8,1087.2 1022,1086.6 1022.2,1086.1 1022.4,1085.7 1022.7,1085.2 1023.8,1085.9 1024,1086.3 1024.2,1086.9 1024.4,1087.5 1024.6,1088.1 1024.7,1088.9 1024.9,1089.6 1025.1,1090.4 1025.3,1091.2 1025.5,1092.1 1025.7,1092.9 1025.8,1093.8 1026,1094.7 1026.2,1095.5 1026.4,1096.4 1026.6,1097.2 1026.8,1098 1026.9,1098.8 1027.1,1099.6 1027.3,1100.3 1027.5,1101 1027.7,1101.7 1027.9,1102.4 1028,1103 1028.2,1103.6 1028.4,1104.1 1028.6,1104.6 1028.8,1105.1 1029,1105.5 1029.1,1105.9 1029.5,1106.7 1029.9,1107.3 1030.2,1107.8 1030.6,1108.3 1031.2,1108.8 1031.9,1109.3 1032.8,1109.7 1034.5,1110.1 1036.1,1110.2 1037.7,1110.2 1039.4,1110.2 1041,1110 1042.7,1109.5 1043.6,1109 1044.2,1108.6 1044.7,1108.1 1045.3,1107.5 1045.6,1107.1 1046,1106.6 1046.4,1106 1046.7,1105.5 1047.1,1104.9 1047.5,1104.3 1047.8,1103.8 1048.2,1103.3 1048.6,1102.8 1049.1,1102.3 1050.8,1102.4 1051.3,1102.9 1051.7,1103.4 1052,1103.9 1052.4,1104.4 1052.8,1105 1053.1,1105.5 1053.5,1106.1 1053.9,1106.6 1054.2,1107 1054.6,1107.4 1055.2,1108 1055.7,1108.4 1056.4,1108.9 1057.5,1109.3 1059.2,1109.6 1060.8,1109.7 1062.5,1109.7 1064.1,1109.6 1065.8,1109.6 1067.4,1109.5 1069.1,1109.5 1070.7,1109.6 1072.4,1110 1074,1110.5 1075.7,1110.9 1077.3,1111.3 1079,1111.7 1080.6,1112 1082.3,1112.4 1083.9,1112.7 1085.6,1113 1087.2,1113.2 1088.9,1113.4 1090.5,1113.5 1092.2,1113.3 1093.3,1112.8 1094,1112.3 1094.4,1111.9 1094.7,1111.3 1095.1,1110.6 1095.3,1110.2 1095.5,1109.7 1095.6,1109.1 1095.8,1108.5 1096,1107.9 1096.2,1107.1 1096.4,1106.4 1096.6,1105.5 1096.7,1104.6 1096.9,1103.6 1097.1,1102.5 1097.3,1101.4 1097.5,1100.2 1097.7,1098.8 1097.8,1097.4 1098,1096 1098.2,1094.4 1098.4,1092.8 1098.6,1091 1098.8,1089.2 1098.9,1087.3 1099.1,1085.4 1099.3,1083.4 1099.5,1081.3 1099.7,1079.2 1099.9,1077.1 1100,1075 1100.2,1072.8 1100.4,1070.6 1100.6,1068.5 1100.8,1066.4 1101,1064.4 1101.1,1062.5 1101.3,1060.6 1101.5,1058.9 1101.7,1057.3 1101.9,1055.9 1102.1,1054.7 1102.2,1053.7 1102.4,1052.9 1102.6,1052.4 1103.5,1053.4 1103.7,1054.3 1103.9,1055.5 1104.1,1056.8 1104.3,1058.3 1104.4,1060 1104.6,1061.7 1104.8,1063.6 1105,1065.6 1105.2,1067.6 1105.4,1069.7 1105.5,1071.8 1105.7,1074 1105.9,1076.1 1106.1,1078.2 1106.3,1080.2 1106.5,1082.3 1106.6,1084.2 1106.8,1086.2 1107,1088 1107.2,1089.8 1107.4,1091.5 1107.6,1093.1 1107.7,1094.7 1107.9,1096.1 1108.1,1097.5 1108.3,1098.8 1108.5,1100 1108.7,1101.1 1108.8,1102.1 1109,1103.1 1109.2,1104 1109.4,1104.8 1109.6,1105.6 1109.8,1106.3 1109.9,1106.9 1110.1,1107.5 1110.3,1108 1110.5,1108.4 1110.7,1108.9 1111,1109.6 1111.4,1110.2 1111.8,1110.6 1112.3,1111.2 1113.1,1111.6 1114.3,1112.1 1116,1112.2 1117.6,1112.2 1119.3,1112 1120.9,1111.6 1122.2,1111.2 1123.1,1110.7 1123.9,1110.3 1124.4,1109.8 1125,1109.3 1125.3,1108.8 1125.7,1108.2 1126.1,1107.6 1126.4,1106.8 1126.6,1106.3 1126.8,1105.8 1127,1105.2 1127.2,1104.6 1127.3,1103.9 1127.5,1103.2 1127.7,1102.4 1127.9,1101.5 1128.1,1100.6 1128.3,1099.5 1128.4,1098.4 1128.6,1097.2 1128.8,1095.9 1129,1094.5 1129.2,1093 1129.4,1091.4 1129.5,1089.7 1129.7,1087.8 1129.9,1085.9 1130.1,1083.9 1130.3,1081.7 1130.5,1079.5 1130.6,1077.1 1130.8,1074.6 1131,1072.1 1131.2,1069.4 1131.4,1066.7 1131.6,1063.9 1131.7,1061.1 1131.9,1058.2 1132.1,1055.3 1132.3,1052.4 1132.5,1049.4 1132.7,1046.6 1132.8,1043.7 1133,1040.9 1133.2,1038.2 1133.4,1035.6 1133.6,1033.2 1133.8,1030.9 1133.9,1028.9 1134.1,1027.1 1134.3,1025.5 1134.5,1024.2 1134.7,1023.1 1134.9,1022.4 1135.2,1022 1135.6,1022.9 1135.8,1023.8 1136,1025 1136.1,1026.5 1136.3,1028.2 1136.5,1030.2 1136.7,1032.4 1136.9,1034.7 1137.1,1037.2 1137.2,1039.9 1137.4,1042.6 1137.6,1045.4 1137.8,1048.2 1138,1051.1 1138.2,1054 1138.3,1056.9 1138.5,1059.7 1138.7,1062.5 1138.9,1065.2 1139.1,1067.9 1139.3,1070.5 1139.4,1073 1139.6,1075.5 1139.8,1077.8 1140,1080 1140.2,1082.1 1140.4,1084.1 1140.5,1086 1140.7,1087.8 1140.9,1089.5 1141.1,1091.1 1141.3,1092.5 1141.5,1093.9 1141.6,1095.1 1141.8,1096.3 1142,1097.3 1142.2,1098.3 1142.4,1099.2 1142.5,1100 1142.7,1100.7 1142.9,1101.3 1143.1,1101.9 1143.3,1102.4 1143.5,1102.8 1143.8,1103.5 1144.2,1104 1145.8,1103.6 1146.2,1103 1146.6,1102.2 1146.8,1101.7 1146.9,1101.1 1147.1,1100.5 1147.3,1099.9 1147.5,1099.2 1147.7,1098.4 1147.9,1097.6 1148,1096.8 1148.2,1095.9 1148.4,1094.9 1148.6,1093.9 1148.8,1092.9 1149,1091.8 1149.1,1090.7 1149.3,1089.5 1149.5,1088.4 1149.7,1087.2 1149.9,1086 1150.1,1084.8 1150.2,1083.6 1150.4,1082.4 1150.6,1081.3 1150.8,1080.2 1151,1079.1 1151.2,1078.1 1151.3,1077.2 1151.5,1076.4 1151.7,1075.7 1151.9,1075.1 1152.1,1074.6 1152.4,1074.1 1153.2,1074.7 1153.4,1075.2 1153.5,1075.8 1153.7,1076.5 1153.9,1077.4 1154.1,1078.3 1154.3,1079.3 1154.5,1080.4 1154.6,1081.5 1154.8,1082.7 1155,1083.9 1155.2,1085.1 1155.4,1086.3 1155.6,1087.6 1155.7,1088.8 1155.9,1090 1156.1,1091.2 1156.3,1092.3 1156.5,1093.4 1156.7,1094.5 1156.8,1095.6 1157,1096.6 1157.2,1097.5 1157.4,1098.4 1157.6,1099.3 1157.8,1100.1 1157.9,1100.9 1158.1,1101.6 1158.3,1102.2 1158.5,1102.8 1158.7,1103.4 1158.9,1104 1159,1104.4 1159.2,1104.9 1159.4,1105.3 1159.8,1106 1160.1,1106.6 1160.5,1107.1 1161.1,1107.6 1161.8,1108.1 1163.1,1108.5 1164.7,1108.6 1166.4,1108.4 1167.8,1107.9 1168.8,1107.5 1169.3,1107.1 1169.8,1106.5 1170.2,1106 1170.6,1105.4 1170.9,1104.7 1171.1,1104.3 1171.3,1103.8 1171.5,1103.3 1171.7,1102.7 1171.9,1102.1 1172,1101.5 1172.2,1100.8 1172.4,1100 1172.6,1099.1 1172.8,1098.2 1173,1097.3 1173.1,1096.2 1173.3,1095.1 1173.5,1093.9 1173.7,1092.6 1173.9,1091.3 1174.1,1089.9 1174.2,1088.4 1174.4,1086.9 1174.6,1085.3 1174.8,1083.6 1175,1081.9 1175.2,1080.1 1175.3,1078.3 1175.5,1076.5 1175.7,1074.7 1175.9,1072.8 1176.1,1071 1176.3,1069.2 1176.4,1067.4 1176.6,1065.6 1176.8,1064 1177,1062.4 1177.2,1060.9 1177.4,1059.6 1177.5,1058.4 1177.7,1057.3 1177.9,1056.4 1178.1,1055.8 1178.3,1055.3 1179.2,1056.2 1179.4,1057 1179.6,1058 1179.7,1059.1 1179.9,1060.4 1180.1,1061.8 1180.3,1063.4 1180.5,1065 1180.7,1066.7 1180.8,1068.4 1181,1070.2 1181.2,1072 1181.4,1073.8 1181.6,1075.7 1181.8,1077.5 1181.9,1079.2 1182.1,1081 1182.3,1082.7 1182.5,1084.3 1182.7,1085.9 1182.9,1087.5 1183,1088.9 1183.2,1090.3 1183.4,1091.6 1183.6,1092.9 1183.8,1094.1 1184,1095.2 1184.1,1096.2 1184.3,1097.2 1184.5,1098.1 1184.7,1098.9 1184.9,1099.7 1185.1,1100.4 1185.2,1101 1185.4,1101.6 1185.6,1102.1 1185.8,1102.6 1186,1103.1 1186.3,1103.8 1186.7,1104.5 1187.1,1104.9 1187.6,1105.5 1188.4,1106 1189.6,1106.4 1191.3,1106.7 1192.9,1106.6 1194.2,1106.1 1194.8,1105.7 1195.3,1105.1 1195.7,1104.6 1196.1,1103.9 1196.4,1103.2 1196.6,1102.7 1196.8,1102.2 1197,1101.7 1197.1,1101.1 1197.3,1100.5 1197.5,1099.9 1197.7,1099.2 1197.9,1098.4 1198.1,1097.7 1198.2,1096.8 1198.4,1095.9 1198.6,1095 1198.8,1094.1 1199,1093.1 1199.2,1092 1199.3,1090.9 1199.5,1089.9 1199.7,1088.7 1199.9,1087.6 1200.1,1086.5 1200.3,1085.3 1200.4,1084.2 1200.6,1083.1 1200.8,1082 1201,1081 1201.2,1080 1201.4,1079 1201.5,1078.2 1201.7,1077.4 1201.9,1076.7 1202.1,1076.1 1202.3,1075.6 1202.6,1075.1 1203.4,1075.6 1203.6,1076 1203.7,1076.6 1203.9,1077.3 1204.1,1078.1 1204.3,1078.9 1204.5,1079.9 1204.7,1080.9 1204.8,1081.9 1205,1083 1205.2,1084.1 1205.4,1085.3 1205.6,1086.4 1205.8,1087.6 1205.9,1088.7 1206.1,1089.9 1206.3,1091 1206.5,1092.1 1206.7,1093.1 1206.9,1094.2 1207,1095.2 1207.2,1096.1 1207.4,1097 1207.6,1097.9 1207.8,1098.7 1208,1099.5 1208.1,1100.2 1208.3,1100.9 1208.5,1101.5 1208.7,1102.1 1208.9,1102.7 1209.1,1103.2 1209.2,1103.7 1209.4,1104.1 1209.8,1104.8 1210.2,1105.5 1210.5,1106 1210.9,1106.4 1211.4,1106.9 1212.2,1107.3 1213.6,1107.7 1215.3,1107.8 1216.9,1107.6 1218.4,1107.1 1219.3,1106.7 1220.1,1106.2 1220.6,1105.8 1221.2,1105.1 1221.5,1104.6 1221.9,1104 1222.3,1103.2 1222.4,1102.8 1222.6,1102.3 1222.8,1101.8 1223,1101.2 1223.2,1100.5 1223.3,1099.8 1223.5,1099.1 1223.7,1098.2 1223.9,1097.3 1224.1,1096.2 1224.3,1095.1 1224.4,1093.9 1224.6,1092.6 1224.8,1091.2 1225,1089.6 1225.2,1087.9 1225.4,1086.2 1225.5,1084.2 1225.7,1082.2 1225.9,1080 1226.1,1077.7 1226.3,1075.3 1226.5,1072.7 1226.6,1070 1226.8,1067.2 1227,1064.2 1227.2,1061.1 1227.4,1057.9 1227.6,1054.6 1227.7,1051.3 1227.9,1047.8 1228.1,1044.3 1228.3,1040.8 1228.5,1037.2 1228.7,1033.6 1228.8,1030.1 1229,1026.6 1229.2,1023.1 1229.4,1019.8 1229.6,1016.6 1229.8,1013.6 1229.9,1010.8 1230.1,1008.2 1230.3,1005.8 1230.5,1003.8 1230.7,1002.1 1230.9,1000.7 1231,999.8 1231.2,999.2 1231.8,999.8 1232,1000.8 1232.1,1002.2 1232.3,1004 1232.5,1006 1232.7,1008.4 1232.9,1011 1233.1,1013.8 1233.2,1016.9 1233.4,1020.1 1233.6,1023.4 1233.8,1026.8 1234,1030.3 1234.2,1033.8 1234.3,1037.4 1234.5,1040.9 1234.7,1044.5 1234.9,1047.9 1235.1,1051.3 1235.3,1054.7 1235.4,1057.9 1235.6,1061.1 1235.8,1064.1 1236,1067 1236.2,1069.8 1236.4,1072.4 1236.5,1075 1236.7,1077.3 1236.9,1079.6 1237.1,1081.7 1237.3,1083.7 1237.5,1085.5 1237.6,1087.2 1237.8,1088.8 1238,1090.2 1238.2,1091.5 1238.4,1092.7 1238.6,1093.8 1238.7,1094.8 1238.9,1095.7 1239.1,1096.5 1239.3,1097.2 1239.5,1097.8 1239.7,1098.3 1239.8,1098.7 1240.2,1099.4 1240.8,1099.8 1241.7,1099.4 1242,1098.8 1242.4,1098.1 1242.6,1097.6 1242.8,1097.1 1243,1096.6 1243.1,1096.1 1243.3,1095.4 1243.5,1094.8 1243.7,1094.1 1243.9,1093.4 1244.1,1092.7 1244.2,1091.9 1244.4,1091.1 1244.6,1090.3 1244.8,1089.5 1245,1088.7 1245.2,1087.8 1245.3,1087 1245.5,1086.2 1245.7,1085.3 1245.9,1084.6 1246.1,1083.8 1246.3,1083 1246.4,1082.3 1246.6,1081.7 1246.8,1081.1 1247,1080.5 1247.2,1080.1 1247.5,1079.4 1248.8,1079.8 1249,1080.2 1249.2,1080.7 1249.4,1081.3 1249.6,1081.9 1249.7,1082.6 1249.9,1083.4 1250.1,1084.2 1250.3,1085.1 1250.5,1085.9 1250.6,1086.8 1250.8,1087.8 1251,1088.7 1251.2,1089.6 1251.4,1090.6 1251.6,1091.5 1251.7,1092.4 1251.9,1093.3 1252.1,1094.2 1252.3,1095.1 1252.5,1096 1252.7,1096.8 1252.8,1097.6 1253,1098.4 1253.2,1099.1 1253.4,1099.8 1253.6,1100.5 1253.8,1101.2 1253.9,1101.8 1254.1,1102.4 1254.3,1102.9 1254.5,1103.5 1254.7,1104 1254.9,1104.4 1255,1104.9 1255.2,1105.3 1255.6,1106 1256,1106.6 1256.3,1107.2 1256.7,1107.6 1257.2,1108.2 1257.8,1108.6 1258.5,1109.1 1259.6,1109.5 1261.3,1109.9 1262.9,1110.2 1264.6,1110.3 1266.2,1110.4 1267.9,1110.5 1269.5,1110.6 1271.2,1110.6 1272.8,1110.6 1274.5,1110.6 1276.1,1110.6 1277.8,1110.6 1279.4,1110.6 1281.1,1110.6 1282.7,1110.6 1284.4,1110.6 1286,1110.6 1287.7,1110.6 1289.3,1110.5 1291,1110.4 1292.6,1110.1 1294.3,1109.7 1295.2,1109.3 1295.9,1108.8 1296.5,1108.3 1296.8,1107.8 1297.2,1107.3 1297.6,1106.7 1297.9,1105.9 1298.1,1105.5 1298.3,1105.1 1298.5,1104.6 1298.7,1104 1298.8,1103.5 1299,1102.8 1299.2,1102.2 1299.4,1101.5 1299.6,1100.7 1299.8,1099.9 1299.9,1099 1300.1,1098.1 1300.3,1097.2 1300.5,1096.2 1300.7,1095.1 1300.9,1094 1301,1092.8 1301.2,1091.6 1301.4,1090.3 1301.6,1089.1 1301.8,1087.7 1302,1086.3 1302.1,1084.9 1302.3,1083.5 1302.5,1082.1 1302.7,1080.6 1302.9,1079.1 1303.1,1077.7 1303.2,1076.2 1303.4,1074.8 1303.6,1073.4 1303.8,1072 1304,1070.7 1304.1,1069.5 1304.3,1068.3 1304.5,1067.2 1304.7,1066.3 1304.9,1065.4 1305.1,1064.6 1305.2,1064 1305.4,1063.5 1305.8,1063 1306.5,1063.9 1306.7,1064.4 1306.9,1065.2 1307.1,1066 1307.3,1066.9 1307.4,1068 1307.6,1069.2 1307.8,1070.4 1308,1071.7 1308.2,1073 1308.4,1074.4 1308.5,1075.9 1308.7,1077.3 1308.9,1078.8 1309.1,1080.3 1309.3,1081.8 1309.5,1083.2 1309.6,1084.7 1309.8,1086.1 1310,1087.5 1310.2,1088.9 1310.4,1090.2 1310.6,1091.5 1310.7,1092.7 1310.9,1093.9 1311.1,1095.1 1311.3,1096.2 1311.5,1097.2 1311.7,1098.2 1311.8,1099.2 1312,1100.1 1312.2,1100.9 1312.4,1101.7 1312.6,1102.4 1312.8,1103.1 1312.9,1103.8 1313.1,1104.4 1313.3,1105 1313.5,1105.5 1313.7,1106 1313.9,1106.4 1314,1106.8 1314.4,1107.6 1314.8,1108.2 1315.1,1108.7 1315.5,1109.1 1316.1,1109.7 1316.6,1110.1 1317.3,1110.5 1318.4,1110.9 1320.1,1111.3 1321.7,1111.6 1323.4,1111.8 1325,1111.9 1326.7,1111.9 1328.3,1111.6 1329.3,1111.1 1329.8,1110.7 1330.4,1110.2 1330.7,1109.7 1331.1,1109.2 1331.4,1108.6 1331.8,1107.9 1332.2,1107.1 1332.4,1106.7 1332.5,1106.3 1332.7,1105.8 1332.9,1105.4 1333.1,1104.9 1333.3,1104.5 1333.5,1104 1333.6,1103.6 1333.8,1103.1 1334,1102.6 1334.2,1102.2 1334.4,1101.7 1334.6,1101.3 1334.7,1100.9 1335.1,1100.2 1335.5,1099.6 1336,1099.1 1337.3,1099.7 1337.7,1100.3 1338,1101.1 1338.2,1101.5 1338.4,1101.9 1338.6,1102.3 1338.8,1102.8 1339,1103.3 1339.1,1103.7 1339.3,1104.2 1339.5,1104.7 1339.7,1105.2 1339.9,1105.6 1340.1,1106.1 1340.2,1106.5 1340.4,1106.9 1340.6,1107.3 1341,1108.1 1341.3,1108.8 1341.7,1109.4 1342.1,1109.9 1342.4,1110.4 1343,1111 1343.5,1111.4 1344.3,1111.8 1345.6,1112.2 1347.2,1112.4 1348.9,1112.5 1350.5,1112.4 1352.2,1112.1 1353.3,1111.6 1354,1111.1 1354.5,1110.6 1355.1,1109.9 1355.5,1109.5 1355.8,1108.9 1356.2,1108.3 1356.6,1107.7 1356.9,1107 1357.3,1106.2 1357.7,1105.5 1358,1104.7 1358.4,1103.9 1358.7,1103.1 1359.1,1102.4 1359.5,1101.7 1359.8,1101.1 1360.2,1100.6 1360.8,1100.1 1362.2,1100.6 1362.6,1101.1 1363,1101.6 1363.3,1102.3 1363.5,1102.7" fill="none" stroke="#000" stroke-width="2.8" stroke-linejoin="round"/>
<path d="M109.3 1161.3h4.5v18.9h-4.5zM131.6 1161.3h4.5v18.9h-4.5zM203.2 1161.3h4.8v18.9h-4.8zM221.5 1161.3h4.8v18.9h-4.8zM292.9 1161.3h4.9v18.9h-4.9zM323 1161.3h4.6v18.9h-4.6zM329.8 1161.3h5v18.9h-5zM384.2 1161.3h6.7v18.9h-6.7zM405.9 1161.3h5.2v18.9h-5.2zM416.8 1161.3h5.1v18.9h-5.1zM427.1 1161.3h8.3v18.9h-8.3zM477.4 1161.3h5.4v18.9h-5.4zM485.7 1161.3h5.1v18.9h-5.1zM508.1 1161.3h5.9v18.9h-5.9zM556.9 1161.3h4.9v18.9h-4.9zM562.6 1161.3h6v18.9h-6zM575.1 1161.3h5.8v18.9h-5.8zM608 1161.3h8v18.9h-8zM618.1 1161.3h5.6v18.9h-5.6zM636 1161.3h6.1v18.9h-6.1zM643.2 1161.3h5.9v18.9h-5.9zM674.3 1161.3h5.7v18.9h-5.7zM683.2 1161.3h5.9v18.9h-5.9zM692 1161.3h8v18.9h-8zM711.1 1161.3h6v18.9h-6zM751.5 1161.3h10.2v18.9h-10.2zM763.7 1161.3h6v18.9h-6zM808.1 1161.3h10.1v18.9h-10.1zM826 1161.3h8v18.9h-8zM841 1161.3h6v18.9h-6zM855.4 1161.3h6.3v18.9h-6.3zM863.7 1161.3h17.8v18.9h-17.8zM883.4 1161.3h6.7v18.9h-6.7zM910.6 1161.3h9.4v18.9h-9.4zM929.1 1161.3h19.5v18.9h-19.5zM952.6 1161.3h6.3v18.9h-6.3zM965.1 1161.3h7.1v18.9h-7.1zM980 1161.3h9.7v18.9h-9.7zM989.9 1161.3h3.7v18.9h-3.7zM995.9 1161.3h17.5v18.9h-17.5zM1019.5 1161.3h9.1v18.9h-9.1zM1034.2 1161.3h7.2v18.9h-7.2zM1047.4 1161.3h8.7v18.9h-8.7zM1061.7 1161.3h6.9v18.9h-6.9zM1098.6 1161.3h10v18.9h-10zM1113.7 1161.3h7.2v18.9h-7.2zM1125.4 1161.3h15.6v18.9h-15.6zM1145.1 1161.3h12.6v18.9h-12.6zM1163.8 1161.3h7.6v18.9h-7.6zM1176.3 1161.3h8.8v18.9h-8.8zM1187.8 1161.3h28.8v18.9h-28.8zM1229.1 1161.3h25.2v18.9h-25.2zM1267.4 1161.3h8v18.9h-8zM1281.7 1161.3h31.2v18.9h-31.2zM1320.8 1161.3h3.1v18.9h-3.1zM1325.7 1161.3h3.1v18.9h-3.1zM1333.7 1161.3h3v18.9h-3zM1339.2 1161.3h13.8v18.9h-13.8zM1353.5 1161.3h3.5v18.9h-3.5zM1359.4 1161.3h3.6v18.9h-3.6zM1366 1161.3h5v18.9h-5z" fill="#000"/>
<polyline points="91.6,1256.7 91.8,1236.9 92,1232.4 92.1,1239.4 92.3,1241.6 92.5,1251.1 92.7,1245.1 92.9,1249 93.1,1239.8 93.2,1243.8 93.4,1246 93.6,1240.5 93.8,1246.9 94,1243.5 94.2,1245.7 94.3,1236.7 94.5,1232.9 94.7,1250.2 94.9,1242.9 95.1,1243.4 95.3,1258.5 95.4,1251.6 95.6,1249.9 95.8,1245.3 96,1251.9 96.2,1250 96.4,1246.3 96.5,1253.9 96.7,1249.2 96.9,1247 97.1,1238.6 97.3,1237.3 97.5,1244.8 97.6,1238.3 97.8,1232.3 98,1234.9 98.2,1231.5 98.4,1230.6 98.6,1233.5 98.7,1239.9 98.9,1239.3 99.1,1234.6 99.3,1236.8 99.5,1242.6 99.7,1236 99.8,1242.5 100,1241.5 100.2,1235.7 100.4,1230.4 100.6,1238.5 100.8,1242.7 100.9,1242.8 101.1,1249.3 101.3,1242.8 101.5,1242.4 101.7,1244.7 101.9,1240.5 102,1251.7 102.2,1239.7 102.4,1238.3 102.6,1240.1 102.8,1247.4 103,1236.6 103.1,1233.9 103.3,1239.3 103.5,1240.8 103.7,1230.8 103.9,1238.1 104.1,1232.7 104.2,1245 104.4,1233.8 104.6,1239.5 104.8,1240.3 105,1237.8 105.2,1242.2 105.3,1246.1 105.5,1238.3 105.7,1252.5 105.9,1243.9 106.1,1244.3 106.3,1238.6 106.4,1242.2 106.6,1247.2 106.8,1237.4 107,1239 107.2,1238.3 107.4,1235.8 107.5,1245.8 107.7,1238.4 107.9,1251.1 108.1,1236 108.3,1241 108.5,1243.2 108.6,1238 108.8,1232.3 109,1240.2 109.2,1243.7 109.4,1238.7 109.6,1244.8 109.7,1233.5 109.9,1244.5 110.1,1253.6 110.3,1247.5 110.5,1247.7 110.7,1240.7 110.8,1240.3 111,1248.4 111.2,1240.8 111.4,1245.9 111.6,1237.4 111.8,1244.5 111.9,1243.4 112.1,1231 112.3,1241.9 112.5,1245.5 112.7,1245.3 112.9,1244.4 113,1249.2 113.2,1242.2 113.4,1238.5 113.6,1247.2 113.8,1253.6 114,1240.7 114.1,1250.4 114.3,1241.6 114.5,1234.8 114.7,1237.9 114.9,1238 115.1,1248.6 115.2,1243.1 115.4,1239.7 115.6,1243.2 115.8,1249.8 116,1242.1 116.2,1238.8 116.3,1244.4 116.5,1238.2 116.7,1245.1 116.9,1247.7 117.1,1243.5 117.3,1240.3 117.4,1243.1 117.6,1235.1 117.8,1250.7 118,1254.8 118.2,1242.6 118.4,1231.8 118.5,1239 118.7,1235 118.9,1232.7 119.1,1241.8 119.3,1240.1 119.4,1235.9 119.6,1243.3 119.8,1236 120,1229 120.2,1234.5 120.4,1227.1 120.5,1233.6 120.7,1232.8 120.9,1240.4 121.1,1239.2 121.3,1239.3 121.5,1243.9 121.6,1245 121.8,1243.8 122,1248.3 122.2,1237 122.4,1244.6 122.6,1251.2 122.7,1242.6 122.9,1231 123.1,1247.6 123.3,1241.4 123.5,1245.9 123.7,1243.9 123.8,1245.7 124,1248.9 124.2,1243.2 124.4,1246.6 124.6,1235.7 124.8,1237.8 124.9,1241.9 125.1,1250.8 125.3,1238.2 125.5,1240.7 125.7,1246 125.9,1239.8 126,1235.7 126.2,1232.2 126.4,1246.6 126.6,1236.6 126.8,1244.3 127,1245.2 127.1,1237.3 127.3,1244.8 127.5,1231.3 127.7,1241.9 127.9,1237 128.1,1243.7 128.2,1243.5 128.4,1243.4 128.6,1245.7 128.8,1239.1 129,1234.9 129.2,1236 129.3,1247.7 129.5,1237 129.7,1240.6 129.9,1244.3 130.1,1241.6 130.3,1237.3 130.4,1231.5 130.6,1247.4 130.8,1239.5 131,1234 131.2,1239.1 131.4,1242.7 131.5,1232.2 131.7,1243.2 131.9,1242.5 132.1,1244.8 132.3,1242.5 132.5,1234.4 132.6,1227.7 132.8,1231.8 133,1226.8 133.2,1234.1 133.4,1223.5 133.6,1228.6 133.7,1231.7 133.9,1227.2 134.1,1245.2 134.3,1243.7 134.5,1243.5 134.7,1252.5 134.8,1255.3 135,1246.7 135.2,1244.3 135.4,1240.8 135.6,1240.4 135.8,1248.2 135.9,1242.8 136.1,1244.6 136.3,1245.4 136.5,1227.1 136.7,1243.2 136.9,1245.3 137,1243.5 137.2,1234.6 137.4,1238.3 137.6,1245.9 137.8,1244.5 138,1244.7 138.1,1236.4 138.3,1243.8 138.5,1249.9 138.7,1242.6 138.9,1249.4 139.1,1246.9 139.2,1246.7 139.4,1238.9 139.6,1239 139.8,1238.9 140,1248.3 140.2,1248.8 140.3,1237 140.5,1235.7 140.7,1243 140.9,1249.2 141.1,1243.8 141.3,1244.5 141.4,1242.3 141.6,1241.3 141.8,1236.2 142,1238 142.2,1237.6 142.4,1234.5 142.5,1245.1 142.7,1232.4 142.9,1237.3 143.1,1236.3 143.3,1247.6 143.5,1248 143.6,1238.5 143.8,1242.7 144,1240 144.2,1235.3 144.4,1238.2 144.6,1244.1 144.7,1245.3 144.9,1238.6 145.1,1242.3 145.3,1246.6 145.5,1249.5 145.6,1244.2 145.8,1238.2 146,1234.2 146.2,1242.7 146.4,1240.8 146.6,1239.4 146.7,1238.8 146.9,1239.5 147.1,1243.2 147.3,1245.9 147.5,1238.2 147.7,1252 147.8,1249.7 148,1241.1 148.2,1244 148.4,1250.2 148.6,1237.7 148.8,1239.2 148.9,1239.3 149.1,1237.2 149.3,1246.1 149.5,1241.3 149.7,1242.9 149.9,1242.8 150,1241.4 150.2,1250.2 150.4,1241.6 150.6,1238 150.8,1235.3 151,1238.9 151.1,1243.4 151.3,1243.3 151.5,1243.9 151.7,1240.3 151.9,1244.7 152.1,1244.8 152.2,1236.3 152.4,1244.5 152.6,1244.6 152.8,1241 153,1248.1 153.2,1242.7 153.3,1238.6 153.5,1247.3 153.7,1251.6 153.9,1236.5 154.1,1242.1 154.3,1247 154.4,1245 154.6,1246.4 154.8,1247.1 155,1230.4 155.2,1242.5 155.4,1229.8 155.5,1233.7 155.7,1233.7 155.9,1242.5 156.1,1232.3 156.3,1242.1 156.5,1234.5 156.6,1252.7 156.8,1239.7 157,1242.4 157.2,1236.4 157.4,1239.5 157.6,1249.2 157.7,1244 157.9,1237.2 158.1,1241 158.3,1243.2 158.5,1253.5 158.7,1244.3 158.8,1246.9 159,1249.7 159.2,1256.1 159.4,1246.7 159.6,1237.4 159.8,1237.4 159.9,1251.3 160.1,1244.6 160.3,1232.5 160.5,1239.8 160.7,1240.1 160.9,1240.7 161,1246.6 161.2,1247.8 161.4,1252.3 161.6,1236.7 161.8,1249 162,1247.5 162.1,1242.5 162.3,1251.3 162.5,1239 162.7,1237.6 162.9,1252.2 163.1,1244.8 163.2,1246.7 163.4,1249.3 163.6,1235.8 163.8,1249.6 164,1243 164.2,1245.3 164.3,1246.7 164.5,1245.8 164.7,1240.5 164.9,1242.4 165.1,1243.3 165.3,1248 165.4,1231 165.6,1249.9 165.8,1237.7 166,1253.8 166.2,1245 166.4,1251.6 166.5,1241.3 166.7,1251.5 166.9,1244.7 167.1,1244.7 167.3,1244.9 167.5,1229.6 167.6,1234.9 167.8,1234.3 168,1243.3 168.2,1241.8 168.4,1247.4 168.6,1245.1 168.7,1249.7 168.9,1239.4 169.1,1244.8 169.3,1240.2 169.5,1236.6 169.7,1233.3 169.8,1242 170,1237.7 170.2,1239.7 170.4,1237.5 170.6,1236.7 170.8,1257.2 170.9,1242.7 171.1,1235.6 171.3,1241.4 171.5,1242.5 171.7,1234.7 171.9,1247.9 172,1237.6 172.2,1245.1 172.4,1240 172.6,1238.1 172.8,1259.2 172.9,1239.1 173.1,1234.3 173.3,1239.6 173.5,1237.1 173.7,1248 173.9,1244.6 174,1236.1 174.2,1251.1 174.4,1240.1 174.6,1233.9 174.8,1246 175,1243.2 175.1,1233.9 175.3,1233.5 175.5,1239.1 175.7,1236.9 175.9,1243.9 176.1,1243 176.2,1235.8 176.4,1236.5 176.6,1240.9 176.8,1249.1 177,1238.9 177.2,1245.4 177.3,1238.8 177.5,1244.5 177.7,1239.2 177.9,1244.4 178.1,1237.5 178.3,1238.3 178.4,1252.4 178.6,1247.1 178.8,1235.6 179,1248.4 179.2,1241.3 179.4,1249.3 179.5,1235.1 179.7,1241.6 179.9,1239.9 180.1,1238.5 180.3,1236 180.5,1252.4 180.6,1242.1 180.8,1240.5 181,1233.5 181.2,1248.1 181.4,1248.1 181.6,1241.3 181.7,1235 181.9,1245.2 182.1,1242.2 182.3,1234.5 182.5,1253.2 182.7,1246.1 182.8,1237 183,1238 183.2,1246.4 183.4,1248.5 183.6,1245.4 183.8,1245.1 183.9,1240.3 184.1,1253.3 184.3,1240.9 184.5,1243.6 184.7,1244.4 184.9,1241 185,1246.6 185.2,1250.6 185.4,1230.7 185.6,1241.4 185.8,1249.1 186,1249.9 186.1,1240 186.3,1246.1 186.5,1243.5 186.7,1243.3 186.9,1239.2 187.1,1247.8 187.2,1248.9 187.4,1251 187.6,1244 187.8,1243.3 188,1248.5 188.2,1260.1 188.3,1241.4 188.5,1242.1 188.7,1251.9 188.9,1236.6 189.1,1229.3 189.3,1247.8 189.4,1250 189.6,1249.6 189.8,1248 190,1248.5 190.2,1239 190.4,1248.2 190.5,1237.4 190.7,1234.4 190.9,1241.5 191.1,1235.9 191.3,1236.9 191.5,1239.2 191.6,1240.4 191.8,1243.4 192,1237.2 192.2,1239.5 192.4,1241.8 192.6,1243.4 192.7,1245.1 192.9,1246.6 193.1,1243.8 193.3,1245 193.5,1246.1 193.7,1242.5 193.8,1243.6 194,1237.8 194.2,1243.8 194.4,1247.8 194.6,1239.1 194.8,1249.5 194.9,1239.9 195.1,1248.3 195.3,1251.4 195.5,1243.8 195.7,1240.5 195.9,1245 196,1240.5 196.2,1239.3 196.4,1252 196.6,1238.7 196.8,1255.9 197,1249.4 197.1,1260.8 197.3,1252.5 197.5,1261.5 197.7,1247.8 197.9,1236.3 198.1,1261.2 198.2,1243.6 198.4,1241.9 198.6,1242.5 198.8,1240.9 199,1244.1 199.2,1238.6 199.3,1254.1 199.5,1239 199.7,1246.1 199.9,1249.8 200.1,1241.7 200.2,1247.4 200.4,1239.6 200.6,1235.5 200.8,1231.7 201,1231.6 201.2,1216.1 201.3,1189.8 201.5,1192.7 201.7,1191.8 201.9,1223.7 202.1,1261.3 202.3,1278.3 202.4,1310.9 202.6,1308.3 202.8,1291.3 203,1286.7 203.2,1270.3 203.4,1261.2 203.5,1253.1 203.7,1249.2 203.9,1246.3 204.1,1253.6 204.3,1250.8 204.5,1255.3 204.6,1260.9 204.8,1263.8 205,1261.7 205.2,1260.2 205.4,1256.3 205.6,1261.7 205.7,1261.7 205.9,1251.6 206.1,1250.8 206.3,1246.9 206.5,1249.5 206.7,1247.9 206.8,1259.6 207,1255.8 207.2,1240.5 207.4,1250.8 207.6,1244.5 207.8,1235.8 207.9,1245.6 208.1,1240.1 208.3,1244.4 208.5,1244.4 208.7,1237.2 208.9,1247.5 209,1239.4 209.2,1233.6 209.4,1229.2 209.6,1250.3 209.8,1235.1 210,1240.3 210.1,1242.2 210.3,1246 210.5,1234.3 210.7,1228.2 210.9,1241.1 211.1,1232.1 211.2,1237.8 211.4,1249.4 211.6,1234.6 211.8,1240.5 212,1230.1 212.2,1250.6 212.3,1231.5 212.5,1234.2 212.7,1229.5 212.9,1224.7 213.1,1231.3 213.3,1222.2 213.4,1216.5 213.6,1216.5 213.8,1216.2 214,1217.1 214.2,1216.5 214.4,1211 214.5,1212.5 214.7,1226.4 214.9,1214.7 215.1,1224.2 215.3,1215.9 215.5,1221.6 215.6,1218.1 215.8,1212.8 216,1222.2 216.2,1231.7 216.4,1235.6 216.6,1236.4 216.7,1229.5 216.9,1232.2 217.1,1229.2 217.3,1238 217.5,1241.9 217.7,1239.6 217.8,1235.3 218,1241.9 218.2,1240.8 218.4,1243.3 218.6,1240.1 218.8,1242.4 218.9,1237.7 219.1,1237.3 219.3,1228.6 219.5,1243.8 219.7,1244.8 219.9,1241.2 220,1258.6 220.2,1263.3 220.4,1273.8 220.6,1272.7 220.8,1279.8 221,1287.9 221.1,1291.4 221.3,1289.8 221.5,1269.3 221.7,1265.1 221.9,1247.1 222.1,1249.9 222.2,1251.9 222.4,1248.6 222.6,1256.1 222.8,1246.4 223,1240.2 223.2,1238.3 223.3,1243.6 223.5,1251 223.7,1235.8 223.9,1237.9 224.1,1243.8 224.3,1242.1 224.4,1249.1 224.6,1242.4 224.8,1243.9 225,1241 225.2,1239.6 225.4,1243.2 225.5,1226.5 225.7,1223.5 225.9,1223.5 226.1,1231.3 226.3,1235.6 226.4,1239.9 226.6,1240.8 226.8,1241.9 227,1232.8 227.2,1238.7 227.4,1244.5 227.5,1235.6 227.7,1239.6 227.9,1239.9 228.1,1244.8 228.3,1237.5 228.5,1233.3 228.6,1240.2 228.8,1240.7 229,1246.6 229.2,1239 229.4,1241 229.6,1239.4 229.7,1239.6 229.9,1253.2 230.1,1228.7 230.3,1245.3 230.5,1238 230.7,1242.6 230.8,1234 231,1243.2 231.2,1237.9 231.4,1245.1 231.6,1249.4 231.8,1235.5 231.9,1233.7 232.1,1248.3 232.3,1252.5 232.5,1242.2 232.7,1231.2 232.9,1233.9 233,1247.2 233.2,1251.5 233.4,1241.5 233.6,1235 233.8,1248.3 234,1235 234.1,1238.6 234.3,1238.8 234.5,1238.8 234.7,1245.1 234.9,1237 235.1,1243 235.2,1248 235.4,1248 235.6,1249.3 235.8,1240.2 236,1233.1 236.2,1243.2 236.3,1243.4 236.5,1243.7 236.7,1240.1 236.9,1244.6 237.1,1236.8 237.3,1246.5 237.4,1251.6 237.6,1243 237.8,1242.5 238,1245.7 238.2,1245.4 238.4,1245.7 238.5,1243.9 238.7,1241.5 238.9,1251.5 239.1,1236.8 239.3,1248.9 239.5,1238.3 239.6,1245.2 239.8,1237.5 240,1234.2 240.2,1237.2 240.4,1238.3 240.6,1251.3 240.7,1241.9 240.9,1242.1 241.1,1241.5 241.3,1246.5 241.5,1245.7 241.7,1248 241.8,1240.5 242,1237 242.2,1242.2 242.4,1246.8 242.6,1246.1 242.8,1237 242.9,1239.5 243.1,1243.9 243.3,1239.1 243.5,1234.8 243.7,1243.2 243.9,1240.3 244,1243.7 244.2,1246.6 244.4,1239.6 244.6,1236.3 244.8,1238.4 245,1246.7 245.1,1243.4 245.3,1247.1 245.5,1241.4 245.7,1247.1 245.9,1240.5 246.1,1239.5 246.2,1242.6 246.4,1241.8 246.6,1241 246.8,1242.4 247,1247.1 247.2,1238.4 247.3,1232.7 247.5,1244 247.7,1251.6 247.9,1247.3 248.1,1235.5 248.3,1244.3 248.4,1247.9 248.6,1246.8 248.8,1251.8 249,1246.7 249.2,1227.6 249.4,1245.3 249.5,1238.2 249.7,1237.4 249.9,1233.2 250.1,1235.5 250.3,1240.3 250.5,1248 250.6,1248.3 250.8,1245.7 251,1248.8 251.2,1240.1 251.4,1237.8 251.6,1252.3 251.7,1244.7 251.9,1240.4 252.1,1246.2 252.3,1238.3 252.5,1250.6 252.7,1235.3 252.8,1239.4 253,1241.3 253.2,1241.2 253.4,1235.6 253.6,1246.8 253.7,1245.5 253.9,1242.6 254.1,1245.3 254.3,1239.8 254.5,1247.4 254.7,1239.3 254.8,1236.6 255,1241.4 255.2,1241.3 255.4,1244.2 255.6,1247.1 255.8,1255.3 255.9,1242.1 256.1,1243.4 256.3,1256.1 256.5,1261.5 256.7,1261.5 256.9,1254.5 257,1251 257.2,1248 257.4,1256.1 257.6,1242.9 257.8,1244.2 258,1236.1 258.1,1247.4 258.3,1241.9 258.5,1241.2 258.7,1241.1 258.9,1241.5 259.1,1255.4 259.2,1243.4 259.4,1242.6 259.6,1234.1 259.8,1229.7 260,1225.7 260.2,1234.9 260.3,1239.9 260.5,1241.2 260.7,1233.3 260.9,1245.4 261.1,1239.6 261.3,1248.5 261.4,1241.2 261.6,1242.8 261.8,1238.8 262,1239 262.2,1242.8 262.4,1245.6 262.5,1246.4 262.7,1238.9 262.9,1236.1 263.1,1244.8 263.3,1249.3 263.5,1240.1 263.6,1240.4 263.8,1240.3 264,1244.4 264.2,1247.6 264.4,1237.7 264.6,1244.9 264.7,1250.2 264.9,1245.8 265.1,1238.6 265.3,1235.1 265.5,1242.9 265.7,1249.8 265.8,1246.9 266,1250.3 266.2,1240.8 266.4,1243.1 266.6,1238.5 266.8,1245.6 266.9,1241.7 267.1,1238.7 267.3,1240.8 267.5,1245.7 267.7,1247.4 267.9,1246.9 268,1254.9 268.2,1246.7 268.4,1238 268.6,1248.5 268.8,1238.4 269,1237.1 269.1,1246.6 269.3,1239.8 269.5,1242.9 269.7,1240.3 269.9,1241.9 270.1,1233.9 270.2,1247.6 270.4,1249.3 270.6,1241.7 270.8,1249.4 271,1247.4 271.2,1249.2 271.3,1250.7 271.5,1236.6 271.7,1247.2 271.9,1242.2 272.1,1246.9 272.3,1241.6 272.4,1253.7 272.6,1251.6 272.8,1242.9 273,1245.3 273.2,1244.2 273.4,1244.4 273.5,1247.9 273.7,1238 273.9,1235.6 274.1,1248.9 274.3,1244.8 274.5,1240.7 274.6,1239.5 274.8,1235.3 275,1241.6 275.2,1234.1 275.4,1243.7 275.6,1244.5 275.7,1239.5 275.9,1248.2 276.1,1246.9 276.3,1244 276.5,1239 276.7,1239.5 276.8,1238 277,1232.7 277.2,1242.9 277.4,1246.6 277.6,1235.5 277.8,1246.8 277.9,1245.3 278.1,1248.8 278.3,1253.5 278.5,1256.2 278.7,1248.3 278.9,1254.1 279,1246.4 279.2,1233.6 279.4,1255.9 279.6,1243.8 279.8,1240.9 280,1249.6 280.1,1245 280.3,1239.7 280.5,1243.7 280.7,1244.3 280.9,1241.5 281,1230.2 281.2,1243.4 281.4,1237.7 281.6,1237.1 281.8,1242.8 282,1253.8 282.1,1236.3 282.3,1244.2 282.5,1234.8 282.7,1234.1 282.9,1240.6 283.1,1247.3 283.2,1244 283.4,1244 283.6,1248.9 283.8,1245.1 284,1239.5 284.2,1237.5 284.3,1240.9 284.5,1244.4 284.7,1240.8 284.9,1241.3 285.1,1239.6 285.3,1238.3 285.4,1236.2 285.6,1238.4 285.8,1251.8 286,1248.2 286.2,1249.8 286.4,1243.1 286.5,1241.9 286.7,1246.8 286.9,1240.6 287.1,1248.5 287.3,1243.2 287.5,1246.7 287.6,1238.5 287.8,1252.1 288,1243.6 288.2,1246 288.4,1238.6 288.6,1238.9 288.7,1246.2 288.9,1234 289.1,1249.1 289.3,1239.4 289.5,1247.6 289.7,1239.1 289.8,1242.3 290,1243 290.2,1247.3 290.4,1238.1 290.6,1245.4 290.8,1243.9 290.9,1245.7 291.1,1236.7 291.3,1240.4 291.5,1235.9 291.7,1237.2 291.9,1243.8 292,1242.9 292.2,1230.3 292.4,1232.8 292.6,1231.8 292.8,1225.7 293,1228.3 293.1,1226.9 293.3,1237.5 293.5,1231.8 293.7,1246.3 293.9,1230.8 294.1,1245.4 294.2,1245.1 294.4,1238.1 294.6,1232.2 294.8,1241.5 295,1233.7 295.2,1245.7 295.3,1241 295.5,1240.8 295.7,1241.9 295.9,1245.6 296.1,1242 296.3,1245.3 296.4,1244.4 296.6,1239.7 296.8,1248.2 297,1250.8 297.2,1248.2 297.4,1243.1 297.5,1246 297.7,1236.9 297.9,1238.2 298.1,1237.9 298.3,1239.4 298.5,1246.8 298.6,1238.1 298.8,1239.1 299,1234.6 299.2,1238.8 299.4,1233.7 299.6,1247 299.7,1241.6 299.9,1247.2 300.1,1249.5 300.3,1244.8 300.5,1244.1 300.7,1242.6 300.8,1238.1 301,1227.4 301.2,1238 301.4,1231.9 301.6,1228.7 301.8,1230.2 301.9,1234.7 302.1,1240 302.3,1232.9 302.5,1233.1 302.7,1246.8 302.9,1245.2 303,1246.5 303.2,1241 303.4,1235.2 303.6,1249.2 303.8,1248.8 304,1239.3 304.1,1244.5 304.3,1248 304.5,1255.3 304.7,1248.6 304.9,1245.3 305.1,1241.3 305.2,1240.1 305.4,1242.2 305.6,1239 305.8,1245.8 306,1243.2 306.2,1241.3 306.3,1237.3 306.5,1243.1 306.7,1240.8 306.9,1244.6 307.1,1237.7 307.2,1246 307.4,1242 307.6,1252.5 307.8,1238.6 308,1252.8 308.2,1257.6 308.3,1242.5 308.5,1253.2 308.7,1248.6 308.9,1236.5 309.1,1239.9 309.3,1248.1 309.4,1244.4 309.6,1247.4 309.8,1245.1 310,1250.5 310.2,1241.7 310.4,1237.4 310.5,1239.5 310.7,1242.8 310.9,1238.2 311.1,1242.7 311.3,1241.8 311.5,1241.3 311.6,1242.7 311.8,1240.9 312,1248 312.2,1243.4 312.4,1246.9 312.6,1235.4 312.7,1243 312.9,1240.4 313.1,1232.8 313.3,1253.4 313.5,1236.1 313.7,1247.1 313.8,1246.8 314,1248.8 314.2,1240.6 314.4,1229.6 314.6,1246.1 314.8,1242.3 314.9,1246.3 315.1,1242.1 315.3,1249.6 315.5,1245.6 315.7,1241.1 315.9,1255.4 316,1239.9 316.2,1231.6 316.4,1243.6 316.6,1245.4 316.8,1245.9 317,1240.2 317.1,1242.8 317.3,1238.1 317.5,1239.9 317.7,1245.1 317.9,1238.6 318.1,1244.6 318.2,1239.4 318.4,1241.5 318.6,1239.8 318.8,1247.8 319,1242.9 319.2,1238.6 319.3,1243.7 319.5,1249.2 319.7,1244.6 319.9,1238.1 320.1,1240.1 320.3,1239.3 320.4,1252.6 320.6,1247.8 320.8,1253 321,1254.8 321.2,1251.1 321.4,1260.8 321.5,1256.7 321.7,1260.8 321.9,1249.9 322.1,1260.3 322.3,1258.2 322.5,1255.2 322.6,1258.4 322.8,1248.6 323,1251.4 323.2,1237.3 323.4,1247.3 323.6,1243.1 323.7,1254.3 323.9,1245.3 324.1,1246.7 324.3,1228 324.5,1240.6 324.7,1236.6 324.8,1249 325,1245 325.2,1238.6 325.4,1236.8 325.6,1234.4 325.8,1231.5 325.9,1233.9 326.1,1235.7 326.3,1233.9 326.5,1233 326.7,1247.1 326.9,1238.6 327,1238.7 327.2,1254.5 327.4,1243 327.6,1241.6 327.8,1235.2 328,1236.4 328.1,1248.5 328.3,1240.1 328.5,1247.2 328.7,1233.9 328.9,1240.6 329.1,1232.5 329.2,1223.3 329.4,1206.6 329.6,1214 329.8,1200.9 330,1196.1 330.2,1200.1 330.3,1193 330.5,1212.1 330.7,1216.6 330.9,1223.1 331.1,1230.2 331.3,1229.2 331.4,1235.8 331.6,1241.7 331.8,1238.5 332,1249.1 332.2,1246.9 332.4,1250.1 332.5,1235.2 332.7,1251.1 332.9,1240.5 333.1,1239.1 333.3,1241.6 333.5,1250.4 333.6,1245.5 333.8,1245.2 334,1248.5 334.2,1248.7 334.4,1249.1 334.5,1248 334.7,1244.7 334.9,1245.6 335.1,1235.7 335.3,1241.9 335.5,1231.1 335.6,1241.9 335.8,1242.9 336,1239.3 336.2,1241.4 336.4,1250.4 336.6,1243.9 336.7,1246.7 336.9,1257 337.1,1248.1 337.3,1250.4 337.5,1247.2 337.7,1247 337.8,1249.2 338,1241.7 338.2,1247.7 338.4,1242.2 338.6,1243.6 338.8,1249.8 338.9,1244.4 339.1,1234.7 339.3,1246 339.5,1253 339.7,1240.2 339.9,1247.5 340,1241.6 340.2,1234.9 340.4,1241 340.6,1230.8 340.8,1248.8 341,1240.6 341.1,1244.5 341.3,1242.5 341.5,1234.9 341.7,1240.5 341.9,1248.6 342.1,1246.7 342.2,1240.6 342.4,1238.8 342.6,1242.1 342.8,1235.8 343,1243.8 343.2,1234 343.3,1238.6 343.5,1246.7 343.7,1242 343.9,1238.2 344.1,1241.9 344.3,1239.4 344.4,1241.6 344.6,1245.6 344.8,1239.9 345,1232.1 345.2,1243.4 345.4,1237.6 345.5,1248 345.7,1247.5 345.9,1242.4 346.1,1244.8 346.3,1234.9 346.5,1233.5 346.6,1240.7 346.8,1244.1 347,1248.7 347.2,1237.7 347.4,1235.8 347.6,1235.6 347.7,1235.5 347.9,1239.6 348.1,1230.8 348.3,1241.4 348.5,1230.2 348.7,1247.9 348.8,1235 349,1235.8 349.2,1228.1 349.4,1239.2 349.6,1229.2 349.8,1244.5 349.9,1238.1 350.1,1243.8 350.3,1245.1 350.5,1247.3 350.7,1249.4 350.9,1248.3 351,1246.3 351.2,1239.2 351.4,1235.7 351.6,1244.5 351.8,1241.6 352,1236.4 352.1,1237.9 352.3,1242.4 352.5,1243.1 352.7,1236.2 352.9,1233.4 353.1,1231.1 353.2,1239.4 353.4,1241 353.6,1236.8 353.8,1250 354,1255.2 354.2,1242.6 354.3,1251.3 354.5,1247.7 354.7,1250.2 354.9,1247.2 355.1,1244.9 355.3,1249.2 355.4,1247 355.6,1240.5 355.8,1246.3 356,1241.9 356.2,1246 356.4,1250.4 356.5,1250.9 356.7,1241.4 356.9,1250.4 357.1,1239.4 357.3,1244.8 357.5,1245.3 357.6,1232.1 357.8,1232.7 358,1243.1 358.2,1241.3 358.4,1229.8 358.6,1246 358.7,1238.7 358.9,1236.5 359.1,1243.9 359.3,1239.3 359.5,1242.7 359.7,1243.9 359.8,1255 360,1247.3 360.2,1243.9 360.4,1243 360.6,1244.3 360.8,1245 360.9,1239.3 361.1,1245.2 361.3,1239 361.5,1239.6 361.7,1242.1 361.8,1247.7 362,1246.8 362.2,1227.4 362.4,1248.7 362.6,1242.8 362.8,1242.9 362.9,1250 363.1,1238.8 363.3,1237.2 363.5,1232.4 363.7,1236.5 363.9,1246.7 364,1238.3 364.2,1237.2 364.4,1244.5 364.6,1237.3 364.8,1238.6 365,1238.3 365.1,1244.5 365.3,1238.9 365.5,1239.8 365.7,1241.5 365.9,1233 366.1,1241.1 366.2,1233.1 366.4,1236.2 366.6,1239.9 366.8,1242.9 367,1241 367.2,1247.7 367.3,1242.9 367.5,1245.2 367.7,1239.9 367.9,1239 368.1,1250.9 368.3,1233.9 368.4,1248.3 368.6,1238.4 368.8,1245.6 369,1233.5 369.2,1240.6 369.4,1237.7 369.5,1223.5 369.7,1228.8 369.9,1233.6 370.1,1237.5 370.3,1235.8 370.5,1233.5 370.6,1238.1 370.8,1233.7 371,1237.2 371.2,1243.4 371.4,1242.3 371.6,1245.9 371.7,1243.2 371.9,1245.3 372.1,1241.8 372.3,1245.4 372.5,1254.9 372.7,1237.3 372.8,1243 373,1240 373.2,1244.9 373.4,1244.7 373.6,1238.2 373.8,1243.2 373.9,1243.5 374.1,1241.8 374.3,1244 374.5,1249.5 374.7,1245.6 374.9,1241.1 375,1243.7 375.2,1252.7 375.4,1239.3 375.6,1248.2 375.8,1239.1 376,1234.3 376.1,1239 376.3,1244.2 376.5,1241.3 376.7,1238.9 376.9,1238.5 377.1,1237.6 377.2,1237.1 377.4,1239.4 377.6,1229.7 377.8,1244.7 378,1243.9 378.2,1243 378.3,1247.1 378.5,1239.4 378.7,1242.4 378.9,1229.2 379.1,1243.4 379.3,1240.4 379.4,1245.5 379.6,1246.8 379.8,1241.5 380,1236 380.2,1244.1 380.4,1246.7 380.5,1247.1 380.7,1239.7 380.9,1237.7 381.1,1242.1 381.3,1239.2 381.5,1234.5 381.6,1248.4 381.8,1249.8 382,1251.9 382.2,1243.1 382.4,1246.3 382.6,1239.2 382.7,1236.8 382.9,1245.7 383.1,1233 383.3,1240.6 383.5,1254.4 383.7,1248.7 383.8,1246.3 384,1246.7 384.2,1244.2 384.4,1243.8 384.6,1259.9 384.8,1252.2 384.9,1253.2 385.1,1260.5 385.3,1254.4 385.5,1257.7 385.7,1241.2 385.9,1232.2 386,1226.3 386.2,1229.8 386.4,1222 386.6,1216.2 386.8,1216.2 387,1221.1 387.1,1219.6 387.3,1232.5 387.5,1232.1 387.7,1239.2 387.9,1240.3 388,1243 388.2,1239.7 388.4,1247.2 388.6,1244.3 388.8,1238.6 389,1244.7 389.1,1240.8 389.3,1244.5 389.5,1246.8 389.7,1240 389.9,1242.4 390.1,1242.9 390.2,1242.7 390.4,1252.9 390.6,1244.3 390.8,1236.7 391,1243.1 391.2,1239.8 391.3,1255 391.5,1239.3 391.7,1236.9 391.9,1246.3 392.1,1239.9 392.3,1240.6 392.4,1241.4 392.6,1239.1 392.8,1240.5 393,1231.4 393.2,1242.1 393.4,1245.9 393.5,1252.1 393.7,1242.9 393.9,1246.8 394.1,1238.9 394.3,1250.1 394.5,1254.1 394.6,1244.4 394.8,1240.9 395,1242.9 395.2,1250.6 395.4,1236.3 395.6,1249.2 395.7,1237.6 395.9,1238.5 396.1,1244.1 396.3,1246 396.5,1247.6 396.7,1250 396.8,1236.9 397,1243.1 397.2,1246.7 397.4,1244.1 397.6,1248.5 397.8,1242.9 397.9,1241.2 398.1,1231.3 398.3,1233.1 398.5,1246.7 398.7,1236.9 398.9,1244.3 399,1246 399.2,1242.1 399.4,1247.9 399.6,1239.4 399.8,1245.7 400,1242.1 400.1,1235.1 400.3,1232.5 400.5,1241.7 400.7,1251 400.9,1248.6 401.1,1245.1 401.2,1246.8 401.4,1247.3 401.6,1241.4 401.8,1249.4 402,1243.1 402.2,1238.2 402.3,1259.6 402.5,1242.3 402.7,1237.3 402.9,1240.8 403.1,1231.6 403.3,1232.6 403.4,1249.9 403.6,1245.1 403.8,1239.4 404,1241.7 404.2,1255.6 404.4,1258 404.5,1276 404.7,1260.6 404.9,1272.3 405.1,1251.8 405.3,1240.6 405.5,1237.8 405.6,1223.1 405.8,1220.8 406,1217.9 406.2,1208.4 406.4,1217.5 406.6,1229.8 406.7,1222.2 406.9,1229.9 407.1,1234.9 407.3,1246 407.5,1246.7 407.7,1250 407.8,1237.4 408,1246.6 408.2,1243.7 408.4,1235.7 408.6,1246.2 408.8,1244.6 408.9,1242.3 409.1,1241.3 409.3,1239.6 409.5,1251.7 409.7,1250.5 409.9,1245.5 410,1243.9 410.2,1241.7 410.4,1247.6 410.6,1243.5 410.8,1233.5 411,1243.6 411.1,1246 411.3,1240.8 411.5,1241.8 411.7,1241.6 411.9,1247.6 412.1,1241.9 412.2,1243.4 412.4,1243.7 412.6,1250.8 412.8,1234.6 413,1254.5 413.2,1236.2 413.3,1241.3 413.5,1238.2 413.7,1243.1 413.9,1245.3 414.1,1254.5 414.3,1248.6 414.4,1238.9 414.6,1243.6 414.8,1243.1 415,1239 415.2,1245.1 415.3,1243 415.5,1238.8 415.7,1236.9 415.9,1243.2 416.1,1237.2 416.3,1240.1 416.4,1232.7 416.6,1214.8 416.8,1202.8 417,1207 417.2,1199.5 417.4,1200.7 417.5,1208.9 417.7,1228.2 417.9,1227.3 418.1,1244.7 418.3,1243.6 418.5,1232.2 418.6,1244.3 418.8,1250 419,1233.1 419.2,1235.8 419.4,1241.9 419.6,1239.5 419.7,1250.7 419.9,1235.1 420.1,1242.7 420.3,1218.2 420.5,1216.1 420.7,1225.6 420.8,1234.8 421,1239.5 421.2,1250 421.4,1251.8 421.6,1252.8 421.8,1242 421.9,1247.1 422.1,1241.1 422.3,1250 422.5,1230.5 422.7,1239.2 422.9,1241.4 423,1240 423.2,1250.9 423.4,1235.3 423.6,1238.3 423.8,1236.3 424,1242.4 424.1,1237.8 424.3,1247.5 424.5,1247.3 424.7,1231.7 424.9,1232 425.1,1248.3 425.2,1248 425.4,1240.8 425.6,1252.6 425.8,1248.8 426,1258.5 426.2,1241.8 426.3,1236 426.5,1230.8 426.7,1219.2 426.9,1218.6 427.1,1213.7 427.3,1206.1 427.4,1220.3 427.6,1219.3 427.8,1238.6 428,1243.9 428.2,1244.8 428.4,1252.2 428.5,1246 428.7,1250 428.9,1247.4 429.1,1247.2 429.3,1247.1 429.5,1244.1 429.6,1252 429.8,1236.9 430,1234.4 430.2,1238.5 430.4,1250.8 430.6,1242.3 430.7,1240.8 430.9,1242 431.1,1250.2 431.3,1248.9 431.5,1256.8 431.7,1247.9 431.8,1253 432,1242.3 432.2,1248.3 432.4,1260 432.6,1241.7 432.8,1241.9 432.9,1247.6 433.1,1237.4 433.3,1240.2 433.5,1239.7 433.7,1243.9 433.9,1235.4 434,1250 434.2,1243.3 434.4,1243.5 434.6,1241.7 434.8,1242.4 435,1230.6 435.1,1249.5 435.3,1238.4 435.5,1247.4 435.7,1242.4 435.9,1242.3 436.1,1245.9 436.2,1251.9 436.4,1242.5 436.6,1239.9 436.8,1245.2 437,1229.7 437.2,1238.8 437.3,1238.9 437.5,1243 437.7,1238.5 437.9,1250.9 438.1,1245.6 438.3,1247.4 438.4,1246 438.6,1243.5 438.8,1240.9 439,1250.2 439.2,1247 439.4,1250.4 439.5,1241.7 439.7,1244 439.9,1244.4 440.1,1240.9 440.3,1242.4 440.5,1234.2 440.6,1236.5 440.8,1237.9 441,1236.9 441.2,1245.1 441.4,1244.8 441.6,1245 441.7,1241.5 441.9,1248 442.1,1247.5 442.3,1245.6 442.5,1240.8 442.6,1250.6 442.8,1236.4 443,1234.1 443.2,1235.8 443.4,1248.8 443.6,1243.1 443.7,1239.5 443.9,1230.4 444.1,1241.4 444.3,1237.4 444.5,1231.7 444.7,1248.2 444.8,1242.7 445,1249.8 445.2,1242.5 445.4,1245.5 445.6,1239 445.8,1245.8 445.9,1240.2 446.1,1245.1 446.3,1242.7 446.5,1235.6 446.7,1241.1 446.9,1241.5 447,1237.3 447.2,1240.9 447.4,1246.8 447.6,1248.9 447.8,1243.3 448,1231.6 448.1,1247.3 448.3,1252.8 448.5,1241.8 448.7,1238.4 448.9,1244.3 449.1,1243.6 449.2,1247.1 449.4,1239.2 449.6,1251.6 449.8,1247.3 450,1237.3 450.2,1248 450.3,1241.9 450.5,1246.2 450.7,1244.5 450.9,1242.9 451.1,1244.3 451.3,1240.4 451.4,1238.8 451.6,1241.4 451.8,1241.1 452,1244.7 452.2,1243.6 452.4,1234.2 452.5,1247 452.7,1242.4 452.9,1247.1 453.1,1246.2 453.3,1244 453.5,1245.6 453.6,1237.5 453.8,1256 454,1261 454.2,1257.2 454.4,1254.2 454.6,1261.5 454.7,1256.5 454.9,1261.5 455.1,1250 455.3,1243.3 455.5,1242 455.7,1239.5 455.8,1246.4 456,1242.4 456.2,1244.1 456.4,1240.9 456.6,1249.5 456.8,1242.8 456.9,1243.8 457.1,1250.9 457.3,1244.2 457.5,1240 457.7,1241.4 457.9,1248.6 458,1244.7 458.2,1238.7 458.4,1248.8 458.6,1235.1 458.8,1231.5 459,1237.6 459.1,1233.1 459.3,1242.1 459.5,1243.6 459.7,1242.3 459.9,1240.9 460.1,1238.7 460.2,1248.8 460.4,1233.6 460.6,1247.3 460.8,1244.6 461,1242.6 461.2,1245.1 461.3,1234.6 461.5,1247.8 461.7,1245.3 461.9,1248.5 462.1,1232 462.3,1244 462.4,1242 462.6,1230.7 462.8,1240.9 463,1242.9 463.2,1238.5 463.4,1244.6 463.5,1245.6 463.7,1240.3 463.9,1240.8 464.1,1246.6 464.3,1237.5 464.5,1245.2 464.6,1249.5 464.8,1242.5 465,1244.6 465.2,1242.8 465.4,1246.9 465.6,1234.8 465.7,1233.8 465.9,1238.2 466.1,1239.4 466.3,1247.7 466.5,1249.7 466.7,1245.6 466.8,1249.1 467,1240.5 467.2,1239.8 467.4,1234.6 467.6,1248.6 467.8,1245.4 467.9,1242.4 468.1,1235.6 468.3,1237.3 468.5,1245.1 468.7,1242.5 468.8,1248.3 469,1243.5 469.2,1238.8 469.4,1236.2 469.6,1242.2 469.8,1250.6 469.9,1252.3 470.1,1238.2 470.3,1244.8 470.5,1238.5 470.7,1243.7 470.9,1227.7 471,1239.2 471.2,1233.2 471.4,1250.1 471.6,1240.5 471.8,1245 472,1242.7 472.1,1235.6 472.3,1245.8 472.5,1248.2 472.7,1243.7 472.9,1245.4 473.1,1248.3 473.2,1245.5 473.4,1241.9 473.6,1234.1 473.8,1238.2 474,1238.6 474.2,1246.6 474.3,1249.7 474.5,1243 474.7,1248.3 474.9,1231.1 475.1,1245.7 475.3,1239.2 475.4,1251.7 475.6,1255.4 475.8,1257.3 476,1258.8 476.2,1264.1 476.4,1271.2 476.5,1262.7 476.7,1276.4 476.9,1268.4 477.1,1263.7 477.3,1273.3 477.5,1272.4 477.6,1267.3 477.8,1259.1 478,1262.3 478.2,1254.7 478.4,1265.8 478.6,1252.6 478.7,1251.1 478.9,1244.7 479.1,1249.1 479.3,1253.6 479.5,1240.5 479.7,1241.8 479.8,1233.3 480,1242.6 480.2,1251.3 480.4,1236.7 480.6,1240.8 480.8,1238.9 480.9,1241.4 481.1,1239 481.3,1241.5 481.5,1237.9 481.7,1245.1 481.9,1249.4 482,1248.7 482.2,1234.9 482.4,1251.1 482.6,1247.6 482.8,1249.4 483,1238.6 483.1,1239.7 483.3,1246.2 483.5,1251.8 483.7,1237.8 483.9,1244.2 484.1,1245 484.2,1240.9 484.4,1244.5 484.6,1240.1 484.8,1249.4 485,1234.4 485.2,1244.3 485.3,1240.1 485.5,1242.4 485.7,1238 485.9,1227.2 486.1,1250.6 486.3,1246.5 486.4,1244.9 486.6,1242.6 486.8,1244.4 487,1241.2 487.2,1243.4 487.4,1250 487.5,1239.6 487.7,1239 487.9,1254.2 488.1,1243.1 488.3,1247.8 488.5,1246.8 488.6,1251.8 488.8,1252.4 489,1249.7 489.2,1244 489.4,1244.1 489.6,1249.3 489.7,1258.4 489.9,1239.2 490.1,1247.2 490.3,1249.5 490.5,1243.4 490.7,1246.9 490.8,1244.5 491,1248.7 491.2,1252.8 491.4,1242.3 491.6,1245.1 491.8,1245.5 491.9,1243.7 492.1,1242.8 492.3,1231.7 492.5,1243.2 492.7,1237.2 492.9,1240.5 493,1245 493.2,1245.6 493.4,1240.4 493.6,1240.3 493.8,1241.2 494,1237.2 494.1,1250.7 494.3,1250.1 494.5,1237.6 494.7,1244.4 494.9,1237.6 495.1,1225.6 495.2,1233.4 495.4,1232.8 495.6,1232.6 495.8,1226.8 496,1233.7 496.1,1227.3 496.3,1241.6 496.5,1241.1 496.7,1236.8 496.9,1236.1 497.1,1249.5 497.2,1234.8 497.4,1246.4 497.6,1243.1 497.8,1249 498,1234.2 498.2,1243.1 498.3,1249 498.5,1241.7 498.7,1235.3 498.9,1232.5 499.1,1239 499.3,1247.8 499.4,1250.5 499.6,1242.9 499.8,1247.2 500,1247.8 500.2,1245.7 500.4,1238.3 500.5,1246.4 500.7,1237.4 500.9,1243.8 501.1,1248.4 501.3,1250.9 501.5,1245.7 501.6,1253.2 501.8,1256.3 502,1253.2 502.2,1247 502.4,1247.8 502.6,1245.3 502.7,1244.4 502.9,1246.9 503.1,1248.4 503.3,1242.8 503.5,1246.6 503.7,1244 503.8,1243.6 504,1237.7 504.2,1244.9 504.4,1242.7 504.6,1245.2 504.8,1249.2 504.9,1248.3 505.1,1248.4 505.3,1242.1 505.5,1236.1 505.7,1242.2 505.9,1244.4 506,1246.6 506.2,1254.9 506.4,1254.6 506.6,1266.8 506.8,1262.5 507,1261.2 507.1,1270.2 507.3,1256.5 507.5,1247.8 507.7,1244.7 507.9,1240.1 508.1,1233.2 508.2,1214.9 508.4,1205.9 508.6,1190 508.8,1175.4 509,1177.6 509.2,1180.1 509.3,1197.4 509.5,1199.4 509.7,1213.7 509.9,1225.5 510.1,1240.3 510.3,1242 510.4,1239.2 510.6,1243.1 510.8,1241.1 511,1256.6 511.2,1234 511.4,1232.1 511.5,1232.7 511.7,1235.2 511.9,1239 512.1,1242.6 512.3,1233.7 512.5,1230.6 512.6,1228.2 512.8,1227 513,1223.5 513.2,1232.6 513.4,1232.1 513.6,1236.5 513.7,1241 513.9,1244 514.1,1246.4 514.3,1237.9 514.5,1244.7 514.7,1234.4 514.8,1231.6 515,1240.4 515.2,1244.4 515.4,1244.7 515.6,1244.1 515.8,1246.6 515.9,1233.2 516.1,1239.4 516.3,1241.1 516.5,1238.1 516.7,1243.9 516.9,1245.2 517,1243.8 517.2,1242.8 517.4,1254 517.6,1242.6 517.8,1242.4 518,1248.5 518.1,1251.5 518.3,1237.7 518.5,1237.2 518.7,1249.2 518.9,1248 519.1,1246.6 519.2,1241 519.4,1245.7 519.6,1235.2 519.8,1236.5 520,1250.2 520.2,1235.9 520.3,1241.5 520.5,1245.5 520.7,1243.9 520.9,1236.8 521.1,1239.3 521.3,1245.3 521.4,1240.1 521.6,1250.7 521.8,1241.6 522,1251.5 522.2,1242.2 522.4,1248.5 522.5,1244.5 522.7,1242.6 522.9,1235.4 523.1,1245.2 523.3,1242.7 523.4,1244.1 523.6,1239.5 523.8,1237.5 524,1237.9 524.2,1243.2 524.4,1249.3 524.5,1243.9 524.7,1241 524.9,1243.4 525.1,1241.7 525.3,1238.2 525.5,1243.6 525.6,1241.2 525.8,1241.7 526,1252.1 526.2,1246.9 526.4,1249.5 526.6,1242.3 526.7,1243.5 526.9,1238.1 527.1,1233.2 527.3,1234.1 527.5,1240.3 527.7,1244.6 527.8,1253.5 528,1241.8 528.2,1234.4 528.4,1240.2 528.6,1244.7 528.8,1236.3 528.9,1239.7 529.1,1244.7 529.3,1242.8 529.5,1244.4 529.7,1242.5 529.9,1242.1 530,1249.2 530.2,1246.8 530.4,1243.6 530.6,1245 530.8,1242 531,1242 531.1,1244.4 531.3,1243.4 531.5,1255.3 531.7,1243.7 531.9,1244.5 532.1,1253.3 532.2,1237.8 532.4,1243.1 532.6,1248.9 532.8,1243.6 533,1242.3 533.2,1238.3 533.3,1242.6 533.5,1239 533.7,1247.9 533.9,1245.4 534.1,1241.1 534.3,1248.4 534.4,1237.4 534.6,1238.2 534.8,1246.3 535,1242.6 535.2,1232.5 535.4,1231.7 535.5,1231.5 535.7,1226.6 535.9,1228 536.1,1226.4 536.3,1232.3 536.5,1232.3 536.6,1237.3 536.8,1236.1 537,1243.1 537.2,1244.3 537.4,1246.1 537.6,1244.3 537.7,1240.6 537.9,1242.2 538.1,1249.1 538.3,1241.2 538.5,1243 538.7,1250.7 538.8,1246 539,1246.3 539.2,1238.5 539.4,1238.4 539.6,1244.3 539.8,1253.5 539.9,1233.6 540.1,1234.1 540.3,1245.4 540.5,1243.8 540.7,1237.6 540.9,1247 541,1243.4 541.2,1240.1 541.4,1242 541.6,1239.7 541.8,1244 542,1238.9 542.1,1236.8 542.3,1238.8 542.5,1244.3 542.7,1247.9 542.9,1238.6 543.1,1236.3 543.2,1242.5 543.4,1246.2 543.6,1238.3 543.8,1247.8 544,1236.7 544.2,1248.2 544.3,1244.9 544.5,1233.3 544.7,1244.9 544.9,1241.8 545.1,1243.2 545.3,1241.5 545.4,1246.3 545.6,1244 545.8,1249.1 546,1252.6 546.2,1250.5 546.4,1245.5 546.5,1240.7 546.7,1234.8 546.9,1227.9 547.1,1223.5 547.3,1235.8 547.5,1231.1 547.6,1236.8 547.8,1231.6 548,1243.3 548.2,1249.4 548.4,1242 548.6,1247 548.7,1241.7 548.9,1243.3 549.1,1240.1 549.3,1229.5 549.5,1245.6 549.7,1247.2 549.8,1248.5 550,1255.1 550.2,1252.1 550.4,1249.9 550.6,1243.4 550.7,1260.4 550.9,1238.1 551.1,1242 551.3,1240.5 551.5,1246.9 551.7,1241.2 551.8,1240.1 552,1226.6 552.2,1230.7 552.4,1236.4 552.6,1228.2 552.8,1225.9 552.9,1234.7 553.1,1232.2 553.3,1236.6 553.5,1239.9 553.7,1234.2 553.9,1239.6 554,1247.2 554.2,1239.7 554.4,1240.5 554.6,1239.4 554.8,1244.3 555,1245.2 555.1,1238.2 555.3,1243.2 555.5,1251 555.7,1234.3 555.9,1247.6 556.1,1247.1 556.2,1234.9 556.4,1234.3 556.6,1239.7 556.8,1249.5 557,1239.3 557.2,1242.7 557.3,1243.1 557.5,1242.1 557.7,1252.6 557.9,1243.9 558.1,1236.3 558.3,1242.8 558.4,1243.8 558.6,1234.2 558.8,1239.8 559,1235 559.2,1231.5 559.4,1235.1 559.5,1245.2 559.7,1241.8 559.9,1235.8 560.1,1249.3 560.3,1244.7 560.5,1230.6 560.6,1239.4 560.8,1232.2 561,1240.2 561.2,1256.3 561.4,1251.1 561.6,1239.8 561.7,1230.1 561.9,1222.3 562.1,1215.8 562.3,1210.2 562.5,1204.9 562.7,1190.8 562.8,1193.1 563,1187.6 563.2,1184.4 563.4,1206.8 563.6,1221.2 563.8,1228.4 563.9,1238.2 564.1,1232.7 564.3,1238.8 564.5,1241.7 564.7,1244.1 564.9,1245.9 565,1249 565.2,1243.7 565.4,1243.5 565.6,1251.6 565.8,1259.2 566,1264.4 566.1,1266.7 566.3,1277.3 566.5,1275.2 566.7,1269.7 566.9,1261.9 567.1,1254.7 567.2,1245.2 567.4,1242.8 567.6,1245 567.8,1233.5 568,1243.9 568.2,1232.5 568.3,1251.9 568.5,1245.8 568.7,1239.4 568.9,1242.4 569.1,1240 569.3,1250.4 569.4,1248.3 569.6,1243.1 569.8,1240 570,1245.6 570.2,1244 570.4,1242.4 570.5,1240 570.7,1234.8 570.9,1235.7 571.1,1238.9 571.3,1234.3 571.5,1237.8 571.6,1251.7 571.8,1242.8 572,1246.2 572.2,1239.6 572.4,1249.4 572.6,1243.3 572.7,1246.7 572.9,1248.3 573.1,1244.9 573.3,1252.5 573.5,1237.9 573.7,1241 573.8,1245.2 574,1242.2 574.2,1245 574.4,1253.7 574.6,1241.1 574.8,1244 574.9,1240 575.1,1238.5 575.3,1232.9 575.5,1245.1 575.7,1249.8 575.9,1242.8 576,1248.8 576.2,1235.9 576.4,1241.7 576.6,1241.9 576.8,1246.4 576.9,1242.9 577.1,1245.4 577.3,1250.2 577.5,1237 577.7,1242 577.9,1244.6 578,1239.2 578.2,1244.5 578.4,1233.6 578.6,1237.4 578.8,1241.2 579,1233 579.1,1252.3 579.3,1249.9 579.5,1245.8 579.7,1242.8 579.9,1242.2 580.1,1235.9 580.2,1237 580.4,1228.7 580.6,1244.8 580.8,1240 581,1231.8 581.2,1238 581.3,1244.2 581.5,1232.7 581.7,1237.7 581.9,1228.6 582.1,1236.6 582.3,1238.4 582.4,1227.2 582.6,1236.1 582.8,1243 583,1239.5 583.2,1249.5 583.4,1246.5 583.5,1246.9 583.7,1233.7 583.9,1234.2 584.1,1239.6 584.3,1239.5 584.5,1233.9 584.6,1236.5 584.8,1233.7 585,1237.2 585.2,1242.7 585.4,1249.1 585.6,1245.5 585.7,1247.6 585.9,1243.9 586.1,1246.6 586.3,1249.4 586.5,1240.3 586.7,1249.8 586.8,1246.6 587,1247.4 587.2,1243.2 587.4,1236.1 587.6,1236 587.8,1237.4 587.9,1223.9 588.1,1232.1 588.3,1232.8 588.5,1232.7 588.7,1229.9 588.9,1229.6 589,1234.9 589.2,1234.4 589.4,1245.6 589.6,1240.1 589.8,1241.1 590,1246.6 590.1,1241.9 590.3,1242.2 590.5,1248.3 590.7,1247.3 590.9,1241.3 591.1,1235.9 591.2,1240.3 591.4,1247 591.6,1236.7 591.8,1244.2 592,1246.4 592.2,1239.3 592.3,1252.2 592.5,1244.1 592.7,1236.8 592.9,1238.7 593.1,1245.1 593.3,1249.3 593.4,1243.9 593.6,1243.4 593.8,1241.4 594,1250.6 594.2,1249 594.4,1234.3 594.5,1242.6 594.7,1245.4 594.9,1241.5 595.1,1244.7 595.3,1245.8 595.5,1237.9 595.6,1249 595.8,1243.2 596,1247.9 596.2,1243.9 596.4,1242 596.6,1249.3 596.7,1244.4 596.9,1250.5 597.1,1245.6 597.3,1253.5 597.5,1238.5 597.7,1242.9 597.8,1238.6 598,1237 598.2,1243.5 598.4,1235 598.6,1242 598.8,1249 598.9,1245.2 599.1,1239.8 599.3,1241.2 599.5,1246.1 599.7,1250.4 599.9,1241.2 600,1243.1 600.2,1244.9 600.4,1241.5 600.6,1244.3 600.8,1243.8 601,1249.3 601.1,1240.1 601.3,1244 601.5,1245.8 601.7,1240.9 601.9,1243.3 602.1,1245.1 602.2,1237.4 602.4,1241.8 602.6,1238.1 602.8,1240.7 603,1239.4 603.2,1240 603.3,1246 603.5,1248.7 603.7,1246.6 603.9,1238.4 604.1,1244.1 604.2,1236.1 604.4,1245.3 604.6,1246.1 604.8,1240.7 605,1242.6 605.2,1246.5 605.3,1246.1 605.5,1239.7 605.7,1239 605.9,1234.6 606.1,1242 606.3,1242.1 606.4,1247.2 606.6,1253.5 606.8,1248.6 607,1258.3 607.2,1268.3 607.4,1270.4 607.5,1285.4 607.7,1290.1 607.9,1297.7 608.1,1299.2 608.3,1295.7 608.5,1284.6 608.6,1279.6 608.8,1272.9 609,1271.3 609.2,1252.4 609.4,1257.4 609.6,1253.4 609.7,1256.6 609.9,1258.1 610.1,1251.3 610.3,1248.6 610.5,1242.4 610.7,1245.4 610.8,1243.5 611,1237.3 611.2,1245.5 611.4,1240 611.6,1231.7 611.8,1241.4 611.9,1244.8 612.1,1244.5 612.3,1242.9 612.5,1242 612.7,1245.6 612.9,1245.1 613,1233.1 613.2,1238.5 613.4,1242.5 613.6,1241.5 613.8,1245.8 614,1246.6 614.1,1242.3 614.3,1239.8 614.5,1250.4 614.7,1237.7 614.9,1241.5 615.1,1252.3 615.2,1245.7 615.4,1246.5 615.6,1244.4 615.8,1251.4 616,1260.9 616.2,1248.9 616.3,1246.7 616.5,1252.7 616.7,1255.5 616.9,1246.8 617.1,1239.9 617.3,1244.9 617.4,1238.5 617.6,1247.2 617.8,1241.4 618,1245 618.2,1242.8 618.4,1246.5 618.5,1232.3 618.7,1244.1 618.9,1243.4 619.1,1243.9 619.3,1235.2 619.5,1249.2 619.6,1239.2 619.8,1244.7 620,1239.8 620.2,1241.4 620.4,1240.2 620.6,1234.3 620.7,1239.2 620.9,1249 621.1,1236.7 621.3,1243.1 621.5,1233.6 621.7,1247.9 621.8,1235.5 622,1236.6 622.2,1241.7 622.4,1245.2 622.6,1235.9 622.8,1242 622.9,1245.1 623.1,1242.5 623.3,1238.6 623.5,1244.7 623.7,1248.1 623.9,1254.1 624,1248.9 624.2,1233.9 624.4,1249 624.6,1247.7 624.8,1244 625,1246 625.1,1248.1 625.3,1241.2 625.5,1236.3 625.7,1241.2 625.9,1245.9 626.1,1239.7 626.2,1239.3 626.4,1236.2 626.6,1245.2 626.8,1237.1 627,1241.5 627.2,1238.9 627.3,1248.9 627.5,1246.7 627.7,1252.4 627.9,1236.4 628.1,1234.2 628.3,1239.7 628.4,1230.9 628.6,1236.2 628.8,1242.9 629,1240.6 629.2,1245.4 629.4,1238.2 629.5,1240.4 629.7,1243.3 629.9,1249.4 630.1,1252 630.3,1253.7 630.5,1249.4 630.6,1246 630.8,1246.3 631,1247.2 631.2,1238.2 631.4,1240.1 631.5,1234.8 631.7,1244.4 631.9,1245.8 632.1,1241.9 632.3,1253.2 632.5,1250.6 632.6,1251.4 632.8,1256.5 633,1253.1 633.2,1244.2 633.4,1244.3 633.6,1238.7 633.7,1247.2 633.9,1242 634.1,1247.1 634.3,1239 634.5,1236.6 634.7,1248.2 634.8,1246.8 635,1235.5 635.2,1250 635.4,1242.8 635.6,1255.8 635.8,1252.5 635.9,1248.7 636.1,1251.8 636.3,1250.4 636.5,1234.6 636.7,1251 636.9,1244.3 637,1247.8 637.2,1228.3 637.4,1246.1 637.6,1242.7 637.8,1236.9 638,1252.5 638.1,1246.7 638.3,1237.5 638.5,1235.9 638.7,1240.7 638.9,1244.5 639.1,1235.9 639.2,1228.9 639.4,1238.4 639.6,1227 639.8,1237.4 640,1234.9 640.2,1231.6 640.3,1229.9 640.5,1230.9 640.7,1235.2 640.9,1243.8 641.1,1238 641.3,1235.5 641.4,1248.6 641.6,1249.4 641.8,1246.9 642,1256.8 642.2,1256.9 642.4,1270.4 642.5,1263.3 642.7,1258.3 642.9,1253.6 643.1,1247.6 643.3,1239.1 643.5,1229.4 643.6,1227.1 643.8,1224.2 644,1231.2 644.2,1245.5 644.4,1239 644.6,1236.6 644.7,1238.8 644.9,1238.3 645.1,1239.1 645.3,1232.9 645.5,1240.6 645.7,1228 645.8,1228.4 646,1235.2 646.2,1230.2 646.4,1239.2 646.6,1234.4 646.8,1241.8 646.9,1251.3 647.1,1237.9 647.3,1245.2 647.5,1237 647.7,1242.3 647.9,1239.1 648,1243.1 648.2,1236.6 648.4,1233.2 648.6,1248.1 648.8,1247 649,1254.3 649.1,1250.1 649.3,1250.5 649.5,1244.4 649.7,1240.5 649.9,1246.9 650.1,1239 650.2,1250.7 650.4,1249.9 650.6,1246.9 650.8,1251.9 651,1246.8 651.2,1246 651.3,1261.5 651.5,1250.1 651.7,1255.9 651.9,1243.3 652.1,1247.4 652.3,1247.7 652.4,1232.8 652.6,1231.9 652.8,1236.5 653,1238.8 653.2,1241.4 653.4,1237.7 653.5,1238.3 653.7,1237.2 653.9,1237.2 654.1,1244.3 654.3,1239.8 654.5,1236.9 654.6,1236.4 654.8,1238.3 655,1233 655.2,1241.1 655.4,1241 655.6,1231 655.7,1233.9 655.9,1233.9 656.1,1241 656.3,1234.2 656.5,1237.4 656.7,1235 656.8,1236.4 657,1238.9 657.2,1258.3 657.4,1246.5 657.6,1241.7 657.7,1240.5 657.9,1230.4 658.1,1232.6 658.3,1242.3 658.5,1239.4 658.7,1245.7 658.8,1241 659,1244.5 659.2,1243.1 659.4,1245.2 659.6,1244.4 659.8,1248.1 659.9,1239.8 660.1,1241.3 660.3,1238.9 660.5,1241.2 660.7,1242.4 660.9,1239.2 661,1227.7 661.2,1232.9 661.4,1232.6 661.6,1234.1 661.8,1232.9 662,1234.7 662.1,1241.7 662.3,1240.4 662.5,1245.1 662.7,1230.2 662.9,1234 663.1,1233.7 663.2,1246.1 663.4,1245.4 663.6,1239.5 663.8,1239.7 664,1243.9 664.2,1249.2 664.3,1250.4 664.5,1239.2 664.7,1247 664.9,1240.4 665.1,1248.6 665.3,1252.7 665.4,1241.2 665.6,1240.5 665.8,1223.5 666,1240.4 666.2,1229.7 666.4,1236.4 666.5,1245 666.7,1233.4 666.9,1254.7 667.1,1239.7 667.3,1246.5 667.5,1239.7 667.6,1246.1 667.8,1239.5 668,1242.2 668.2,1230.5 668.4,1247.5 668.6,1246.1 668.7,1240.7 668.9,1240.9 669.1,1236.9 669.3,1238.7 669.5,1243.7 669.7,1244.1 669.8,1246.3 670,1248.5 670.2,1247.6 670.4,1244.6 670.6,1244.3 670.8,1241.5 670.9,1248.9 671.1,1238.7 671.3,1238.4 671.5,1244.3 671.7,1235.1 671.9,1240.9 672,1234.7 672.2,1238.1 672.4,1260.6 672.6,1234 672.8,1247.6 673,1239.4 673.1,1236.6 673.3,1234.8 673.5,1245.7 673.7,1241.5 673.9,1244.4 674.1,1253.7 674.2,1239 674.4,1236 674.6,1248.6 674.8,1256.6 675,1252 675.2,1260 675.3,1260.3 675.5,1257.8 675.7,1253.7 675.9,1255.8 676.1,1258.5 676.3,1252.7 676.4,1247.5 676.6,1247 676.8,1242.5 677,1246.7 677.2,1241 677.4,1250.5 677.5,1243.9 677.7,1242.6 677.9,1232.3 678.1,1230.5 678.3,1240.9 678.5,1239.7 678.6,1252.2 678.8,1238.6 679,1237.6 679.2,1246.7 679.4,1232.1 679.6,1243 679.7,1235.9 679.9,1228.1 680.1,1233.2 680.3,1241.6 680.5,1242.3 680.7,1240.8 680.8,1237.2 681,1241.8 681.2,1242.3 681.4,1240.3 681.6,1247.2 681.8,1242.3 681.9,1230.5 682.1,1229.7 682.3,1225.9 682.5,1229.2 682.7,1231.8 682.9,1233.2 683,1225.3 683.2,1221.3 683.4,1219.9 683.6,1218.6 683.8,1238 684,1229.7 684.1,1231.2 684.3,1245.4 684.5,1234.5 684.7,1238.7 684.9,1242.5 685,1231.6 685.2,1234.7 685.4,1258.8 685.6,1244.1 685.8,1232.1 686,1239.4 686.1,1241.9 686.3,1245.6 686.5,1242 686.7,1236.4 686.9,1242.5 687.1,1248.2 687.2,1239.4 687.4,1236.5 687.6,1236.8 687.8,1230.6 688,1248.9 688.2,1244.2 688.3,1242 688.5,1243.4 688.7,1249 688.9,1240.6 689.1,1235.6 689.3,1248.1 689.4,1230.6 689.6,1240.7 689.8,1248.6 690,1250.4 690.2,1242.1 690.4,1242.1 690.5,1241.9 690.7,1241.1 690.9,1241.9 691.1,1249.7 691.3,1244.9 691.5,1251 691.6,1244.4 691.8,1238.1 692,1235.9 692.2,1244.4 692.4,1225.4 692.6,1229.3 692.7,1215.8 692.9,1223.5 693.1,1222.4 693.3,1228.9 693.5,1233.9 693.7,1242.3 693.8,1253 694,1261.7 694.2,1254.8 694.4,1244.1 694.6,1249.8 694.8,1234.4 694.9,1248.1 695.1,1261.6 695.3,1239.6 695.5,1252.2 695.7,1257.3 695.9,1260 696,1254.8 696.2,1244.1 696.4,1253.1 696.6,1250.8 696.8,1242.5 697,1246.4 697.1,1243.1 697.3,1247.9 697.5,1258.5 697.7,1247 697.9,1257.7 698.1,1251.5 698.2,1249.9 698.4,1243.1 698.6,1248.4 698.8,1242 699,1241.6 699.2,1234.3 699.3,1242.7 699.5,1240.6 699.7,1247.1 699.9,1243.2 700.1,1241.9 700.3,1239.3 700.4,1238.6 700.6,1237.7 700.8,1244.8 701,1233.3 701.2,1234 701.4,1244 701.5,1251 701.7,1246.1 701.9,1244.4 702.1,1257.3 702.3,1247.4 702.5,1242.1 702.6,1245.3 702.8,1249 703,1241.1 703.2,1246.6 703.4,1242.2 703.6,1246.3 703.7,1248.9 703.9,1236 704.1,1257 704.3,1255.2 704.5,1254.3 704.7,1252.7 704.8,1250.2 705,1258.2 705.2,1250.9 705.4,1255.2 705.6,1242.1 705.8,1261.5 705.9,1252.7 706.1,1253.5 706.3,1247 706.5,1247.9 706.7,1253.2 706.9,1232.1 707,1254 707.2,1241.7 707.4,1239.7 707.6,1242.2 707.8,1251.8 708,1243.1 708.1,1247.6 708.3,1235.3 708.5,1238.8 708.7,1246.5 708.9,1235.9 709.1,1228.1 709.2,1238.2 709.4,1239.9 709.6,1240.7 709.8,1245.6 710,1244.4 710.2,1238 710.3,1242.4 710.5,1238 710.7,1238.4 710.9,1232 711.1,1241.1 711.3,1236.8 711.4,1245.8 711.6,1232.9 711.8,1246.9 712,1235.7 712.2,1244.2 712.3,1236.2 712.5,1237.2 712.7,1245.7 712.9,1233.4 713.1,1246.8 713.3,1253 713.4,1245.7 713.6,1234 713.8,1245.4 714,1241.6 714.2,1243 714.4,1242 714.5,1247.7 714.7,1251 714.9,1243.9 715.1,1249.6 715.3,1239.7 715.5,1254.6 715.6,1237.2 715.8,1236.5 716,1240.3 716.2,1246.5 716.4,1247.4 716.6,1234.1 716.7,1243.5 716.9,1244.4 717.1,1255.7 717.3,1240.8 717.5,1235 717.7,1233.6 717.8,1241.3 718,1245 718.2,1243.5 718.4,1241.9 718.6,1238.2 718.8,1242.2 718.9,1242.6 719.1,1255.6 719.3,1241.9 719.5,1236.7 719.7,1240 719.9,1242.1 720,1233.3 720.2,1245.3 720.4,1247.5 720.6,1248.4 720.8,1243.5 721,1246.5 721.1,1248.3 721.3,1250.1 721.5,1246.2 721.7,1236.6 721.9,1246.1 722.1,1250.4 722.2,1241 722.4,1228.8 722.6,1246.8 722.8,1247.9 723,1242.6 723.2,1240.3 723.3,1248.5 723.5,1246.8 723.7,1242.5 723.9,1241.7 724.1,1243.6 724.3,1248 724.4,1243.3 724.6,1236.4 724.8,1239.4 725,1243.4 725.2,1244.6 725.4,1239.6 725.5,1246.5 725.7,1239.3 725.9,1247.7 726.1,1251.4 726.3,1246.9 726.5,1243 726.6,1245.5 726.8,1231.3 727,1250.1 727.2,1237.8 727.4,1237.1 727.6,1240 727.7,1237 727.9,1241.9 728.1,1240.4 728.3,1241.5 728.5,1247.9 728.7,1243.9 728.8,1238.7 729,1240.8 729.2,1237.4 729.4,1247 729.6,1235.9 729.8,1239.5 729.9,1250.3 730.1,1240.1 730.3,1242.5 730.5,1244.3 730.7,1233.2 730.9,1242.7 731,1246.8 731.2,1242.7 731.4,1244.9 731.6,1237 731.8,1242 732,1240.1 732.1,1241.8 732.3,1234.8 732.5,1238.5 732.7,1244.2 732.9,1238.4 733.1,1244.5 733.2,1249.7 733.4,1243.1 733.6,1242.3 733.8,1245 734,1237.1 734.2,1239.2 734.3,1236.2 734.5,1237.4 734.7,1250.6 734.9,1237.9 735.1,1241.8 735.3,1240.1 735.4,1239.6 735.6,1240.4 735.8,1240.7 736,1243.6 736.2,1240.3 736.4,1244 736.5,1241.1 736.7,1240.4 736.9,1240.9 737.1,1250.6 737.3,1235.8 737.5,1241.2 737.6,1245.5 737.8,1244.7 738,1236.9 738.2,1236.4 738.4,1241.6 738.5,1247.9 738.7,1245.7 738.9,1241.6 739.1,1240.2 739.3,1240.8 739.5,1241.1 739.6,1234.9 739.8,1234.9 740,1241.6 740.2,1251.6 740.4,1243.1 740.6,1233.1 740.7,1236.2 740.9,1241.1 741.1,1236.2 741.3,1242.2 741.5,1237.1 741.7,1236.6 741.8,1234 742,1243.1 742.2,1242.9 742.4,1243.4 742.6,1245.1 742.8,1241.3 742.9,1248.1 743.1,1236.8 743.3,1245.8 743.5,1239.9 743.7,1239.6 743.9,1238.6 744,1244.9 744.2,1243.1 744.4,1247.6 744.6,1237.5 744.8,1243.2 745,1237.4 745.1,1244.8 745.3,1249.3 745.5,1237.4 745.7,1247.8 745.9,1237.2 746.1,1249.8 746.2,1243.1 746.4,1245.1 746.6,1236.8 746.8,1250.5 747,1241.8 747.2,1240 747.3,1247.3 747.5,1238.5 747.7,1241 747.9,1240.5 748.1,1238.4 748.3,1247.9 748.4,1252.9 748.6,1242.2 748.8,1257.5 749,1257.7 749.2,1252.9 749.4,1260.6 749.5,1261.5 749.7,1250.1 749.9,1247.9 750.1,1243.2 750.3,1256.1 750.5,1248.2 750.6,1238.5 750.8,1241.8 751,1245.9 751.2,1241.2 751.4,1248.4 751.6,1242.9 751.7,1248.9 751.9,1244.3 752.1,1243.7 752.3,1239.6 752.5,1244.4 752.7,1246.8 752.8,1234.8 753,1245.6 753.2,1249.2 753.4,1247.4 753.6,1244.9 753.8,1241.8 753.9,1237.4 754.1,1238.3 754.3,1241 754.5,1237.6 754.7,1243.4 754.9,1240.4 755,1241.4 755.2,1249.1 755.4,1243.9 755.6,1246.4 755.8,1234.4 756,1245.8 756.1,1238.9 756.3,1251 756.5,1235.5 756.7,1239.1 756.9,1247.1 757.1,1253.3 757.2,1238.1 757.4,1247.4 757.6,1247.9 757.8,1261.5 758,1261.5 758.2,1261.5 758.3,1261.5 758.5,1253.4 758.7,1247.8 758.9,1252.9 759.1,1245 759.3,1247.9 759.4,1241.9 759.6,1249.8 759.8,1242.5 760,1243.2 760.2,1248 760.4,1244.1 760.5,1249.3 760.7,1238.4 760.9,1235.7 761.1,1243.7 761.3,1240.7 761.5,1234.2 761.6,1232.1 761.8,1235.2 762,1239.4 762.2,1239.4 762.4,1236.2 762.6,1238.4 762.7,1245.6 762.9,1248.4 763.1,1250.4 763.3,1239 763.5,1237.5 763.7,1245.7 763.8,1241.3 764,1246.5 764.2,1247.2 764.4,1240.6 764.6,1241.1 764.8,1232.1 764.9,1228.7 765.1,1235.3 765.3,1238.4 765.5,1219.6 765.7,1224.2 765.8,1233.4 766,1243 766.2,1232.2 766.4,1242.3 766.6,1249 766.8,1231.2 766.9,1236.7 767.1,1245.3 767.3,1246.6 767.5,1236.3 767.7,1243.8 767.9,1243.4 768,1231.2 768.2,1237.8 768.4,1236.3 768.6,1238.4 768.8,1241.7 769,1235.9 769.1,1232.8 769.3,1235.5 769.5,1235.8 769.7,1241.3 769.9,1246.9 770.1,1239.7 770.2,1238.8 770.4,1239.8 770.6,1246 770.8,1241.6 771,1242.5 771.2,1239 771.3,1242.1 771.5,1240.4 771.7,1248 771.9,1242.6 772.1,1248.3 772.3,1244.5 772.4,1243.6 772.6,1233.7 772.8,1241.3 773,1237.6 773.2,1247.2 773.4,1244 773.5,1244.2 773.7,1241.5 773.9,1249 774.1,1232.3 774.3,1245.8 774.5,1240.3 774.6,1237.2 774.8,1238.6 775,1242 775.2,1243.7 775.4,1247.7 775.6,1238.9 775.7,1238.5 775.9,1247.3 776.1,1247.8 776.3,1237.1 776.5,1238.7 776.7,1243.7 776.8,1240.7 777,1245.5 777.2,1238.2 777.4,1238.6 777.6,1257.1 777.8,1247.3 777.9,1249.7 778.1,1244 778.3,1239.3 778.5,1249 778.7,1251.3 778.9,1243.2 779,1243.2 779.2,1247.3 779.4,1243.6 779.6,1236.1 779.8,1246.7 780,1246.9 780.1,1233.5 780.3,1251.3 780.5,1236.6 780.7,1236 780.9,1237.6 781.1,1242 781.2,1241.7 781.4,1233.5 781.6,1242.7 781.8,1244.3 782,1238.5 782.2,1230.3 782.3,1236.3 782.5,1238.4 782.7,1245.8 782.9,1239.6 783.1,1244.3 783.3,1256.4 783.4,1242 783.6,1241 783.8,1246.6 784,1248.4 784.2,1248.9 784.4,1242.3 784.5,1235.6 784.7,1232.3 784.9,1237.6 785.1,1240.3 785.3,1235.8 785.5,1234.4 785.6,1240.1 785.8,1239.5 786,1238.9 786.2,1251.1 786.4,1246.7 786.6,1235.2 786.7,1246.6 786.9,1241.1 787.1,1237.7 787.3,1238.8 787.5,1255.5 787.7,1241.2 787.8,1237.2 788,1240.9 788.2,1245.6 788.4,1242.4 788.6,1240.6 788.8,1236.9 788.9,1238.3 789.1,1234.6 789.3,1241.8 789.5,1244.3 789.7,1244.1 789.9,1241.4 790,1248.6 790.2,1243.9 790.4,1244.9 790.6,1236.3 790.8,1239.9 791,1239.5 791.1,1247.4 791.3,1241.3 791.5,1241.1 791.7,1240.7 791.9,1249.9 792.1,1239.2 792.2,1238 792.4,1243.2 792.6,1241.6 792.8,1249.2 793,1248 793.1,1243.7 793.3,1241.4 793.5,1242.4 793.7,1249.2 793.9,1244.4 794.1,1245.6 794.2,1229.9 794.4,1236.3 794.6,1242.2 794.8,1247.8 795,1249.3 795.2,1247.9 795.3,1239.6 795.5,1250.6 795.7,1245.6 795.9,1237.1 796.1,1242.1 796.3,1243.2 796.4,1244.9 796.6,1246.5 796.8,1242.9 797,1242 797.2,1239.4 797.4,1241.9 797.5,1236.3 797.7,1245.7 797.9,1242.1 798.1,1247.5 798.3,1245 798.5,1240.2 798.6,1241.7 798.8,1242 799,1242.4 799.2,1229 799.4,1237.3 799.6,1252.2 799.7,1242.8 799.9,1249.6 800.1,1239.5 800.3,1234.3 800.5,1240.7 800.7,1240.4 800.8,1238.2 801,1248.5 801.2,1249.7 801.4,1238.7 801.6,1252.4 801.8,1247.1 801.9,1236.3 802.1,1247.7 802.3,1244.3 802.5,1242.5 802.7,1234.1 802.9,1244.6 803,1238.4 803.2,1251.6 803.4,1237 803.6,1234.6 803.8,1244.7 804,1236.3 804.1,1250.1 804.3,1237.7 804.5,1247.5 804.7,1241 804.9,1245.8 805.1,1251.6 805.2,1249.6 805.4,1259.1 805.6,1251.5 805.8,1260.1 806,1255.1 806.2,1239.7 806.3,1256.1 806.5,1245.1 806.7,1238.1 806.9,1243.9 807.1,1243.1 807.3,1246.7 807.4,1246.9 807.6,1248.7 807.8,1236 808,1243.9 808.2,1239.3 808.4,1234.4 808.5,1238.3 808.7,1237 808.9,1244.4 809.1,1240.9 809.3,1244.3 809.5,1242 809.6,1243.1 809.8,1244.9 810,1238.3 810.2,1241.6 810.4,1241.6 810.6,1239.7 810.7,1237.3 810.9,1243.9 811.1,1245.7 811.3,1252.1 811.5,1243.5 811.7,1243.8 811.8,1236.8 812,1242.1 812.2,1248.5 812.4,1251.4 812.6,1242.7 812.8,1247.8 812.9,1247.1 813.1,1248.5 813.3,1241.6 813.5,1235.4 813.7,1240.4 813.9,1246.8 814,1238.4 814.2,1242.1 814.4,1238.3 814.6,1239.7 814.8,1235.2 815,1248.7 815.1,1239.1 815.3,1243.2 815.5,1245.2 815.7,1240.9 815.9,1236.7 816.1,1239.1 816.2,1236.6 816.4,1242.6 816.6,1238.8 816.8,1247.9 817,1240.3 817.2,1244.9 817.3,1237.5 817.5,1233.1 817.7,1240.7 817.9,1247.4 818.1,1247.5 818.3,1248.6 818.4,1240.3 818.6,1240.5 818.8,1243.6 819,1242.2 819.2,1247.8 819.3,1250.4 819.5,1251.9 819.7,1243.9 819.9,1255.2 820.1,1236 820.3,1242.4 820.4,1239.6 820.6,1240.5 820.8,1237.5 821,1244.4 821.2,1235.2 821.4,1243.7 821.5,1234.7 821.7,1241.1 821.9,1243.9 822.1,1247.3 822.3,1236.2 822.5,1230.9 822.6,1251.1 822.8,1237.4 823,1240.8 823.2,1241.4 823.4,1249.5 823.6,1246 823.7,1248.5 823.9,1249.2 824.1,1244.9 824.3,1241.2 824.5,1249.3 824.7,1247.5 824.8,1244 825,1232.9 825.2,1239.3 825.4,1244.7 825.6,1239.9 825.8,1247.3 825.9,1256.2 826.1,1242.9 826.3,1244.3 826.5,1247.3 826.7,1252.7 826.9,1233.1 827,1242.2 827.2,1252.9 827.4,1245.9 827.6,1237.2 827.8,1248.2 828,1237.9 828.1,1248.9 828.3,1248.6 828.5,1240.8 828.7,1236.4 828.9,1245.1 829.1,1240.6 829.2,1240.9 829.4,1239.4 829.6,1239.9 829.8,1237.4 830,1246.8 830.2,1248.4 830.3,1238 830.5,1235.8 830.7,1246.4 830.9,1248.3 831.1,1242.7 831.3,1244.1 831.4,1240.5 831.6,1235 831.8,1231.5 832,1228.9 832.2,1234.2 832.4,1227.2 832.5,1245.8 832.7,1234 832.9,1243 833.1,1244.4 833.3,1242 833.5,1242.3 833.6,1238.4 833.8,1240.3 834,1246.4 834.2,1246.1 834.4,1235.5 834.6,1242.1 834.7,1233.3 834.9,1242 835.1,1242.8 835.3,1235.4 835.5,1249.9 835.7,1235.3 835.8,1248.8 836,1233.8 836.2,1246.1 836.4,1232.4 836.6,1239.7 836.8,1235.5 836.9,1243.9 837.1,1238 837.3,1241.2 837.5,1243.5 837.7,1237.1 837.9,1239.1 838,1243.5 838.2,1237.3 838.4,1244.3 838.6,1232.9 838.8,1252.8 839,1248 839.1,1234.6 839.3,1238 839.5,1240.3 839.7,1245.1 839.9,1246.1 840.1,1247.7 840.2,1248.2 840.4,1236.4 840.6,1243 840.8,1241.3 841,1245.3 841.2,1241.4 841.3,1232.9 841.5,1239.6 841.7,1255.1 841.9,1242.3 842.1,1248.4 842.3,1241.8 842.4,1240.7 842.6,1242.3 842.8,1241 843,1246.9 843.2,1240.5 843.4,1233.6 843.5,1248.3 843.7,1247 843.9,1242.5 844.1,1243.8 844.3,1248 844.5,1245.4 844.6,1237.7 844.8,1249.3 845,1254.9 845.2,1241.5 845.4,1236.3 845.6,1247.2 845.7,1249.1 845.9,1237.4 846.1,1234.3 846.3,1235.2 846.5,1239.6 846.6,1236.5 846.8,1239.7 847,1239.8 847.2,1233.5 847.4,1243.7 847.6,1249.2 847.7,1231.3 847.9,1240.6 848.1,1239.4 848.3,1237.8 848.5,1242.1 848.7,1236.2 848.8,1245.9 849,1239.8 849.2,1236.3 849.4,1243.8 849.6,1242.1 849.8,1249 849.9,1242.4 850.1,1239.6 850.3,1251.4 850.5,1242.6 850.7,1243.4 850.9,1249.1 851,1238.6 851.2,1241 851.4,1237.5 851.6,1251.6 851.8,1237 852,1235.7 852.1,1235.5 852.3,1250.9 852.5,1247 852.7,1237.8 852.9,1237.6 853.1,1253.6 853.2,1238.2 853.4,1241.7 853.6,1237.8 853.8,1254.5 854,1237.8 854.2,1234.1 854.3,1242.5 854.5,1243.1 854.7,1240 854.9,1237.8 855.1,1232 855.3,1236.9 855.4,1251.4 855.6,1233 855.8,1248.3 856,1253.6 856.2,1248.7 856.4,1243.7 856.5,1248.6 856.7,1248.4 856.9,1234.9 857.1,1244.9 857.3,1236.8 857.5,1231.1 857.6,1247.1 857.8,1237.8 858,1243.4 858.2,1235.2 858.4,1247.3 858.6,1245.1 858.7,1240.3 858.9,1237.2 859.1,1238.2 859.3,1242.8 859.5,1238.7 859.7,1237.4 859.8,1246.3 860,1245.7 860.2,1249.7 860.4,1249.5 860.6,1238.3 860.8,1243.2 860.9,1236 861.1,1231.5 861.3,1237.5 861.5,1233.4 861.7,1236 861.9,1232 862,1238.1 862.2,1234.1 862.4,1236.7 862.6,1241.3 862.8,1245.5 863,1235.5 863.1,1227.9 863.3,1231.2 863.5,1246.8 863.7,1250.6 863.9,1246.5 864.1,1249.9 864.2,1240.3 864.4,1239.3 864.6,1248.9 864.8,1246.2 865,1244.8 865.2,1244.5 865.3,1240.4 865.5,1231.2 865.7,1245.1 865.9,1239.9 866.1,1234.6 866.3,1236.5 866.4,1244.3 866.6,1237 866.8,1235.3 867,1243.9 867.2,1246.7 867.4,1247.2 867.5,1246.7 867.7,1243.9 867.9,1241.4 868.1,1232.4 868.3,1241.6 868.5,1239.2 868.6,1250.9 868.8,1239.8 869,1244.1 869.2,1246.5 869.4,1236.5 869.6,1236.3 869.7,1249 869.9,1248.6 870.1,1233.7 870.3,1242.8 870.5,1249.4 870.7,1238.2 870.8,1242.6 871,1242.9 871.2,1240.5 871.4,1239.6 871.6,1228.4 871.8,1236.4 871.9,1240.4 872.1,1243.2 872.3,1251.4 872.5,1255 872.7,1248.8 872.9,1240.9 873,1232.4 873.2,1235.4 873.4,1240.2 873.6,1232.2 873.8,1233.8 873.9,1240.8 874.1,1231.2 874.3,1234 874.5,1247.2 874.7,1244.1 874.9,1247.3 875,1243.8 875.2,1237.1 875.4,1249.3 875.6,1240.3 875.8,1245 876,1245.5 876.1,1244.9 876.3,1236.5 876.5,1245 876.7,1235.8 876.9,1244.2 877.1,1240.4 877.2,1250.3 877.4,1239.4 877.6,1241.7 877.8,1241.6 878,1232.4 878.2,1241.2 878.3,1242.1 878.5,1238.3 878.7,1241.5 878.9,1243.7 879.1,1244.3 879.3,1245.2 879.4,1247.8 879.6,1248.2 879.8,1240.8 880,1244 880.2,1242.2 880.4,1239.9 880.5,1239.7 880.7,1236.7 880.9,1243.3 881.1,1247.2 881.3,1240.1 881.5,1239.8 881.6,1237.5 881.8,1235.5 882,1236.6 882.2,1243.2 882.4,1233.6 882.6,1249.7 882.7,1243.2 882.9,1236.9 883.1,1231.1 883.3,1236.5 883.5,1227.7 883.7,1238.7 883.8,1230.3 884,1235.8 884.2,1231.5 884.4,1243.9 884.6,1243.2 884.8,1244.9 884.9,1250.9 885.1,1237.8 885.3,1232.8 885.5,1232.2 885.7,1238.7 885.9,1240.5 886,1240.4 886.2,1244.8 886.4,1247.9 886.6,1238.5 886.8,1248.7 887,1239.5 887.1,1237.3 887.3,1246.1 887.5,1246.8 887.7,1245.9 887.9,1237.2 888.1,1249.5 888.2,1244.5 888.4,1238.4 888.6,1242.6 888.8,1243.4 889,1242.2 889.2,1239.4 889.3,1251 889.5,1239.9 889.7,1244.4 889.9,1242.2 890.1,1243.8 890.3,1233.7 890.4,1250.8 890.6,1246.8 890.8,1237.4 891,1242.1 891.2,1235.2 891.4,1238.4 891.5,1235.2 891.7,1229.2 891.9,1235.5 892.1,1237.1 892.3,1237.9 892.5,1232.1 892.6,1241.2 892.8,1245.4 893,1244.3 893.2,1238.3 893.4,1250.9 893.6,1241.5 893.7,1245.1 893.9,1242.9 894.1,1240.5 894.3,1246 894.5,1241.1 894.7,1240.5 894.8,1235.5 895,1245 895.2,1246.3 895.4,1241.9 895.6,1239.2 895.8,1239.5 895.9,1245.1 896.1,1238.6 896.3,1241.2 896.5,1243.7 896.7,1241.5 896.9,1244 897,1245.7 897.2,1240.9 897.4,1252.1 897.6,1238.9 897.8,1242.4 898,1243.8 898.1,1242.6 898.3,1237.3 898.5,1243.5 898.7,1238.8 898.9,1243.1 899.1,1246.7 899.2,1247.6 899.4,1243.3 899.6,1240.7 899.8,1253.8 900,1242 900.1,1251.6 900.3,1238.4 900.5,1243.6 900.7,1250.4 900.9,1237.9 901.1,1236.4 901.2,1247.3 901.4,1250.4 901.6,1246.6 901.8,1244.7 902,1239.8 902.2,1244.2 902.3,1246.9 902.5,1240.5 902.7,1234.2 902.9,1248.1 903.1,1236.5 903.3,1235.6 903.4,1240 903.6,1247.8 903.8,1235.6 904,1242.3 904.2,1251.4 904.4,1243.9 904.5,1240.7 904.7,1237.8 904.9,1234.1 905.1,1249.1 905.3,1235.4 905.5,1243 905.6,1247.3 905.8,1239.4 906,1241.3 906.2,1247.6 906.4,1243 906.6,1248.5 906.7,1248.6 906.9,1252.6 907.1,1240 907.3,1250.9 907.5,1251.9 907.7,1252.7 907.8,1246.1 908,1251.8 908.2,1256.9 908.4,1253.2 908.6,1242.6 908.8,1243.5 908.9,1241.8 909.1,1246.5 909.3,1238.9 909.5,1239.1 909.7,1235.2 909.9,1246.4 910,1251.9 910.2,1244.4 910.4,1245.4 910.6,1246.4 910.8,1236.7 911,1245.5 911.1,1249.9 911.3,1246.9 911.5,1240.1 911.7,1236.7 911.9,1236.5 912.1,1245.4 912.2,1236 912.4,1240 912.6,1241 912.8,1238.8 913,1236 913.2,1243.2 913.3,1237.5 913.5,1239.4 913.7,1247.5 913.9,1245.6 914.1,1231.1 914.3,1236.7 914.4,1246.3 914.6,1237.8 914.8,1246.5 915,1247.8 915.2,1247.7 915.4,1251.3 915.5,1235.9 915.7,1238 915.9,1240 916.1,1240.1 916.3,1247.3 916.5,1244.9 916.6,1238.4 916.8,1240.3 917,1236.4 917.2,1240.7 917.4,1235.8 917.6,1252.1 917.7,1246.7 917.9,1240.8 918.1,1241.8 918.3,1246.6 918.5,1242.5 918.7,1249 918.8,1243.5 919,1254.3 919.2,1246 919.4,1237.1 919.6,1237.5 919.8,1240 919.9,1251.6 920.1,1241 920.3,1247.4 920.5,1235.4 920.7,1245.3 920.9,1237.2 921,1240.4 921.2,1243.8 921.4,1237.8 921.6,1257.8 921.8,1241.2 922,1245.4 922.1,1257.2 922.3,1252.3 922.5,1234.1 922.7,1247.6 922.9,1249.9 923.1,1238.3 923.2,1242.7 923.4,1238.9 923.6,1238.8 923.8,1251.4 924,1247.7 924.2,1238.5 924.3,1236.4 924.5,1246.5 924.7,1243.9 924.9,1241.1 925.1,1244 925.3,1236.1 925.4,1238.9 925.6,1239 925.8,1249.1 926,1242.7 926.2,1237.6 926.4,1239 926.5,1248.3 926.7,1244.6 926.9,1240.1 927.1,1241 927.3,1246.6 927.4,1241.3 927.6,1241.5 927.8,1239.3 928,1230.4 928.2,1245.8 928.4,1242 928.5,1247 928.7,1258.7 928.9,1241.2 929.1,1246 929.3,1241.3 929.5,1239.4 929.6,1239.2 929.8,1241.5 930,1243.5 930.2,1252.1 930.4,1244.9 930.6,1240.1 930.7,1247.9 930.9,1238.1 931.1,1246.4 931.3,1243.9 931.5,1240 931.7,1245.1 931.8,1248.5 932,1246.1 932.2,1233.6 932.4,1234.5 932.6,1243.1 932.8,1242.5 932.9,1237 933.1,1248.4 933.3,1246.7 933.5,1250.1 933.7,1245 933.9,1252.1 934,1239.6 934.2,1240.6 934.4,1246 934.6,1244.6 934.8,1234.9 935,1238.6 935.1,1245.7 935.3,1243.3 935.5,1238.9 935.7,1241.1 935.9,1241.9 936.1,1241.5 936.2,1245 936.4,1246 936.6,1238.7 936.8,1254.4 937,1244.2 937.2,1242 937.3,1252.2 937.5,1242.7 937.7,1236.7 937.9,1235.9 938.1,1239.6 938.3,1239.4 938.4,1233.7 938.6,1240.7 938.8,1238.9 939,1250.4 939.2,1246.8 939.4,1240.8 939.5,1250.8 939.7,1244.9 939.9,1234.8 940.1,1243.8 940.3,1249.9 940.5,1241.4 940.6,1235.9 940.8,1237.2 941,1231.8 941.2,1235.5 941.4,1231.5 941.6,1226.3 941.7,1230.3 941.9,1233.7 942.1,1226.3 942.3,1231.7 942.5,1230.6 942.7,1227.2 942.8,1230.7 943,1240.3 943.2,1237.1 943.4,1242 943.6,1230.8 943.8,1244 943.9,1232.2 944.1,1251.7 944.3,1243.8 944.5,1247 944.7,1239.2 944.9,1242.4 945,1237.2 945.2,1237.9 945.4,1243.9 945.6,1241 945.8,1241.2 946,1241.9 946.1,1249.7 946.3,1247.8 946.5,1251.1 946.7,1239 946.9,1236 947.1,1239 947.2,1240.5 947.4,1228.3 947.6,1238.5 947.8,1233.4 948,1237.1 948.2,1236 948.3,1232.7 948.5,1230 948.7,1234.2 948.9,1242.6 949.1,1229.7 949.3,1240.9 949.4,1240.7 949.6,1241.8 949.8,1243 950,1243.3 950.2,1240.3 950.4,1246.2 950.5,1237.2 950.7,1249.3 950.9,1230.4 951.1,1250.3 951.3,1242.1 951.5,1239.7 951.6,1243.2 951.8,1246.9 952,1249.1 952.2,1246.8 952.4,1252.8 952.6,1244.1 952.7,1242.3 952.9,1240.9 953.1,1245.5 953.3,1243 953.5,1250.6 953.7,1239.9 953.8,1240.9 954,1240.6 954.2,1242.1 954.4,1247.1 954.6,1247.8 954.7,1244.1 954.9,1249.7 955.1,1255.3 955.3,1244.4 955.5,1250.3 955.7,1254.5 955.8,1249.5 956,1236.5 956.2,1234 956.4,1239 956.6,1237.7 956.8,1244.7 956.9,1242.4 957.1,1243.1 957.3,1240.4 957.5,1246.6 957.7,1242.8 957.9,1255.4 958,1245.9 958.2,1243.1 958.4,1241 958.6,1237.8 958.8,1234.2 959,1239 959.1,1239.5 959.3,1243.4 959.5,1235.9 959.7,1240.5 959.9,1238.8 960.1,1237.4 960.2,1242.7 960.4,1244.3 960.6,1241.3 960.8,1241.2 961,1241.9 961.2,1232 961.3,1244.1 961.5,1235.2 961.7,1254.4 961.9,1241.8 962.1,1244 962.3,1244.5 962.4,1233.7 962.6,1250.6 962.8,1239.5 963,1248.4 963.2,1249.8 963.4,1247.6 963.5,1227.9 963.7,1236.9 963.9,1240.5 964.1,1236.7 964.3,1243.5 964.5,1252.3 964.6,1251.1 964.8,1242.9 965,1239.7 965.2,1249.1 965.4,1248.5 965.6,1242.7 965.7,1239.2 965.9,1251.4 966.1,1251.8 966.3,1249.5 966.5,1247.1 966.7,1240.7 966.8,1244.3 967,1237.1 967.2,1251 967.4,1237.1 967.6,1238.7 967.8,1241.3 967.9,1241.9 968.1,1250.5 968.3,1247.1 968.5,1238.6 968.7,1244.5 968.9,1244.3 969,1250.7 969.2,1234.2 969.4,1239.8 969.6,1237.3 969.8,1243.8 970,1247.6 970.1,1241.8 970.3,1254.3 970.5,1237.8 970.7,1243.6 970.9,1239.3 971.1,1235.4 971.2,1240.5 971.4,1243 971.6,1239.1 971.8,1239.2 972,1242.4 972.2,1239.1 972.3,1247.7 972.5,1246 972.7,1243.1 972.9,1248.2 973.1,1231 973.3,1237.7 973.4,1249.5 973.6,1238 973.8,1247.7 974,1242.4 974.2,1238.1 974.4,1233.8 974.5,1225.9 974.7,1223.5 974.9,1223.5 975.1,1231.9 975.3,1232 975.5,1236.5 975.6,1231.5 975.8,1240.3 976,1248.4 976.2,1238.7 976.4,1240 976.6,1240.7 976.7,1253.6 976.9,1248.6 977.1,1253 977.3,1256.4 977.5,1241 977.7,1243.7 977.8,1229.3 978,1242.2 978.2,1238.7 978.4,1242.2 978.6,1243.2 978.8,1231.7 978.9,1245.5 979.1,1242 979.3,1238.2 979.5,1241.2 979.7,1248.2 979.9,1240.1 980,1250.6 980.2,1245.5 980.4,1242.2 980.6,1237.3 980.8,1237.8 980.9,1248.4 981.1,1242.5 981.3,1243.9 981.5,1244.2 981.7,1247.1 981.9,1246.5 982,1240.5 982.2,1243.9 982.4,1241.2 982.6,1244.9 982.8,1234.1 983,1240.9 983.1,1249 983.3,1235.3 983.5,1238.4 983.7,1243.2 983.9,1233.9 984.1,1239.1 984.2,1238.7 984.4,1239.5 984.6,1234.8 984.8,1233.8 985,1231 985.2,1235.8 985.3,1237 985.5,1239.3 985.7,1241.8 985.9,1243 986.1,1243.2 986.3,1241.5 986.4,1241 986.6,1238.4 986.8,1245.1 987,1248.6 987.2,1239.6 987.4,1245.4 987.5,1241.5 987.7,1241.2 987.9,1236.7 988.1,1240.7 988.3,1245.4 988.5,1244.7 988.6,1246.5 988.8,1238.5 989,1230.4 989.2,1245.9 989.4,1241.8 989.6,1245.7 989.7,1251.9 989.9,1247.8 990.1,1230.8 990.3,1239.4 990.5,1240.3 990.7,1250.6 990.8,1238 991,1240.2 991.2,1247.8 991.4,1232.5 991.6,1240.9 991.8,1238.5 991.9,1242.1 992.1,1252.4 992.3,1252.1 992.5,1253.2 992.7,1251.8 992.9,1247.7 993,1247.7 993.2,1248.8 993.4,1239.9 993.6,1242.8 993.8,1239.5 994,1247 994.1,1248.6 994.3,1245.6 994.5,1247.6 994.7,1239.6 994.9,1240.5 995.1,1243.3 995.2,1240.7 995.4,1245.4 995.6,1241.4 995.8,1235.5 996,1236.9 996.2,1243.7 996.3,1254.9 996.5,1243 996.7,1234.1 996.9,1243.6 997.1,1238.6 997.3,1235.2 997.4,1256.3 997.6,1255.1 997.8,1242.1 998,1242.1 998.2,1241 998.4,1247 998.5,1247.3 998.7,1248.8 998.9,1237.3 999.1,1241.8 999.3,1247.5 999.5,1243.8 999.6,1235 999.8,1242.7 1000,1247.9 1000.2,1231 1000.4,1250.6 1000.6,1241.6 1000.7,1250.3 1000.9,1247.6 1001.1,1244.4 1001.3,1242 1001.5,1241.5 1001.7,1238.7 1001.8,1243.2 1002,1244.2 1002.2,1234.4 1002.4,1239.1 1002.6,1229.7 1002.8,1234 1002.9,1238.1 1003.1,1244.8 1003.3,1242.3 1003.5,1242.8 1003.7,1239.7 1003.9,1236.2 1004,1246.7 1004.2,1245.9 1004.4,1236 1004.6,1240.6 1004.8,1244.2 1005,1236.4 1005.1,1237.9 1005.3,1244.5 1005.5,1242.9 1005.7,1247.3 1005.9,1239.9 1006.1,1244.1 1006.2,1242.6 1006.4,1249.1 1006.6,1234.1 1006.8,1237.1 1007,1233 1007.2,1242.6 1007.3,1244.2 1007.5,1250.4 1007.7,1241.6 1007.9,1248.2 1008.1,1244.9 1008.2,1252.5 1008.4,1243.6 1008.6,1242.1 1008.8,1247.4 1009,1242.3 1009.2,1239 1009.3,1233.3 1009.5,1245.3 1009.7,1249.4 1009.9,1243.5 1010.1,1248.1 1010.3,1239.8 1010.4,1244.8 1010.6,1244.4 1010.8,1236.7 1011,1230.4 1011.2,1235.3 1011.4,1237.7 1011.5,1242.3 1011.7,1229.3 1011.9,1248.4 1012.1,1244.7 1012.3,1241.3 1012.5,1237.1 1012.6,1239.3 1012.8,1244.9 1013,1244.9 1013.2,1244.5 1013.4,1234.2 1013.6,1239.7 1013.7,1241.3 1013.9,1239.8 1014.1,1237 1014.3,1240.6 1014.5,1245.6 1014.7,1232.5 1014.8,1246 1015,1234.6 1015.2,1234.8 1015.4,1234.7 1015.6,1244.3 1015.8,1243 1015.9,1246.5 1016.1,1237 1016.3,1235.2 1016.5,1252.9 1016.7,1244.9 1016.9,1229 1017,1236.7 1017.2,1242.6 1017.4,1250.1 1017.6,1252.5 1017.8,1237 1018,1245.8 1018.1,1240.7 1018.3,1239.7 1018.5,1238.6 1018.7,1233.9 1018.9,1235.1 1019.1,1238.3 1019.2,1243.1 1019.4,1233.8 1019.6,1249.2 1019.8,1240.1 1020,1246.7 1020.2,1238 1020.3,1237.5 1020.5,1250.4 1020.7,1248.2 1020.9,1235.5 1021.1,1249.1 1021.3,1237.4 1021.4,1247.7 1021.6,1248.8 1021.8,1244 1022,1241.6 1022.2,1241.7 1022.4,1242.2 1022.5,1238.1 1022.7,1244.8 1022.9,1239.3 1023.1,1233.3 1023.3,1244.2 1023.5,1252 1023.6,1248.2 1023.8,1241.6 1024,1238.6 1024.2,1239.8 1024.4,1249.6 1024.6,1245.1 1024.7,1234.7 1024.9,1238.7 1025.1,1243.7 1025.3,1234.4 1025.5,1232.9 1025.7,1230.5 1025.8,1226.3 1026,1241.7 1026.2,1242.2 1026.4,1244.4 1026.6,1249.1 1026.8,1242.2 1026.9,1240.5 1027.1,1245 1027.3,1236.2 1027.5,1232.3 1027.7,1240.7 1027.9,1239.3 1028,1238 1028.2,1243.1 1028.4,1246.5 1028.6,1239.2 1028.8,1232 1029,1233.6 1029.1,1237.8 1029.3,1241.4 1029.5,1242.5 1029.7,1245.2 1029.9,1253.4 1030.1,1237.4 1030.2,1248.1 1030.4,1241.7 1030.6,1243.6 1030.8,1240.9 1031,1248.4 1031.2,1246 1031.3,1247.9 1031.5,1249.7 1031.7,1230.2 1031.9,1235.3 1032.1,1239.1 1032.3,1240.7 1032.4,1239.8 1032.6,1234.7 1032.8,1250.7 1033,1236.5 1033.2,1247.8 1033.4,1240.8 1033.5,1241.6 1033.7,1247.7 1033.9,1238.7 1034.1,1247.2 1034.3,1243.6 1034.5,1237.6 1034.6,1242.7 1034.8,1244.3 1035,1246.6 1035.2,1248.8 1035.4,1235.7 1035.5,1238.8 1035.7,1239 1035.9,1235.4 1036.1,1253.2 1036.3,1240.4 1036.5,1241.3 1036.6,1241.6 1036.8,1240.2 1037,1250.8 1037.2,1247.8 1037.4,1244.6 1037.6,1247.6 1037.7,1250.2 1037.9,1248 1038.1,1249.2 1038.3,1249.7 1038.5,1238.6 1038.7,1234.4 1038.8,1237.2 1039,1240.9 1039.2,1237.6 1039.4,1243.1 1039.6,1235.6 1039.8,1242.4 1039.9,1244.4 1040.1,1238.3 1040.3,1246.7 1040.5,1251.3 1040.7,1226.6 1040.9,1238.5 1041,1241.5 1041.2,1246.3 1041.4,1236.7 1041.6,1242.6 1041.8,1249 1042,1242.8 1042.1,1238 1042.3,1237.5 1042.5,1241.4 1042.7,1242 1042.9,1241.3 1043.1,1238.9 1043.2,1227.9 1043.4,1235.6 1043.6,1238.9 1043.8,1242 1044,1244.6 1044.2,1239.1 1044.3,1246.3 1044.5,1250.8 1044.7,1245.2 1044.9,1246.7 1045.1,1240.4 1045.3,1237.3 1045.4,1245.1 1045.6,1244.6 1045.8,1248.1 1046,1240.8 1046.2,1237.1 1046.4,1237.2 1046.5,1243.7 1046.7,1232.1 1046.9,1249.2 1047.1,1240.1 1047.3,1242.3 1047.5,1240.9 1047.6,1250 1047.8,1234.2 1048,1244.2 1048.2,1242 1048.4,1245.4 1048.6,1243 1048.7,1233.4 1048.9,1231 1049.1,1228.8 1049.3,1239.1 1049.5,1243.9 1049.7,1242.8 1049.8,1240 1050,1244.8 1050.2,1234.7 1050.4,1248.8 1050.6,1249.9 1050.8,1248.6 1050.9,1244.9 1051.1,1248.8 1051.3,1230.7 1051.5,1231.2 1051.7,1235.4 1051.9,1233.9 1052,1232.9 1052.2,1238.8 1052.4,1235.8 1052.6,1247.5 1052.8,1240.7 1053,1229.3 1053.1,1240 1053.3,1238.5 1053.5,1234.6 1053.7,1247.5 1053.9,1237.2 1054.1,1232.7 1054.2,1240.3 1054.4,1252.1 1054.6,1242.6 1054.8,1252.3 1055,1245.8 1055.2,1252 1055.3,1245.7 1055.5,1245.3 1055.7,1226.2 1055.9,1234.4 1056.1,1234.3 1056.3,1239.9 1056.4,1246.6 1056.6,1245.5 1056.8,1244.9 1057,1231.5 1057.2,1236.4 1057.4,1240.9 1057.5,1244.6 1057.7,1242.7 1057.9,1237.1 1058.1,1234.1 1058.3,1247.1 1058.5,1236.6 1058.6,1240.1 1058.8,1239.8 1059,1241.1 1059.2,1233.4 1059.4,1229.8 1059.6,1234 1059.7,1230.9 1059.9,1237.6 1060.1,1229.9 1060.3,1237.1 1060.5,1233.7 1060.7,1253.1 1060.8,1232.3 1061,1239.1 1061.2,1240.2 1061.4,1238.9 1061.6,1235.1 1061.7,1236.8 1061.9,1240.9 1062.1,1249.9 1062.3,1249 1062.5,1251.8 1062.7,1239.5 1062.8,1243.4 1063,1249.5 1063.2,1245.5 1063.4,1243.8 1063.6,1243.2 1063.8,1247.2 1063.9,1239.8 1064.1,1244.4 1064.3,1238.4 1064.5,1246.7 1064.7,1245.7 1064.9,1242.6 1065,1235.6 1065.2,1242 1065.4,1251.2 1065.6,1239.6 1065.8,1244.3 1066,1233.2 1066.1,1236.8 1066.3,1242.3 1066.5,1247.2 1066.7,1246.8 1066.9,1239.3 1067.1,1252.6 1067.2,1227.7 1067.4,1234.5 1067.6,1248.2 1067.8,1249.3 1068,1251.6 1068.2,1237.7 1068.3,1234.8 1068.5,1234.4 1068.7,1237.1 1068.9,1244.6 1069.1,1240.2 1069.3,1240.2 1069.4,1245.6 1069.6,1241.1 1069.8,1243.2 1070,1250.1 1070.2,1238.5 1070.4,1242.8 1070.5,1238.1 1070.7,1247.1 1070.9,1238.2 1071.1,1240.8 1071.3,1250.6 1071.5,1237.6 1071.6,1259.5 1071.8,1252.6 1072,1247 1072.2,1244.7 1072.4,1248 1072.6,1246.2 1072.7,1237.4 1072.9,1243 1073.1,1237.7 1073.3,1239.5 1073.5,1242.2 1073.7,1242.7 1073.8,1240.7 1074,1241.8 1074.2,1240.1 1074.4,1240.6 1074.6,1250.6 1074.8,1249.9 1074.9,1237.6 1075.1,1229.1 1075.3,1242.6 1075.5,1245.7 1075.7,1232.2 1075.9,1233 1076,1228.7 1076.2,1232 1076.4,1231.1 1076.6,1237.4 1076.8,1239.8 1077,1243.2 1077.1,1249.2 1077.3,1241.3 1077.5,1253.4 1077.7,1246.9 1077.9,1246.3 1078.1,1240.3 1078.2,1232.1 1078.4,1241.9 1078.6,1240 1078.8,1229.6 1079,1248.6 1079.2,1250.5 1079.3,1240.9 1079.5,1244.5 1079.7,1249 1079.9,1243.7 1080.1,1224.3 1080.3,1245.3 1080.4,1228.1 1080.6,1235.3 1080.8,1246.4 1081,1233.9 1081.2,1230.5 1081.4,1238.1 1081.5,1237.4 1081.7,1228 1081.9,1247.7 1082.1,1240.2 1082.3,1240.1 1082.5,1241.8 1082.6,1242.6 1082.8,1249.3 1083,1241.1 1083.2,1238.8 1083.4,1244.6 1083.6,1243.6 1083.7,1245.8 1083.9,1237.5 1084.1,1244.7 1084.3,1245.2 1084.5,1236.7 1084.7,1245 1084.8,1242 1085,1249.7 1085.2,1251.1 1085.4,1243.9 1085.6,1236.2 1085.8,1242 1085.9,1237.5 1086.1,1237.9 1086.3,1248.8 1086.5,1245.1 1086.7,1240.5 1086.9,1236.5 1087,1243.2 1087.2,1249.2 1087.4,1245.3 1087.6,1243.3 1087.8,1243.5 1088,1249.4 1088.1,1246.8 1088.3,1243.4 1088.5,1231.7 1088.7,1246.8 1088.9,1244.4 1089,1243.5 1089.2,1250 1089.4,1239.8 1089.6,1245.3 1089.8,1244.1 1090,1235.4 1090.1,1241.7 1090.3,1243.1 1090.5,1248.1 1090.7,1245.2 1090.9,1242.3 1091.1,1246.4 1091.2,1231.3 1091.4,1240.1 1091.6,1238.3 1091.8,1245 1092,1251.5 1092.2,1246.2 1092.3,1247.5 1092.5,1246.7 1092.7,1251.5 1092.9,1238 1093.1,1247.4 1093.3,1241.4 1093.4,1244.2 1093.6,1251.5 1093.8,1252 1094,1246 1094.2,1251.4 1094.4,1244.6 1094.5,1243.1 1094.7,1243 1094.9,1242.8 1095.1,1248.5 1095.3,1248 1095.5,1240.4 1095.6,1241.5 1095.8,1239.9 1096,1245.3 1096.2,1244.3 1096.4,1245 1096.6,1236.7 1096.7,1243.9 1096.9,1239.3 1097.1,1237 1097.3,1242.7 1097.5,1240.7 1097.7,1245 1097.8,1244.9 1098,1242.3 1098.2,1245.2 1098.4,1244 1098.6,1242.1 1098.8,1238.3 1098.9,1247.6 1099.1,1247.3 1099.3,1247.9 1099.5,1237.4 1099.7,1237.4 1099.9,1243.6 1100,1247 1100.2,1242.7 1100.4,1248.3 1100.6,1237.3 1100.8,1245.5 1101,1232.6 1101.1,1238.3 1101.3,1237 1101.5,1245.7 1101.7,1239.4 1101.9,1242.5 1102.1,1247 1102.2,1239.4 1102.4,1247.3 1102.6,1237.6 1102.8,1249.3 1103,1237.4 1103.2,1236.4 1103.3,1244.7 1103.5,1249.7 1103.7,1233.4 1103.9,1247.9 1104.1,1249 1104.3,1245 1104.4,1236.1 1104.6,1238.1 1104.8,1246.3 1105,1232.8 1105.2,1250.5 1105.4,1254.4 1105.5,1238.9 1105.7,1240.2 1105.9,1249.7 1106.1,1241.7 1106.3,1248.2 1106.5,1241.7 1106.6,1240.8 1106.8,1242.1 1107,1245.9 1107.2,1245.7 1107.4,1242.2 1107.6,1249.7 1107.7,1250.5 1107.9,1246.7 1108.1,1235.2 1108.3,1239.1 1108.5,1241.4 1108.7,1245.2 1108.8,1249.4 1109,1239.3 1109.2,1249 1109.4,1236.3 1109.6,1244.2 1109.8,1240.2 1109.9,1241.2 1110.1,1249 1110.3,1239.6 1110.5,1240.4 1110.7,1247.2 1110.9,1237.9 1111,1227.6 1111.2,1227.5 1111.4,1230.8 1111.6,1236.3 1111.8,1238.2 1112,1229.5 1112.1,1234.1 1112.3,1235 1112.5,1242.4 1112.7,1244.5 1112.9,1241.4 1113.1,1245.1 1113.2,1241.5 1113.4,1242.9 1113.6,1250.1 1113.8,1246.6 1114,1239.7 1114.2,1240.7 1114.3,1248.5 1114.5,1242.3 1114.7,1238.9 1114.9,1244.9 1115.1,1235.9 1115.3,1243.7 1115.4,1240 1115.6,1244.3 1115.8,1254.1 1116,1243.9 1116.2,1237 1116.3,1233.7 1116.5,1243.3 1116.7,1241.1 1116.9,1235.5 1117.1,1239.6 1117.3,1242.5 1117.4,1236.6 1117.6,1241.6 1117.8,1245 1118,1237.9 1118.2,1246.9 1118.4,1233.7 1118.5,1230.8 1118.7,1240.7 1118.9,1231.1 1119.1,1229 1119.3,1228.2 1119.5,1235.6 1119.6,1230.2 1119.8,1231.4 1120,1224.8 1120.2,1227.8 1120.4,1234.3 1120.6,1230.3 1120.7,1236.5 1120.9,1246.1 1121.1,1242.3 1121.3,1248 1121.5,1237.3 1121.7,1245.5 1121.8,1240.1 1122,1246.3 1122.2,1236.5 1122.4,1242.7 1122.6,1246.6 1122.8,1242.1 1122.9,1242.1 1123.1,1238.7 1123.3,1227.2 1123.5,1235.2 1123.7,1236.2 1123.9,1245.5 1124,1241.8 1124.2,1236.4 1124.4,1247 1124.6,1243.9 1124.8,1231.9 1125,1246 1125.1,1239.9 1125.3,1251.2 1125.5,1240.8 1125.7,1227 1125.9,1242.6 1126.1,1239 1126.2,1237.1 1126.4,1242.1 1126.6,1245.2 1126.8,1240.6 1127,1237.5 1127.2,1245.7 1127.3,1244.4 1127.5,1236.2 1127.7,1249.3 1127.9,1241 1128.1,1252.4 1128.3,1250.2 1128.4,1241.6 1128.6,1246.7 1128.8,1237 1129,1243.4 1129.2,1232.5 1129.4,1236.5 1129.5,1242.1 1129.7,1245.7 1129.9,1247 1130.1,1248.5 1130.3,1247.8 1130.5,1239.9 1130.6,1241.9 1130.8,1239 1131,1242.6 1131.2,1233 1131.4,1238.1 1131.6,1249.9 1131.7,1243.3 1131.9,1238.8 1132.1,1246 1132.3,1243.8 1132.5,1242.1 1132.7,1240.4 1132.8,1237 1133,1242.2 1133.2,1243 1133.4,1242.5 1133.6,1250.3 1133.8,1242.5 1133.9,1244.1 1134.1,1249.2 1134.3,1246.9 1134.5,1231.6 1134.7,1242 1134.9,1237 1135,1238.3 1135.2,1247.5 1135.4,1250.9 1135.6,1244.7 1135.8,1230 1136,1239.8 1136.1,1240.7 1136.3,1239.8 1136.5,1250.9 1136.7,1244.9 1136.9,1246 1137.1,1242.8 1137.2,1247.1 1137.4,1241.5 1137.6,1235.5 1137.8,1241.7 1138,1236.6 1138.2,1230.8 1138.3,1227 1138.5,1232.8 1138.7,1233.1 1138.9,1244.1 1139.1,1232.6 1139.3,1233.5 1139.4,1238.3 1139.6,1244.4 1139.8,1234.9 1140,1240.9 1140.2,1249 1140.4,1251 1140.5,1238.3 1140.7,1233.2 1140.9,1241.5 1141.1,1241.1 1141.3,1248 1141.5,1247 1141.6,1242.6 1141.8,1237.8 1142,1244 1142.2,1237.7 1142.4,1237.3 1142.5,1242 1142.7,1252.8 1142.9,1251.8 1143.1,1250.1 1143.3,1233.7 1143.5,1245.6 1143.6,1238.2 1143.8,1244.9 1144,1247 1144.2,1246 1144.4,1238.8 1144.6,1237 1144.7,1246.1 1144.9,1249 1145.1,1238.4 1145.3,1237.7 1145.5,1241.7 1145.7,1239.4 1145.8,1247.5 1146,1247.9 1146.2,1246.7 1146.4,1239.1 1146.6,1238.1 1146.8,1241.9 1146.9,1245.2 1147.1,1249.9 1147.3,1248.5 1147.5,1245.3 1147.7,1250.2 1147.9,1250.3 1148,1244.3 1148.2,1238.7 1148.4,1245.2 1148.6,1246.7 1148.8,1244.7 1149,1235.9 1149.1,1243.9 1149.3,1242.4 1149.5,1240.9 1149.7,1241.6 1149.9,1239.7 1150.1,1239.1 1150.2,1244.2 1150.4,1242.6 1150.6,1243.2 1150.8,1236.5 1151,1243.8 1151.2,1250.9 1151.3,1237 1151.5,1243.1 1151.7,1242.5 1151.9,1244.1 1152.1,1245.7 1152.3,1237.1 1152.4,1243.2 1152.6,1240.3 1152.8,1233.6 1153,1236.8 1153.2,1240.3 1153.4,1244.6 1153.5,1239.3 1153.7,1248 1153.9,1246.8 1154.1,1246 1154.3,1261.5 1154.5,1255.5 1154.6,1252.6 1154.8,1245.6 1155,1246.6 1155.2,1241.6 1155.4,1253.1 1155.6,1240.2 1155.7,1243.4 1155.9,1247.7 1156.1,1242.4 1156.3,1247.9 1156.5,1244.5 1156.7,1242.7 1156.8,1243.1 1157,1232.6 1157.2,1248 1157.4,1246.2 1157.6,1245.6 1157.8,1246 1157.9,1241.2 1158.1,1248.4 1158.3,1244.7 1158.5,1248.1 1158.7,1245.1 1158.9,1247.8 1159,1253.6 1159.2,1249 1159.4,1240.3 1159.6,1239 1159.8,1248.4 1160,1241.4 1160.1,1247.2 1160.3,1251.3 1160.5,1248 1160.7,1237.1 1160.9,1231.4 1161.1,1253 1161.2,1238.9 1161.4,1240 1161.6,1246 1161.8,1248.4 1162,1253.7 1162.2,1245.6 1162.3,1243.1 1162.5,1250.7 1162.7,1239.9 1162.9,1257.7 1163.1,1235.3 1163.3,1243 1163.4,1248.8 1163.6,1242.8 1163.8,1234.2 1164,1242.5 1164.2,1248.3 1164.4,1238.9 1164.5,1234.2 1164.7,1242.4 1164.9,1231.5 1165.1,1245.2 1165.3,1245.4 1165.5,1239.4 1165.6,1229.7 1165.8,1238.5 1166,1237 1166.2,1233.1 1166.4,1224.1 1166.6,1231.9 1166.7,1228.5 1166.9,1241.5 1167.1,1235.7 1167.3,1234.5 1167.5,1241 1167.7,1243.4 1167.8,1238.3 1168,1236.4 1168.2,1230.5 1168.4,1234.4 1168.6,1233.1 1168.8,1235.5 1168.9,1235.9 1169.1,1238 1169.3,1235.6 1169.5,1251.1 1169.7,1234.1 1169.8,1243.8 1170,1248.7 1170.2,1233.5 1170.4,1233.8 1170.6,1246.4 1170.8,1255.6 1170.9,1246.3 1171.1,1237.1 1171.3,1234.9 1171.5,1233.2 1171.7,1228 1171.9,1231 1172,1240.5 1172.2,1235.6 1172.4,1240.6 1172.6,1244.4 1172.8,1238.1 1173,1240.5 1173.1,1243.5 1173.3,1238.3 1173.5,1243 1173.7,1245.9 1173.9,1242.7 1174.1,1233.9 1174.2,1244.2 1174.4,1241.9 1174.6,1242.9 1174.8,1237.1 1175,1243.7 1175.2,1242.8 1175.3,1240.2 1175.5,1239.1 1175.7,1242.1 1175.9,1232.8 1176.1,1243.8 1176.3,1239.8 1176.4,1247.8 1176.6,1232.8 1176.8,1239.9 1177,1244 1177.2,1243.8 1177.4,1240.2 1177.5,1247.5 1177.7,1240 1177.9,1245.1 1178.1,1242.2 1178.3,1241.1 1178.5,1238.4 1178.6,1238.9 1178.8,1239.5 1179,1244.1 1179.2,1239.3 1179.4,1237 1179.6,1245.7 1179.7,1244 1179.9,1246.7 1180.1,1245 1180.3,1253.9 1180.5,1249.7 1180.7,1247.7 1180.8,1248 1181,1249.9 1181.2,1245 1181.4,1247.3 1181.6,1241.8 1181.8,1250.7 1181.9,1242.3 1182.1,1227 1182.3,1247.8 1182.5,1243.2 1182.7,1244.7 1182.9,1249.3 1183,1230.8 1183.2,1235.3 1183.4,1243.2 1183.6,1236.5 1183.8,1246 1184,1244.8 1184.1,1239 1184.3,1244.7 1184.5,1229.5 1184.7,1238.2 1184.9,1242.4 1185.1,1244.6 1185.2,1241.3 1185.4,1247 1185.6,1242.3 1185.8,1240.3 1186,1243.6 1186.2,1255.2 1186.3,1253.8 1186.5,1244.5 1186.7,1245.2 1186.9,1245.2 1187.1,1235 1187.3,1239.9 1187.4,1243.4 1187.6,1238.6 1187.8,1241.4 1188,1236.2 1188.2,1242 1188.4,1247.9 1188.5,1244.4 1188.7,1249.6 1188.9,1245.9 1189.1,1243.9 1189.3,1250 1189.5,1241.4 1189.6,1248 1189.8,1251.4 1190,1251.4 1190.2,1257.5 1190.4,1252.9 1190.6,1261.5 1190.7,1258.7 1190.9,1252.5 1191.1,1245.9 1191.3,1240.9 1191.5,1247.4 1191.7,1241 1191.8,1256.3 1192,1246.8 1192.2,1249.6 1192.4,1237.7 1192.6,1242 1192.8,1239.8 1192.9,1230.1 1193.1,1243.8 1193.3,1240.5 1193.5,1241.2 1193.7,1244.8 1193.9,1248.1 1194,1245.8 1194.2,1251.6 1194.4,1239.2 1194.6,1246.8 1194.8,1238.5 1195,1241.5 1195.1,1249.7 1195.3,1248.1 1195.5,1248.1 1195.7,1249.4 1195.9,1253 1196.1,1256.8 1196.2,1252.1 1196.4,1245.3 1196.6,1250.4 1196.8,1244.7 1197,1244.8 1197.1,1243.3 1197.3,1247.3 1197.5,1243.6 1197.7,1240.6 1197.9,1235.2 1198.1,1235.7 1198.2,1244.3 1198.4,1239.2 1198.6,1246.9 1198.8,1242.7 1199,1243.9 1199.2,1242.3 1199.3,1255.5 1199.5,1247.4 1199.7,1245.2 1199.9,1246 1200.1,1230.2 1200.3,1238 1200.4,1248.7 1200.6,1249 1200.8,1238.5 1201,1231.7 1201.2,1235.7 1201.4,1245.1 1201.5,1241.4 1201.7,1248 1201.9,1241.2 1202.1,1243.7 1202.3,1245.1 1202.5,1241.7 1202.6,1240.1 1202.8,1239.3 1203,1241.6 1203.2,1242.9 1203.4,1247.9 1203.6,1243.2 1203.7,1240.2 1203.9,1237.3 1204.1,1238.8 1204.3,1244.7 1204.5,1243.1 1204.7,1249.3 1204.8,1240.9 1205,1236.1 1205.2,1242.3 1205.4,1236.9 1205.6,1234.7 1205.8,1223.5 1205.9,1223.5 1206.1,1228.1 1206.3,1231.2 1206.5,1223.5 1206.7,1236.9 1206.9,1239.8 1207,1248 1207.2,1241.2 1207.4,1242.7 1207.6,1241.5 1207.8,1236.7 1208,1245.7 1208.1,1251.9 1208.3,1236.4 1208.5,1248.4 1208.7,1248.5 1208.9,1231.8 1209.1,1231.4 1209.2,1233.5 1209.4,1233.5 1209.6,1235.5 1209.8,1234.7 1210,1239.1 1210.2,1244 1210.3,1246.5 1210.5,1241.3 1210.7,1237.3 1210.9,1245.2 1211.1,1245.5 1211.3,1238.3 1211.4,1244.3 1211.6,1236 1211.8,1237.6 1212,1241.3 1212.2,1239 1212.4,1245.5 1212.5,1238.7 1212.7,1241.2 1212.9,1246.3 1213.1,1233 1213.3,1244.8 1213.5,1247.9 1213.6,1241.4 1213.8,1248.8 1214,1238.1 1214.2,1239.9 1214.4,1238.1 1214.6,1254.1 1214.7,1241.7 1214.9,1248.2 1215.1,1236.1 1215.3,1249 1215.5,1236.4 1215.7,1239 1215.8,1229 1216,1236.7 1216.2,1249.4 1216.4,1238.2 1216.6,1254.7 1216.8,1258.9 1216.9,1247.1 1217.1,1239.9 1217.3,1244.1 1217.5,1246.3 1217.7,1233.3 1217.9,1239.6 1218,1243 1218.2,1244.4 1218.4,1232.3 1218.6,1241.9 1218.8,1242.8 1219,1248.1 1219.1,1243.8 1219.3,1247.9 1219.5,1245.2 1219.7,1237.8 1219.9,1256.9 1220.1,1245.8 1220.2,1243.5 1220.4,1239.4 1220.6,1248.9 1220.8,1240.3 1221,1242.2 1221.2,1239.5 1221.3,1236.9 1221.5,1228.7 1221.7,1233.5 1221.9,1245.2 1222.1,1236.7 1222.3,1231.2 1222.4,1229.9 1222.6,1231.5 1222.8,1235 1223,1237.7 1223.2,1247.6 1223.3,1243.1 1223.5,1251.3 1223.7,1233.4 1223.9,1241.3 1224.1,1232.1 1224.3,1230.7 1224.4,1243.4 1224.6,1232.7 1224.8,1242.5 1225,1237.5 1225.2,1248.3 1225.4,1248.6 1225.5,1233.8 1225.7,1246.3 1225.9,1242.1 1226.1,1245 1226.3,1239.4 1226.5,1248.7 1226.6,1247.4 1226.8,1241.9 1227,1233.7 1227.2,1229.4 1227.4,1247.4 1227.6,1243.2 1227.7,1234.5 1227.9,1237.1 1228.1,1256.1 1228.3,1236.3 1228.5,1244 1228.7,1249.1 1228.8,1254.6 1229,1243.8 1229.2,1244.5 1229.4,1235.3 1229.6,1243.7 1229.8,1240.5 1229.9,1234.1 1230.1,1232.8 1230.3,1244.6 1230.5,1242.3 1230.7,1249.6 1230.9,1232.2 1231,1222.2 1231.2,1243.4 1231.4,1235.6 1231.6,1241.8 1231.8,1229.5 1232,1232.1 1232.1,1243.7 1232.3,1232.6 1232.5,1237.8 1232.7,1239.1 1232.9,1245 1233.1,1246.6 1233.2,1237.3 1233.4,1246.9 1233.6,1240.9 1233.8,1241.7 1234,1243.2 1234.2,1247.5 1234.3,1242 1234.5,1245.1 1234.7,1238.4 1234.9,1234.9 1235.1,1236.6 1235.3,1244 1235.4,1243 1235.6,1243.3 1235.8,1234.1 1236,1235.9 1236.2,1239.1 1236.4,1241.5 1236.5,1239.3 1236.7,1234 1236.9,1233.1 1237.1,1229.9 1237.3,1236.4 1237.5,1246.6 1237.6,1240.3 1237.8,1239.5 1238,1244 1238.2,1257.2 1238.4,1240 1238.6,1237.3 1238.7,1233.4 1238.9,1231.6 1239.1,1244.4 1239.3,1243.8 1239.5,1238.5 1239.7,1243.6 1239.8,1244.4 1240,1236.9 1240.2,1242.3 1240.4,1245.2 1240.6,1232.5 1240.8,1239.5 1240.9,1240.5 1241.1,1230.3 1241.3,1253.4 1241.5,1246.5 1241.7,1251.5 1241.9,1233.9 1242,1241.8 1242.2,1248.8 1242.4,1239.9 1242.6,1253.9 1242.8,1236.8 1243,1242.7 1243.1,1240.9 1243.3,1234 1243.5,1241.6 1243.7,1242.8 1243.9,1236.9 1244.1,1240 1244.2,1247.7 1244.4,1247.1 1244.6,1245 1244.8,1246.4 1245,1249.5 1245.2,1241.6 1245.3,1238.7 1245.5,1243.1 1245.7,1243.4 1245.9,1239 1246.1,1243.8 1246.3,1244.2 1246.4,1248.3 1246.6,1237.5 1246.8,1249.3 1247,1241.5 1247.2,1235.1 1247.4,1248.4 1247.5,1245.4 1247.7,1243.3 1247.9,1236.5 1248.1,1247.1 1248.3,1237 1248.5,1236.8 1248.6,1242.2 1248.8,1247.8 1249,1244.1 1249.2,1245.7 1249.4,1241.4 1249.6,1252.5 1249.7,1246.8 1249.9,1253 1250.1,1261.5 1250.3,1248.5 1250.5,1240.6 1250.6,1237.2 1250.8,1238.4 1251,1237.1 1251.2,1244 1251.4,1249.7 1251.6,1242.6 1251.7,1240.9 1251.9,1245.9 1252.1,1238 1252.3,1241.2 1252.5,1247.4 1252.7,1249 1252.8,1240.5 1253,1240.5 1253.2,1239.9 1253.4,1244.1 1253.6,1250.7 1253.8,1242.9 1253.9,1236.3 1254.1,1248.3 1254.3,1248.4 1254.5,1248.7 1254.7,1247 1254.9,1240.6 1255,1237 1255.2,1245.5 1255.4,1241 1255.6,1243.2 1255.8,1249.6 1256,1232.8 1256.1,1233.3 1256.3,1234.7 1256.5,1238.6 1256.7,1240.4 1256.9,1241.2 1257.1,1233.7 1257.2,1242.8 1257.4,1233.5 1257.6,1237.9 1257.8,1244.1 1258,1242.8 1258.2,1236.6 1258.3,1239.4 1258.5,1243.9 1258.7,1247.1 1258.9,1238.7 1259.1,1241.5 1259.3,1246.6 1259.4,1257.8 1259.6,1255.5 1259.8,1255.9 1260,1246.4 1260.2,1244.3 1260.4,1251.3 1260.5,1241.3 1260.7,1249.8 1260.9,1237.8 1261.1,1243.4 1261.3,1246.4 1261.5,1245.5 1261.6,1242.4 1261.8,1254 1262,1242.1 1262.2,1244.8 1262.4,1240.7 1262.6,1248 1262.7,1249 1262.9,1248.9 1263.1,1244.1 1263.3,1247.6 1263.5,1237.1 1263.7,1240.5 1263.8,1246.1 1264,1230.7 1264.2,1233.9 1264.4,1246.3 1264.6,1243.5 1264.8,1241.1 1264.9,1241.4 1265.1,1250.5 1265.3,1245 1265.5,1240.1 1265.7,1233.6 1265.9,1241.6 1266,1234.4 1266.2,1238.9 1266.4,1235.4 1266.6,1246.8 1266.8,1236.7 1267,1240.8 1267.1,1249.1 1267.3,1230.1 1267.5,1239.7 1267.7,1233.9 1267.9,1251.1 1268.1,1244.8 1268.2,1242.1 1268.4,1243.4 1268.6,1246.7 1268.8,1245.7 1269,1243.3 1269.2,1247.8 1269.3,1244.7 1269.5,1253.2 1269.7,1236.9 1269.9,1242.5 1270.1,1250 1270.3,1251.9 1270.4,1246.3 1270.6,1257.7 1270.8,1257.2 1271,1259.8 1271.2,1247.5 1271.4,1254 1271.5,1245.4 1271.7,1246.3 1271.9,1246.9 1272.1,1240.5 1272.3,1241.1 1272.5,1252.2 1272.6,1237.6 1272.8,1245.7 1273,1250 1273.2,1250.9 1273.4,1241.8 1273.6,1237.3 1273.7,1248.7 1273.9,1239.8 1274.1,1242.7 1274.3,1238.8 1274.5,1235.2 1274.7,1239.4 1274.8,1241.2 1275,1233.1 1275.2,1250.2 1275.4,1241.2 1275.6,1251.4 1275.8,1248.8 1275.9,1239.6 1276.1,1242.4 1276.3,1240.1 1276.5,1242.4 1276.7,1243.1 1276.9,1244.6 1277,1244.9 1277.2,1243.4 1277.4,1239.3 1277.6,1234.2 1277.8,1243.7 1277.9,1241.5 1278.1,1246.1 1278.3,1239.3 1278.5,1243.9 1278.7,1237.4 1278.9,1244.6 1279,1241.1 1279.2,1244.8 1279.4,1256.4 1279.6,1246.9 1279.8,1242 1280,1244.1 1280.1,1242.8 1280.3,1242.4 1280.5,1243 1280.7,1242.7 1280.9,1242.6 1281.1,1248 1281.2,1247.8 1281.4,1251.9 1281.6,1245.2 1281.8,1245 1282,1255.3 1282.2,1235 1282.3,1243.7 1282.5,1245.2 1282.7,1246 1282.9,1239.3 1283.1,1241.3 1283.3,1236.4 1283.4,1241.9 1283.6,1235.4 1283.8,1250.3 1284,1245.8 1284.2,1240.7 1284.4,1252.8 1284.5,1244.7 1284.7,1238.8 1284.9,1245.7 1285.1,1240 1285.3,1231.4 1285.5,1241.1 1285.6,1247.8 1285.8,1229.8 1286,1235.6 1286.2,1240.7 1286.4,1239.4 1286.6,1243.5 1286.7,1238.4 1286.9,1247.6 1287.1,1241.7 1287.3,1242 1287.5,1244.7 1287.7,1241 1287.8,1240.9 1288,1240.1 1288.2,1238.2 1288.4,1238.7 1288.6,1236.5 1288.8,1247.5 1288.9,1247.3 1289.1,1236.4 1289.3,1245.5 1289.5,1249.1 1289.7,1242.6 1289.9,1249 1290,1242.7 1290.2,1244.8 1290.4,1238.6 1290.6,1243.5 1290.8,1243.2 1291,1254.3 1291.1,1250.4 1291.3,1243 1291.5,1242.3 1291.7,1242.3 1291.9,1243.4 1292.1,1230.8 1292.2,1242 1292.4,1245.6 1292.6,1242.5 1292.8,1236.2 1293,1234.5 1293.2,1232.9 1293.3,1251 1293.5,1246.3 1293.7,1249.5 1293.9,1240.8 1294.1,1238.5 1294.3,1234.2 1294.4,1244.3 1294.6,1234.9 1294.8,1238.2 1295,1248.6 1295.2,1250.2 1295.4,1241.1 1295.5,1247 1295.7,1243.2 1295.9,1245 1296.1,1235.6 1296.3,1244 1296.5,1243.7 1296.6,1244.5 1296.8,1244.5 1297,1243.1 1297.2,1245.4 1297.4,1238.5 1297.6,1244.3 1297.7,1237.8 1297.9,1243.1 1298.1,1240.2 1298.3,1238.8 1298.5,1237.8 1298.7,1236.1 1298.8,1241.4 1299,1231.6 1299.2,1235.5 1299.4,1234.5 1299.6,1244.4 1299.8,1239.5 1299.9,1230.9 1300.1,1231 1300.3,1239 1300.5,1242.5 1300.7,1237.1 1300.9,1245.9 1301,1231.3 1301.2,1231 1301.4,1238.2 1301.6,1245.7 1301.8,1247.3 1302,1243 1302.1,1250.2 1302.3,1245.1 1302.5,1241.8 1302.7,1250.6 1302.9,1244.4 1303.1,1238.4 1303.2,1244.3 1303.4,1237.1 1303.6,1248.4 1303.8,1241.4 1304,1233.3 1304.1,1249.3 1304.3,1244.7 1304.5,1240 1304.7,1243.5 1304.9,1246.2 1305.1,1242.5 1305.2,1243.9 1305.4,1248.3 1305.6,1240.5 1305.8,1242.6 1306,1252.1 1306.2,1241.1 1306.3,1239.1 1306.5,1243.1 1306.7,1247.8 1306.9,1238.6 1307.1,1241.5 1307.3,1239.5 1307.4,1251.8 1307.6,1249.2 1307.8,1244.5 1308,1248.7 1308.2,1235.5 1308.4,1238.7 1308.5,1244.2 1308.7,1249.6 1308.9,1234.9 1309.1,1244.4 1309.3,1241.1 1309.5,1240.1 1309.6,1241.1 1309.8,1233.6 1310,1245.7 1310.2,1234.1 1310.4,1237.8 1310.6,1231 1310.7,1234.3 1310.9,1229.9 1311.1,1247.9 1311.3,1255.2 1311.5,1242.9 1311.7,1245.3 1311.8,1254.7 1312,1241.5 1312.2,1247 1312.4,1242.7 1312.6,1251.5 1312.8,1248.9 1312.9,1251.5 1313.1,1250.5 1313.3,1238.8 1313.5,1240.4 1313.7,1244 1313.9,1245.8 1314,1242.3 1314.2,1246 1314.4,1247 1314.6,1240.6 1314.8,1243 1315,1239.9 1315.1,1235.3 1315.3,1246.1 1315.5,1249.6 1315.7,1238.3 1315.9,1247.5 1316.1,1247.5 1316.2,1236.7 1316.4,1238.8 1316.6,1238.5 1316.8,1247.1 1317,1249.8 1317.2,1240.3 1317.3,1234.9 1317.5,1243.3 1317.7,1249.6 1317.9,1245 1318.1,1242.9 1318.3,1234.3 1318.4,1246.1 1318.6,1241.2 1318.8,1243.1 1319,1243.6 1319.2,1240.5 1319.4,1237.9 1319.5,1243.5 1319.7,1245.8 1319.9,1251.8 1320.1,1241.4 1320.3,1237.4 1320.5,1253.5 1320.6,1250.3 1320.8,1241.8 1321,1245.5 1321.2,1248.2 1321.4,1256.3 1321.6,1248.1 1321.7,1254.6 1321.9,1247.4 1322.1,1241.2 1322.3,1245.2 1322.5,1234.3 1322.7,1239.6 1322.8,1246 1323,1238.6 1323.2,1241.2 1323.4,1236.3 1323.6,1243 1323.8,1234 1323.9,1241 1324.1,1246.8 1324.3,1240.1 1324.5,1247.6 1324.7,1245 1324.9,1246.2 1325,1239.1 1325.2,1242.5 1325.4,1237.5 1325.6,1239 1325.8,1240.2 1326,1246.4 1326.1,1252.6 1326.3,1238.4 1326.5,1254.1 1326.7,1235.1 1326.9,1237.2 1327.1,1256.5 1327.2,1252.9 1327.4,1246.7 1327.6,1246 1327.8,1244.1 1328,1231.6 1328.2,1246.5 1328.3,1240.3 1328.5,1231.7 1328.7,1245.5 1328.9,1246.7 1329.1,1249.8 1329.3,1248.3 1329.4,1241.5 1329.6,1246.4 1329.8,1242.7 1330,1243.7 1330.2,1252.6 1330.4,1241.2 1330.5,1229.8 1330.7,1240.5 1330.9,1234.8 1331.1,1237.5 1331.3,1250.4 1331.4,1245.1 1331.6,1238.8 1331.8,1242 1332,1248.1 1332.2,1243.8 1332.4,1251.8 1332.5,1237.6 1332.7,1244.2 1332.9,1243.5 1333.1,1238.2 1333.3,1244.6 1333.5,1246.5 1333.6,1249 1333.8,1232.4 1334,1243.6 1334.2,1246.1 1334.4,1249.1 1334.6,1244.9 1334.7,1243.1 1334.9,1239.3 1335.1,1250.4 1335.3,1242.4 1335.5,1250.8 1335.7,1243.5 1335.8,1245 1336,1239.9 1336.2,1237.9 1336.4,1247 1336.6,1245.3 1336.8,1253.9 1336.9,1238.8 1337.1,1237.6 1337.3,1248.5 1337.5,1236.9 1337.7,1234.3 1337.9,1227.7 1338,1234 1338.2,1242.6 1338.4,1245 1338.6,1231.1 1338.8,1243.4 1339,1237.3 1339.1,1239.8 1339.3,1248 1339.5,1245.3 1339.7,1249.1 1339.9,1252.2 1340.1,1253.5 1340.2,1251.3 1340.4,1252.7 1340.6,1244.2 1340.8,1240.7 1341,1239.6 1341.2,1242.8 1341.3,1238.2 1341.5,1243.5 1341.7,1241.6 1341.9,1250.3 1342.1,1237.4 1342.3,1248.7 1342.4,1246.2 1342.6,1254.4 1342.8,1239.3 1343,1245.4 1343.2,1239.7 1343.4,1240.6 1343.5,1244.1 1343.7,1247.4 1343.9,1250.2 1344.1,1240.8 1344.3,1239 1344.5,1243.2 1344.6,1248.4 1344.8,1245.8 1345,1246.2 1345.2,1247.6 1345.4,1242.9 1345.6,1245.9 1345.7,1253.4 1345.9,1245.7 1346.1,1239.5 1346.3,1240.8 1346.5,1241.6 1346.7,1244.4 1346.8,1245.9 1347,1234.6 1347.2,1238.4 1347.4,1240.1 1347.6,1236.7 1347.8,1231.3 1347.9,1235.4 1348.1,1247.4 1348.3,1235.3 1348.5,1250.6 1348.7,1242.7 1348.9,1243.3 1349,1252.3 1349.2,1252.8 1349.4,1236.5 1349.6,1247.9 1349.8,1245.8 1350,1238.9 1350.1,1240.9 1350.3,1237.8 1350.5,1251.3 1350.7,1256.4 1350.9,1235.1 1351.1,1238.5 1351.2,1241.7 1351.4,1237.7 1351.6,1248.2 1351.8,1243.9 1352,1241.3 1352.2,1233.9 1352.3,1234.2 1352.5,1242.7 1352.7,1232.5 1352.9,1246.9 1353.1,1240.2 1353.3,1248 1353.4,1244.3 1353.6,1245.7 1353.8,1244.7 1354,1239.1 1354.2,1239.4 1354.4,1240.7 1354.5,1243.3 1354.7,1246.8 1354.9,1241.5 1355.1,1249.6 1355.3,1240.4 1355.5,1236.6 1355.6,1238.8 1355.8,1239.3 1356,1250.1 1356.2,1247 1356.4,1244.8 1356.6,1242.2 1356.7,1244.1 1356.9,1236.3 1357.1,1255.5 1357.3,1245.7 1357.5,1248.1 1357.7,1248.9 1357.8,1242.5 1358,1242 1358.2,1237.8 1358.4,1242.3 1358.6,1241.7 1358.7,1233 1358.9,1244 1359.1,1236.4 1359.3,1241.6 1359.5,1254.5 1359.7,1251.6 1359.8,1234.9 1360,1243.4 1360.2,1244.1 1360.4,1250.2 1360.6,1252.2 1360.8,1241.7 1360.9,1238.5 1361.1,1243.4 1361.3,1244.2 1361.5,1232.4 1361.7,1243.7 1361.9,1240.2 1362,1251.3 1362.2,1245.9 1362.4,1244 1362.6,1247 1362.8,1241.8 1363,1243.5 1363.1,1244.4 1363.3,1234.1 1363.5,1249.4" fill="none" stroke="#000" stroke-width="2.2" stroke-linejoin="round"/>
<path d="M128.2 1296.5V1306M164.9 1296.5V1306M201.5 1296.5V1306M238.2 1296.5V1306M274.8 1290V1306M311.5 1296.5V1306M348.1 1296.5V1306M384.8 1296.5V1306M421.4 1296.5V1306M458 1290V1306M494.7 1296.5V1306M531.3 1296.5V1306M568 1296.5V1306M604.6 1296.5V1306M641.3 1290V1306M677.9 1296.5V1306M714.5 1296.5V1306M751.2 1296.5V1306M787.8 1296.5V1306M824.5 1290V1306M861.1 1296.5V1306M897.8 1296.5V1306M934.4 1296.5V1306M971.1 1296.5V1306M1007.7 1290V1306M1044.3 1296.5V1306M1081 1296.5V1306M1117.6 1296.5V1306M1154.3 1296.5V1306M1190.9 1290V1306M1227.6 1296.5V1306M1264.2 1296.5V1306M1300.9 1296.5V1306M1337.5 1296.5V1306" stroke="#000" stroke-width="6" fill="none"/>
<rect x="91.5" y="3.8" width="1282.5" height="1304.8" fill="none" stroke="#000" stroke-width="6.6"/>
<g font-weight="bold" font-size="58.5" text-anchor="middle" stroke="#000" stroke-width="0.5"><text x="91.6" y="1378.5">20</text><text x="277" y="1378.5">30</text><text x="459" y="1378.5">40</text><text x="641.8" y="1378.5">50</text><text x="824.5" y="1378.5">60</text><text x="1007.7" y="1378.5">70</text><text x="1191.4" y="1378.5">80</text><text x="1374.1" y="1378.5">90</text></g>
<text x="740" y="1455" font-weight="bold" font-size="65" text-anchor="middle" stroke="#000" stroke-width="0.5">2θ (deg)</text>
<text transform="translate(43.5,658.3) rotate(-90)" font-weight="bold" font-size="62.7" text-anchor="middle" stroke="#000" stroke-width="0.5">Intensity (a. u.)</text>
<g stroke="#000" stroke-width="3.2" fill="none" stroke-linecap="round">
<path d="M781.3 118.9H790.1M785.7 114.5V123.3"/>
<path d="M758.6 176H812.6"/>
<path d="M785.8 225.6V241.4"/>
<path d="M758.6 290.5H771.4M778.1 290.5H790.9M797.6 290.5H810.4"/>
</g>
<g font-size="52">
<text x="830" y="136">Experimental</text>
<text x="830" y="192.5">Fitting</text>
<text x="830" y="250.5">Bragg Peak Position</text>
<text x="830" y="307">Difference</text>
</g>
</svg>
</body></html>
